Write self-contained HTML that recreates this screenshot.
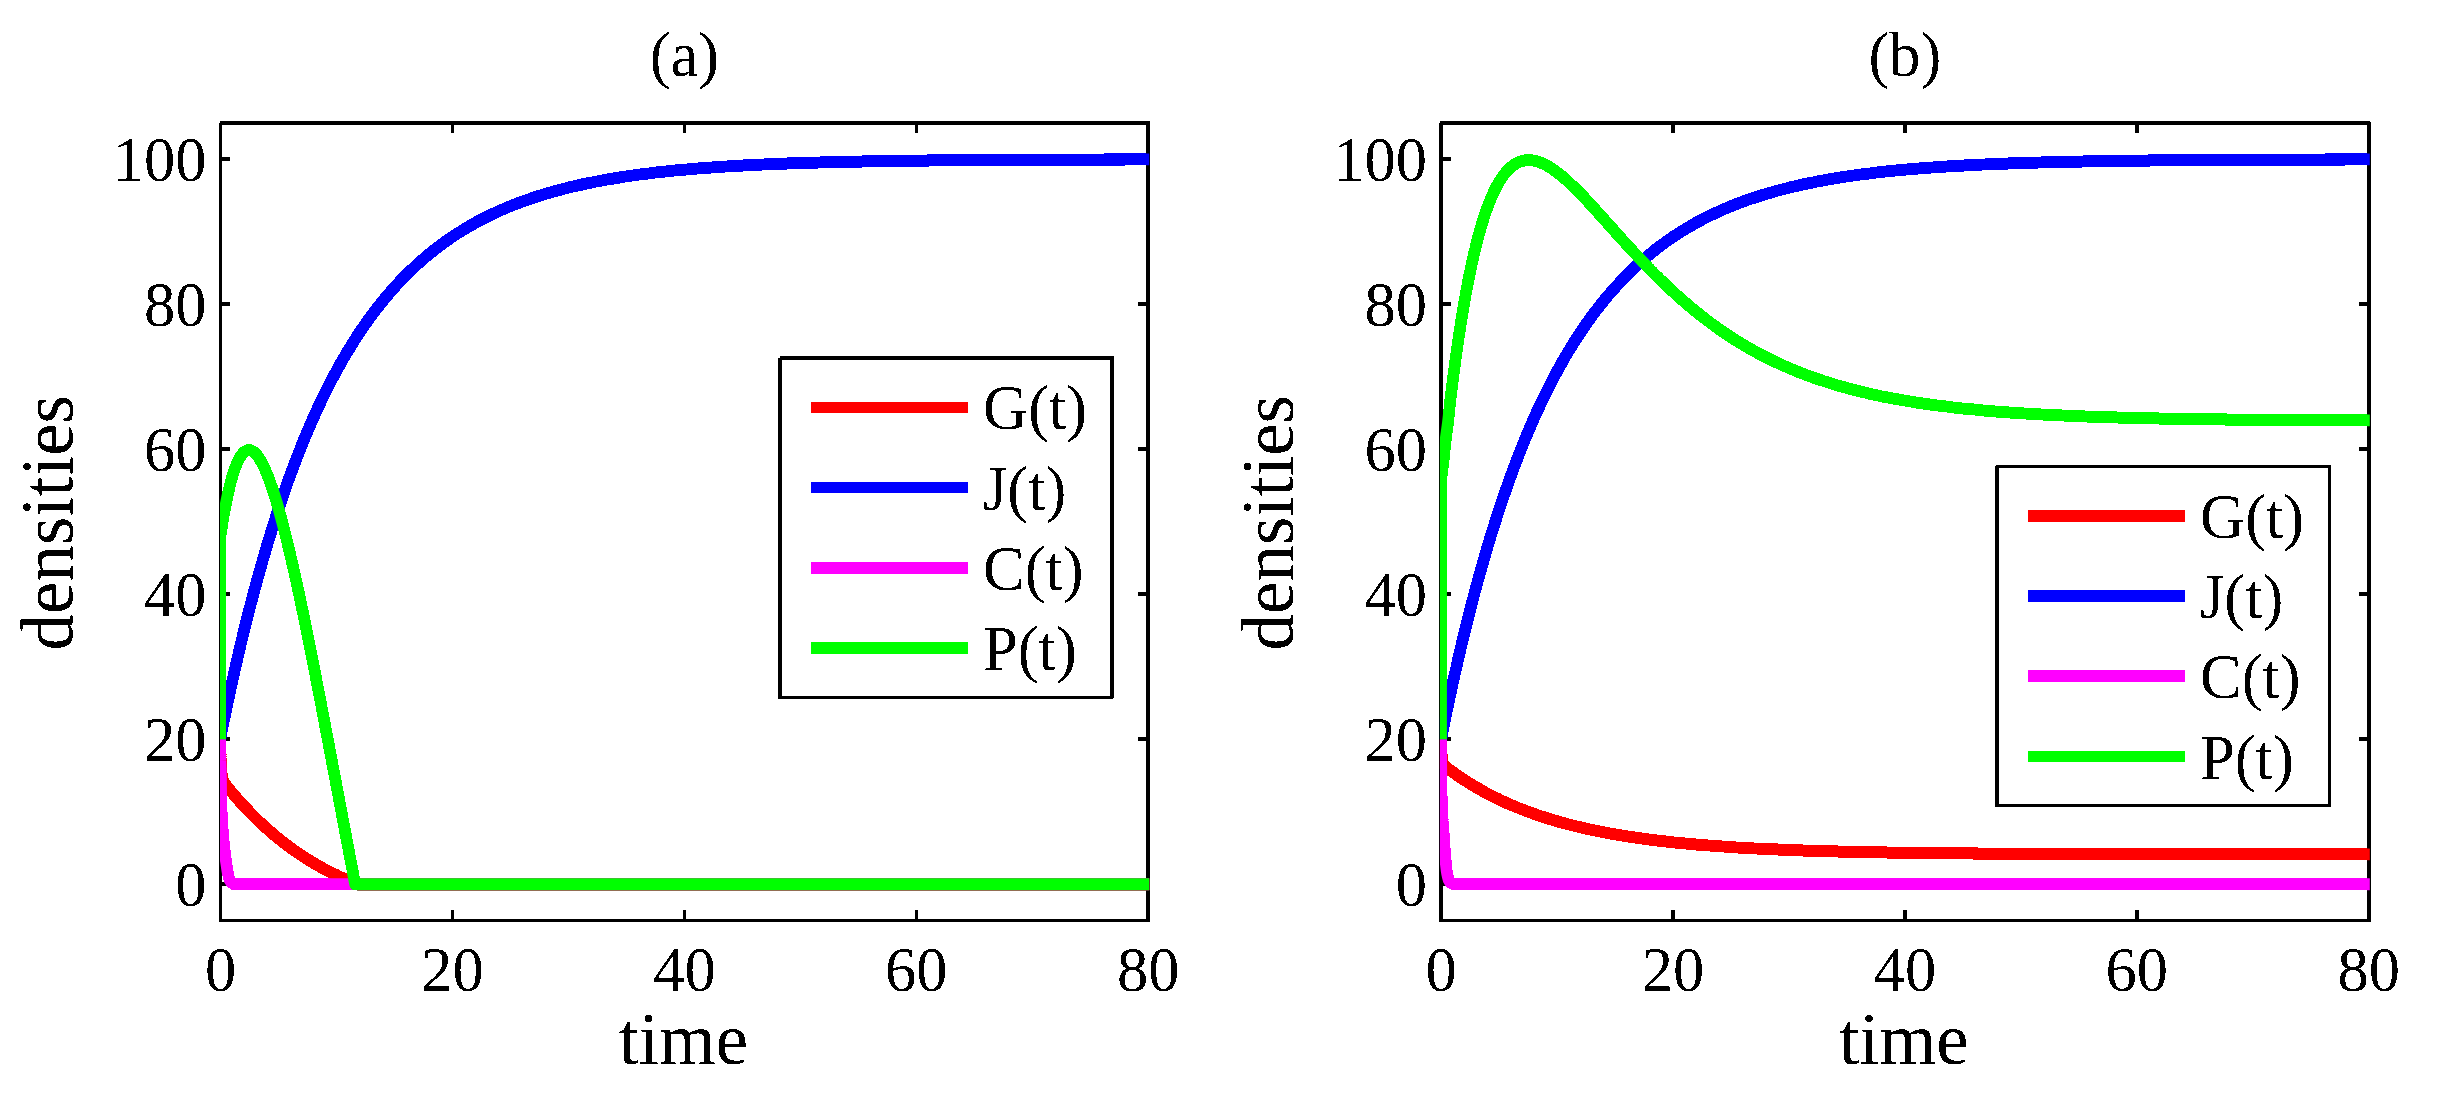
<!DOCTYPE html>
<html><head><meta charset="utf-8"><title>densities</title>
<style>html,body{margin:0;padding:0;background:#fff;width:2447px;height:1101px;overflow:hidden}svg{display:block}text{font-family:"Liberation Serif","Times New Roman",serif;fill:#000}</style></head><body>
<svg width="2447" height="1101" viewBox="0 0 2447 1101">
<rect width="2447" height="1101" fill="#fff"/>
<defs><filter id="bin" filterUnits="userSpaceOnUse" x="0" y="0" width="2447" height="1101" color-interpolation-filters="sRGB"><feComponentTransfer><feFuncA type="discrete" tableValues="0 1"/></feComponentTransfer></filter><clipPath id="clipa"><rect x="220.00" y="121.00" width="929.80" height="801.50"/></clipPath><clipPath id="clipb"><rect x="1439.90" y="121.00" width="930.40" height="801.50"/></clipPath></defs>
<g filter="url(#bin)">
<rect x="219" y="123" width="3" height="799" fill="#000"/><rect x="220" y="121" width="930" height="4" fill="#000"/><rect x="1146" y="122" width="4" height="800" fill="#000"/><rect x="219" y="919" width="930" height="3" fill="#000"/>
<path d="M221.00,884.25H230.00M1147.00,884.25H1138.00M221.00,739.25H230.00M1147.00,739.25H1138.00M221.00,594.25H230.00M1147.00,594.25H1138.00M221.00,449.25H230.00M1147.00,449.25H1138.00M221.00,304.25H230.00M1147.00,304.25H1138.00M221.00,159.25H230.00M1147.00,159.25H1138.00M452.45,920.00V910.00M452.45,124.00V133.00M684.40,920.00V910.00M684.40,124.00V133.00M916.35,920.00V910.00M916.35,124.00V133.00" stroke="#000" stroke-width="3.50" fill="none"/>
<g clip-path="url(#clipa)" fill="none" stroke-width="11.80" stroke-linejoin="round" stroke-linecap="butt">
<path stroke="#ff0000" d="M220.10,739.25 L220.11,739.84 L220.12,740.42 L220.13,740.98 L220.15,741.55 L220.16,742.10 L220.17,742.65 L220.18,743.18 L220.19,743.71 L220.20,744.23 L220.22,744.75 L220.23,745.26 L220.24,745.76 L220.25,746.25 L220.26,746.73 L220.27,747.21 L220.29,747.68 L220.30,748.15 L220.31,748.61 L220.32,749.06 L220.33,749.50 L220.34,749.94 L220.36,750.37 L220.37,750.80 L220.38,751.22 L220.39,751.63 L220.40,752.04 L220.41,752.44 L220.42,752.84 L220.44,753.23 L220.45,753.62 L220.46,754.00 L220.47,754.37 L220.48,754.74 L220.49,755.10 L220.51,755.46 L220.52,755.81 L220.53,756.16 L220.54,756.51 L220.55,756.84 L220.56,757.18 L220.58,757.51 L220.59,757.83 L220.60,758.15 L220.61,758.46 L220.62,758.78 L220.63,759.08 L220.65,759.38 L220.66,759.68 L220.67,759.97 L220.68,760.26 L220.73,761.44 L220.78,762.56 L220.79,762.91 L220.83,763.60 L220.88,764.59 L220.91,765.21 L220.93,765.52 L220.98,766.40 L221.02,767.21 L221.02,767.22 L221.07,768.00 L221.12,768.74 L221.14,768.96 L221.17,769.43 L221.22,770.09 L221.25,770.49 L221.27,770.70 L221.32,771.29 L221.37,771.82 L221.37,771.84 L221.42,772.36 L221.47,772.86 L221.48,773.00 L221.52,773.32 L221.57,773.77 L221.60,774.03 L221.61,774.19 L221.66,774.58 L221.71,774.94 L221.71,774.96 L221.76,775.32 L221.81,775.65 L221.82,775.75 L221.86,775.98 L221.91,776.28 L221.94,776.46 L221.96,776.57 L222.01,776.85 L222.05,777.10 L222.06,777.12 L222.11,777.37 L222.16,777.61 L222.17,777.67 L222.20,777.84 L222.25,778.05 L222.28,778.18 L222.30,778.26 L222.35,778.46 L222.40,778.64 L222.40,778.65 L222.45,778.84 L222.50,779.01 L222.51,779.06 L222.55,779.18 L222.60,779.35 L222.63,779.44 L222.65,779.50 L222.70,779.65 L222.74,779.79 L222.74,779.80 L222.79,779.94 L222.84,780.07 L222.86,780.11 L222.89,780.20 L222.94,780.33 L222.97,780.40 L222.99,780.45 L223.04,780.57 L223.08,780.68 L223.09,780.69 L223.14,780.80 L223.19,780.91 L223.20,780.93 L223.24,781.02 L223.29,781.12 L223.31,781.18 L223.33,781.22 L223.38,781.32 L223.43,781.40 L223.43,781.41 L223.48,781.51 L223.53,781.60 L223.54,781.62 L223.58,781.69 L223.66,781.83 L223.77,782.03 L223.89,782.22 L224.00,782.40 L224.11,782.58 L224.23,782.75 L224.34,782.92 L224.46,783.09 L224.57,783.25 L224.69,783.41 L224.80,783.57 L224.92,783.73 L225.03,783.88 L225.14,784.03 L225.26,784.18 L225.37,784.33 L225.49,784.48 L225.60,784.63 L225.72,784.78 L225.83,784.92 L225.95,785.07 L226.06,785.22 L226.17,785.36 L226.29,785.50 L226.40,785.65 L226.52,785.79 L226.63,785.93 L226.75,786.08 L226.86,786.22 L226.98,786.36 L227.09,786.50 L227.21,786.65 L227.32,786.79 L227.43,786.93 L227.55,787.07 L227.66,787.21 L227.78,787.35 L227.89,787.49 L228.01,787.63 L228.12,787.78 L228.24,787.92 L228.35,788.06 L228.46,788.20 L228.58,788.34 L228.69,788.48 L228.81,788.61 L228.92,788.75 L229.04,788.89 L229.15,789.03 L229.27,789.17 L229.38,789.31 L229.49,789.45 L229.61,789.59 L229.72,789.73 L229.84,789.87 L229.95,790.00 L230.07,790.14 L230.18,790.28 L230.30,790.42 L230.41,790.56 L230.52,790.69 L230.64,790.83 L230.75,790.97 L230.87,791.11 L230.98,791.24 L231.10,791.38 L231.21,791.52 L231.33,791.65 L231.44,791.79 L231.56,791.93 L231.67,792.06 L231.78,792.20 L231.90,792.34 L232.01,792.47 L232.13,792.61 L232.24,792.75 L232.36,792.88 L232.47,793.02 L232.59,793.15 L232.70,793.29 L232.81,793.42 L232.93,793.56 L233.04,793.69 L233.16,793.83 L233.27,793.96 L233.39,794.10 L233.50,794.23 L233.62,794.37 L233.73,794.50 L233.84,794.64 L233.96,794.77 L234.07,794.90 L234.19,795.04 L234.30,795.17 L234.42,795.30 L234.53,795.44 L234.65,795.57 L234.76,795.70 L234.87,795.84 L234.99,795.97 L235.10,796.10 L235.22,796.24 L235.33,796.37 L235.45,796.50 L235.56,796.63 L235.68,796.77 L235.79,796.90 L235.91,797.03 L236.02,797.16 L236.13,797.29 L236.25,797.43 L236.36,797.56 L236.48,797.69 L236.59,797.82 L236.71,797.95 L236.82,798.08 L236.94,798.21 L237.05,798.35 L237.16,798.48 L237.28,798.61 L237.39,798.74 L237.51,798.87 L237.62,799.00 L237.74,799.13 L237.85,799.26 L237.97,799.39 L238.08,799.52 L238.19,799.65 L238.31,799.78 L238.42,799.91 L238.54,800.04 L238.65,800.17 L238.77,800.29 L238.88,800.42 L239.00,800.55 L239.11,800.68 L239.22,800.81 L239.34,800.94 L239.45,801.07 L239.57,801.20 L239.68,801.32 L239.80,801.45 L239.91,801.58 L240.03,801.71 L240.14,801.83 L240.25,801.96 L240.37,802.09 L240.48,802.22 L240.60,802.34 L240.71,802.47 L240.83,802.60 L240.94,802.73 L241.06,802.85 L241.17,802.98 L241.29,803.11 L241.40,803.23 L241.51,803.36 L241.63,803.48 L241.74,803.61 L241.86,803.74 L241.97,803.86 L242.09,803.99 L242.20,804.11 L242.32,804.24 L242.43,804.37 L242.54,804.49 L242.66,804.62 L242.77,804.74 L242.89,804.87 L243.00,804.99 L243.12,805.12 L243.23,805.24 L243.35,805.36 L243.46,805.49 L243.57,805.61 L243.69,805.74 L243.80,805.86 L243.92,805.99 L244.03,806.11 L244.15,806.23 L244.26,806.36 L244.38,806.48 L244.49,806.60 L244.60,806.73 L244.72,806.85 L244.83,806.97 L244.95,807.10 L245.06,807.22 L245.18,807.34 L245.29,807.46 L245.41,807.59 L245.52,807.71 L245.64,807.83 L245.75,807.95 L245.86,808.07 L245.98,808.20 L246.09,808.32 L246.21,808.44 L246.32,808.56 L246.44,808.68 L246.55,808.80 L246.67,808.93 L246.78,809.05 L246.89,809.17 L247.01,809.29 L247.12,809.41 L247.24,809.53 L247.35,809.65 L247.47,809.77 L247.58,809.89 L247.70,810.01 L247.81,810.13 L247.92,810.25 L248.04,810.37 L248.15,810.49 L248.27,810.61 L248.38,810.73 L248.50,810.85 L248.61,810.97 L248.73,811.09 L248.84,811.21 L248.95,811.33 L249.07,811.44 L249.18,811.56 L249.30,811.68 L249.41,811.80 L249.53,811.92 L249.64,812.04 L249.76,812.16 L249.87,812.27 L249.99,812.39 L250.10,812.51 L250.21,812.63 L250.33,812.75 L250.44,812.86 L250.56,812.98 L250.67,813.10 L250.79,813.21 L250.90,813.33 L251.02,813.45 L251.13,813.57 L251.24,813.68 L251.36,813.80 L251.47,813.92 L251.59,814.03 L251.70,814.15 L251.82,814.26 L251.93,814.38 L252.05,814.50 L252.16,814.61 L252.27,814.73 L252.39,814.84 L252.50,814.96 L252.62,815.07 L252.73,815.19 L252.85,815.31 L252.96,815.42 L253.08,815.54 L253.19,815.65 L253.30,815.77 L253.42,815.88 L253.53,815.99 L253.65,816.11 L253.76,816.22 L253.88,816.34 L253.99,816.45 L254.11,816.57 L254.22,816.68 L254.34,816.79 L254.45,816.91 L254.56,817.02 L254.68,817.13 L254.79,817.25 L254.91,817.36 L255.40,817.85 L255.90,818.34 L256.39,818.82 L256.88,819.30 L257.38,819.78 L257.87,820.26 L258.37,820.74 L258.86,821.21 L259.36,821.68 L259.85,822.15 L260.35,822.62 L260.84,823.09 L261.33,823.55 L261.83,824.01 L262.32,824.47 L262.82,824.93 L263.31,825.39 L263.81,825.84 L264.30,826.30 L264.79,826.75 L265.29,827.20 L265.78,827.64 L266.28,828.09 L266.77,828.53 L267.27,828.98 L267.76,829.41 L268.25,829.85 L268.75,830.29 L269.24,830.72 L269.74,831.16 L270.23,831.59 L270.73,832.02 L271.22,832.44 L271.72,832.87 L272.21,833.29 L272.70,833.71 L273.20,834.13 L273.69,834.55 L274.19,834.97 L274.68,835.38 L275.18,835.79 L275.67,836.20 L276.16,836.61 L276.66,837.02 L277.15,837.43 L277.65,837.83 L278.14,838.23 L278.64,838.63 L279.13,839.03 L279.62,839.43 L280.12,839.82 L280.61,840.22 L281.11,840.61 L281.60,841.00 L282.10,841.39 L282.59,841.78 L283.08,842.16 L283.58,842.55 L284.07,842.93 L284.57,843.31 L285.06,843.69 L285.56,844.06 L286.05,844.44 L286.55,844.81 L287.04,845.18 L287.53,845.55 L288.03,845.92 L288.52,846.29 L289.02,846.66 L289.51,847.02 L290.01,847.38 L290.50,847.74 L290.99,848.10 L291.49,848.46 L291.98,848.82 L292.48,849.17 L292.97,849.53 L293.47,849.88 L293.96,850.23 L294.45,850.58 L294.95,850.92 L295.44,851.27 L295.94,851.61 L296.43,851.95 L296.93,852.29 L297.42,852.63 L297.92,852.97 L298.41,853.31 L298.90,853.64 L299.40,853.98 L299.89,854.31 L300.39,854.64 L300.88,854.97 L301.38,855.30 L301.87,855.62 L302.36,855.95 L302.86,856.27 L303.35,856.59 L303.85,856.91 L304.34,857.23 L304.84,857.55 L305.33,857.86 L305.82,858.18 L306.32,858.49 L306.81,858.80 L307.31,859.11 L307.80,859.42 L308.30,859.73 L308.79,860.04 L309.29,860.34 L309.78,860.65 L310.27,860.95 L310.77,861.25 L311.26,861.55 L311.76,861.85 L312.25,862.14 L312.75,862.44 L313.24,862.73 L313.73,863.03 L314.23,863.32 L314.72,863.61 L315.22,863.90 L315.71,864.18 L316.21,864.47 L316.70,864.76 L317.19,865.04 L317.69,865.32 L318.18,865.60 L318.68,865.88 L319.17,866.16 L319.67,866.44 L320.16,866.72 L320.65,866.99 L321.15,867.26 L321.64,867.54 L322.14,867.81 L322.63,868.08 L323.13,868.35 L323.62,868.61 L324.12,868.88 L324.61,869.14 L325.10,869.41 L325.60,869.67 L326.09,869.93 L326.59,870.19 L327.08,870.45 L327.58,870.71 L328.07,870.97 L328.56,871.22 L329.06,871.48 L329.55,871.73 L330.05,871.98 L330.54,872.23 L331.04,872.48 L331.53,872.73 L332.02,872.98 L332.52,873.23 L333.01,873.47 L333.51,873.71 L334.00,873.96 L334.50,874.20 L334.99,874.44 L335.49,874.68 L335.98,874.92 L336.47,875.16 L336.97,875.39 L337.46,875.63 L337.96,875.86 L338.45,876.10 L338.95,876.33 L339.44,876.56 L339.93,876.79 L340.43,877.02 L340.92,877.25 L341.42,877.47 L341.91,877.70 L342.41,877.92 L342.90,878.15 L343.39,878.37 L343.89,878.59 L344.38,878.81 L344.88,879.03 L345.37,879.25 L345.87,879.47 L346.36,879.68 L346.86,879.90 L347.35,880.11 L347.84,880.33 L348.34,880.54 L348.83,880.75 L349.33,880.96 L349.82,881.17 L350.32,881.38 L350.81,881.59 L351.30,881.79 L351.80,882.00 L352.29,882.20 L352.79,882.41 L353.28,882.61 L353.78,882.81 L354.27,883.01 L354.76,883.21 L355.26,883.41 L355.75,883.61 L356.25,883.81 L356.74,884.01 L357.24,884.20 L357.73,884.25 L358.23,884.25 L358.72,884.25 L359.21,884.25 L359.71,884.25 L360.20,884.25 L360.70,884.25 L361.19,884.25 L361.69,884.25 L362.18,884.25 L362.67,884.25 L363.17,884.25 L363.66,884.25 L364.16,884.25 L364.65,884.25 L365.15,884.25 L365.64,884.25 L366.13,884.25 L366.63,884.25 L367.12,884.25 L367.62,884.25 L368.11,884.25 L368.61,884.25 L369.10,884.25 L369.59,884.25 L370.09,884.25 L370.58,884.25 L371.08,884.25 L371.57,884.25 L372.07,884.25 L372.56,884.25 L373.06,884.25 L373.55,884.25 L374.04,884.25 L374.54,884.25 L375.03,884.25 L375.53,884.25 L376.02,884.25 L376.52,884.25 L377.01,884.25 L377.50,884.25 L378.00,884.25 L378.49,884.25 L378.99,884.25 L379.48,884.25 L379.98,884.25 L380.47,884.25 L380.96,884.25 L381.46,884.25 L381.95,884.25 L382.45,884.25 L382.94,884.25 L383.44,884.25 L383.93,884.25 L384.43,884.25 L384.92,884.25 L385.41,884.25 L385.91,884.25 L386.40,884.25 L386.90,884.25 L387.39,884.25 L387.89,884.25 L388.38,884.25 L388.87,884.25 L389.37,884.25 L389.86,884.25 L390.36,884.25 L390.85,884.25 L391.35,884.25 L391.84,884.25 L392.33,884.25 L392.83,884.25 L393.32,884.25 L393.82,884.25 L394.31,884.25 L394.81,884.25 L395.30,884.25 L395.79,884.25 L396.29,884.25 L396.78,884.25 L397.28,884.25 L397.77,884.25 L398.27,884.25 L398.76,884.25 L399.26,884.25 L399.75,884.25 L400.24,884.25 L400.74,884.25 L401.23,884.25 L401.73,884.25 L402.22,884.25 L402.72,884.25 L403.21,884.25 L403.70,884.25 L404.20,884.25 L404.69,884.25 L405.19,884.25 L405.68,884.25 L406.18,884.25 L406.67,884.25 L407.16,884.25 L407.66,884.25 L408.15,884.25 L408.65,884.25 L409.14,884.25 L409.64,884.25 L410.13,884.25 L410.63,884.25 L411.12,884.25 L411.61,884.25 L412.11,884.25 L412.60,884.25 L413.10,884.25 L413.59,884.25 L414.09,884.25 L414.58,884.25 L415.07,884.25 L415.57,884.25 L416.06,884.25 L416.56,884.25 L417.05,884.25 L417.55,884.25 L418.04,884.25 L418.53,884.25 L419.03,884.25 L419.52,884.25 L420.02,884.25 L420.51,884.25 L421.01,884.25 L421.50,884.25 L422.00,884.25 L422.49,884.25 L422.98,884.25 L423.48,884.25 L423.97,884.25 L424.47,884.25 L424.96,884.25 L425.46,884.25 L425.95,884.25 L426.44,884.25 L426.94,884.25 L427.43,884.25 L427.93,884.25 L428.42,884.25 L428.92,884.25 L429.41,884.25 L429.90,884.25 L430.40,884.25 L430.89,884.25 L431.39,884.25 L431.88,884.25 L432.38,884.25 L432.87,884.25 L433.36,884.25 L433.86,884.25 L434.35,884.25 L434.85,884.25 L435.34,884.25 L435.84,884.25 L436.33,884.25 L436.83,884.25 L437.32,884.25 L437.81,884.25 L438.31,884.25 L438.80,884.25 L439.30,884.25 L439.79,884.25 L440.29,884.25 L440.78,884.25 L441.27,884.25 L441.77,884.25 L442.26,884.25 L442.76,884.25 L443.25,884.25 L443.75,884.25 L444.24,884.25 L444.73,884.25 L445.23,884.25 L445.72,884.25 L446.22,884.25 L446.71,884.25 L447.21,884.25 L447.70,884.25 L448.20,884.25 L448.69,884.25 L449.18,884.25 L449.68,884.25 L450.17,884.25 L450.67,884.25 L451.16,884.25 L451.66,884.25 L452.15,884.25 L454.48,884.25 L456.81,884.25 L459.13,884.25 L461.46,884.25 L463.79,884.25 L466.12,884.25 L468.45,884.25 L470.78,884.25 L473.10,884.25 L475.43,884.25 L477.76,884.25 L480.09,884.25 L482.42,884.25 L484.75,884.25 L487.07,884.25 L489.40,884.25 L491.73,884.25 L494.06,884.25 L496.39,884.25 L498.72,884.25 L501.04,884.25 L503.37,884.25 L505.70,884.25 L508.03,884.25 L510.36,884.25 L512.68,884.25 L515.01,884.25 L517.34,884.25 L519.67,884.25 L522.00,884.25 L524.33,884.25 L526.65,884.25 L528.98,884.25 L531.31,884.25 L533.64,884.25 L535.97,884.25 L538.30,884.25 L540.62,884.25 L542.95,884.25 L545.28,884.25 L547.61,884.25 L549.94,884.25 L552.27,884.25 L554.59,884.25 L556.92,884.25 L559.25,884.25 L561.58,884.25 L563.91,884.25 L566.23,884.25 L568.56,884.25 L570.89,884.25 L573.22,884.25 L575.55,884.25 L577.88,884.25 L580.20,884.25 L582.53,884.25 L584.86,884.25 L587.19,884.25 L589.52,884.25 L591.85,884.25 L594.17,884.25 L596.50,884.25 L598.83,884.25 L601.16,884.25 L603.49,884.25 L605.82,884.25 L608.14,884.25 L610.47,884.25 L612.80,884.25 L615.13,884.25 L617.46,884.25 L619.78,884.25 L622.11,884.25 L624.44,884.25 L626.77,884.25 L629.10,884.25 L631.43,884.25 L633.75,884.25 L636.08,884.25 L638.41,884.25 L640.74,884.25 L643.07,884.25 L645.40,884.25 L647.72,884.25 L650.05,884.25 L652.38,884.25 L654.71,884.25 L657.04,884.25 L659.37,884.25 L661.69,884.25 L664.02,884.25 L666.35,884.25 L668.68,884.25 L671.01,884.25 L673.33,884.25 L675.66,884.25 L677.99,884.25 L680.32,884.25 L682.65,884.25 L684.98,884.25 L687.30,884.25 L689.63,884.25 L691.96,884.25 L694.29,884.25 L696.62,884.25 L698.95,884.25 L701.27,884.25 L703.60,884.25 L705.93,884.25 L708.26,884.25 L710.59,884.25 L712.92,884.25 L715.24,884.25 L717.57,884.25 L719.90,884.25 L722.23,884.25 L724.56,884.25 L726.88,884.25 L729.21,884.25 L731.54,884.25 L733.87,884.25 L736.20,884.25 L738.53,884.25 L740.85,884.25 L743.18,884.25 L745.51,884.25 L747.84,884.25 L750.17,884.25 L752.50,884.25 L754.82,884.25 L757.15,884.25 L759.48,884.25 L761.81,884.25 L764.14,884.25 L766.47,884.25 L768.79,884.25 L771.12,884.25 L773.45,884.25 L775.78,884.25 L778.11,884.25 L780.43,884.25 L782.76,884.25 L785.09,884.25 L787.42,884.25 L789.75,884.25 L792.08,884.25 L794.40,884.25 L796.73,884.25 L799.06,884.25 L801.39,884.25 L803.72,884.25 L806.05,884.25 L808.37,884.25 L810.70,884.25 L813.03,884.25 L815.36,884.25 L817.69,884.25 L820.02,884.25 L822.34,884.25 L824.67,884.25 L827.00,884.25 L829.33,884.25 L831.66,884.25 L833.98,884.25 L836.31,884.25 L838.64,884.25 L840.97,884.25 L843.30,884.25 L845.63,884.25 L847.95,884.25 L850.28,884.25 L852.61,884.25 L854.94,884.25 L857.27,884.25 L859.60,884.25 L861.92,884.25 L864.25,884.25 L866.58,884.25 L868.91,884.25 L871.24,884.25 L873.57,884.25 L875.89,884.25 L878.22,884.25 L880.55,884.25 L882.88,884.25 L885.21,884.25 L887.53,884.25 L889.86,884.25 L892.19,884.25 L894.52,884.25 L896.85,884.25 L899.18,884.25 L901.50,884.25 L903.83,884.25 L906.16,884.25 L908.49,884.25 L910.82,884.25 L913.15,884.25 L915.47,884.25 L917.80,884.25 L920.13,884.25 L922.46,884.25 L924.79,884.25 L927.12,884.25 L929.44,884.25 L931.77,884.25 L934.10,884.25 L936.43,884.25 L938.76,884.25 L941.08,884.25 L943.41,884.25 L945.74,884.25 L948.07,884.25 L950.40,884.25 L952.73,884.25 L955.05,884.25 L957.38,884.25 L959.71,884.25 L962.04,884.25 L964.37,884.25 L966.70,884.25 L969.02,884.25 L971.35,884.25 L973.68,884.25 L976.01,884.25 L978.34,884.25 L980.67,884.25 L982.99,884.25 L985.32,884.25 L987.65,884.25 L989.98,884.25 L992.31,884.25 L994.63,884.25 L996.96,884.25 L999.29,884.25 L1001.62,884.25 L1003.95,884.25 L1006.28,884.25 L1008.60,884.25 L1010.93,884.25 L1013.26,884.25 L1015.59,884.25 L1017.92,884.25 L1020.25,884.25 L1022.57,884.25 L1024.90,884.25 L1027.23,884.25 L1029.56,884.25 L1031.89,884.25 L1034.22,884.25 L1036.54,884.25 L1038.87,884.25 L1041.20,884.25 L1043.53,884.25 L1045.86,884.25 L1048.18,884.25 L1050.51,884.25 L1052.84,884.25 L1055.17,884.25 L1057.50,884.25 L1059.83,884.25 L1062.15,884.25 L1064.48,884.25 L1066.81,884.25 L1069.14,884.25 L1071.47,884.25 L1073.80,884.25 L1076.12,884.25 L1078.45,884.25 L1080.78,884.25 L1083.11,884.25 L1085.44,884.25 L1087.77,884.25 L1090.09,884.25 L1092.42,884.25 L1094.75,884.25 L1097.08,884.25 L1099.41,884.25 L1101.73,884.25 L1104.06,884.25 L1106.39,884.25 L1108.72,884.25 L1111.05,884.25 L1113.38,884.25 L1115.70,884.25 L1118.03,884.25 L1120.36,884.25 L1122.69,884.25 L1125.02,884.25 L1127.35,884.25 L1129.67,884.25 L1132.00,884.25 L1134.33,884.25 L1136.66,884.25 L1138.99,884.25 L1141.32,884.25 L1143.64,884.25 L1145.97,884.25 L1148.30,884.25 L1149.30,884.25"/>
<path stroke="#0000ff" d="M220.10,739.25 L220.11,739.19 L220.12,739.13 L220.13,739.08 L220.15,739.02 L220.16,738.96 L220.17,738.90 L220.18,738.84 L220.19,738.78 L220.20,738.73 L220.22,738.67 L220.23,738.61 L220.24,738.55 L220.25,738.49 L220.26,738.43 L220.27,738.38 L220.29,738.32 L220.30,738.26 L220.31,738.20 L220.32,738.14 L220.33,738.09 L220.34,738.03 L220.36,737.97 L220.37,737.91 L220.38,737.85 L220.39,737.79 L220.40,737.74 L220.41,737.68 L220.42,737.62 L220.44,737.56 L220.45,737.50 L220.46,737.45 L220.47,737.39 L220.48,737.33 L220.49,737.27 L220.51,737.21 L220.52,737.16 L220.53,737.10 L220.54,737.04 L220.55,736.98 L220.56,736.92 L220.58,736.87 L220.59,736.81 L220.60,736.75 L220.61,736.69 L220.62,736.63 L220.63,736.57 L220.65,736.52 L220.66,736.46 L220.67,736.40 L220.68,736.34 L220.73,736.10 L220.78,735.85 L220.79,735.77 L220.83,735.61 L220.88,735.36 L220.91,735.20 L220.93,735.12 L220.98,734.87 L221.02,734.63 L221.02,734.63 L221.07,734.38 L221.12,734.14 L221.14,734.06 L221.17,733.89 L221.22,733.65 L221.25,733.49 L221.27,733.40 L221.32,733.16 L221.37,732.92 L221.37,732.91 L221.42,732.67 L221.47,732.42 L221.48,732.35 L221.52,732.18 L221.57,731.94 L221.60,731.78 L221.61,731.69 L221.66,731.45 L221.71,731.22 L221.71,731.20 L221.76,730.96 L221.81,730.72 L221.82,730.65 L221.86,730.47 L221.91,730.23 L221.94,730.08 L221.96,729.99 L222.01,729.75 L222.05,729.52 L222.06,729.50 L222.11,729.26 L222.16,729.02 L222.17,728.95 L222.20,728.77 L222.25,728.53 L222.28,728.39 L222.30,728.29 L222.35,728.05 L222.40,727.82 L222.40,727.81 L222.45,727.56 L222.50,727.32 L222.51,727.26 L222.55,727.08 L222.60,726.84 L222.63,726.70 L222.65,726.60 L222.70,726.35 L222.74,726.13 L222.74,726.11 L222.79,725.87 L222.84,725.63 L222.86,725.57 L222.89,725.39 L222.94,725.15 L222.97,725.01 L222.99,724.91 L223.04,724.67 L223.08,724.45 L223.09,724.43 L223.14,724.19 L223.19,723.94 L223.20,723.89 L223.24,723.70 L223.29,723.46 L223.31,723.33 L223.33,723.22 L223.38,722.98 L223.43,722.77 L223.43,722.74 L223.48,722.50 L223.53,722.26 L223.54,722.21 L223.58,722.02 L223.66,721.66 L223.77,721.10 L223.89,720.54 L224.00,719.98 L224.11,719.43 L224.23,718.87 L224.34,718.32 L224.46,717.77 L224.57,717.21 L224.69,716.66 L224.80,716.11 L224.92,715.55 L225.03,715.00 L225.14,714.45 L225.26,713.90 L225.37,713.35 L225.49,712.80 L225.60,712.25 L225.72,711.71 L225.83,711.16 L225.95,710.61 L226.06,710.07 L226.17,709.52 L226.29,708.97 L226.40,708.43 L226.52,707.89 L226.63,707.34 L226.75,706.80 L226.86,706.26 L226.98,705.71 L227.09,705.17 L227.21,704.63 L227.32,704.09 L227.43,703.55 L227.55,703.01 L227.66,702.47 L227.78,701.93 L227.89,701.40 L228.01,700.86 L228.12,700.32 L228.24,699.79 L228.35,699.25 L228.46,698.71 L228.58,698.18 L228.69,697.65 L228.81,697.11 L228.92,696.58 L229.04,696.05 L229.15,695.51 L229.27,694.98 L229.38,694.45 L229.49,693.92 L229.61,693.39 L229.72,692.86 L229.84,692.33 L229.95,691.81 L230.07,691.28 L230.18,690.75 L230.30,690.22 L230.41,689.70 L230.52,689.17 L230.64,688.65 L230.75,688.12 L230.87,687.60 L230.98,687.07 L231.10,686.55 L231.21,686.03 L231.33,685.51 L231.44,684.98 L231.56,684.46 L231.67,683.94 L231.78,683.42 L231.90,682.90 L232.01,682.38 L232.13,681.87 L232.24,681.35 L232.36,680.83 L232.47,680.31 L232.59,679.80 L232.70,679.28 L232.81,678.77 L232.93,678.25 L233.04,677.74 L233.16,677.22 L233.27,676.71 L233.39,676.20 L233.50,675.68 L233.62,675.17 L233.73,674.66 L233.84,674.15 L233.96,673.64 L234.07,673.13 L234.19,672.62 L234.30,672.11 L234.42,671.60 L234.53,671.10 L234.65,670.59 L234.76,670.08 L234.87,669.58 L234.99,669.07 L235.10,668.57 L235.22,668.06 L235.33,667.56 L235.45,667.05 L235.56,666.55 L235.68,666.05 L235.79,665.54 L235.91,665.04 L236.02,664.54 L236.13,664.04 L236.25,663.54 L236.36,663.04 L236.48,662.54 L236.59,662.04 L236.71,661.54 L236.82,661.05 L236.94,660.55 L237.05,660.05 L237.16,659.56 L237.28,659.06 L237.39,658.56 L237.51,658.07 L237.62,657.58 L237.74,657.08 L237.85,656.59 L237.97,656.10 L238.08,655.60 L238.19,655.11 L238.31,654.62 L238.42,654.13 L238.54,653.64 L238.65,653.15 L238.77,652.66 L238.88,652.17 L239.00,651.68 L239.11,651.19 L239.22,650.71 L239.34,650.22 L239.45,649.73 L239.57,649.25 L239.68,648.76 L239.80,648.27 L239.91,647.79 L240.03,647.31 L240.14,646.82 L240.25,646.34 L240.37,645.86 L240.48,645.37 L240.60,644.89 L240.71,644.41 L240.83,643.93 L240.94,643.45 L241.06,642.97 L241.17,642.49 L241.29,642.01 L241.40,641.53 L241.51,641.06 L241.63,640.58 L241.74,640.10 L241.86,639.62 L241.97,639.15 L242.09,638.67 L242.20,638.20 L242.32,637.72 L242.43,637.25 L242.54,636.77 L242.66,636.30 L242.77,635.83 L242.89,635.36 L243.00,634.88 L243.12,634.41 L243.23,633.94 L243.35,633.47 L243.46,633.00 L243.57,632.53 L243.69,632.06 L243.80,631.59 L243.92,631.13 L244.03,630.66 L244.15,630.19 L244.26,629.72 L244.38,629.26 L244.49,628.79 L244.60,628.33 L244.72,627.86 L244.83,627.40 L244.95,626.93 L245.06,626.47 L245.18,626.01 L245.29,625.55 L245.41,625.08 L245.52,624.62 L245.64,624.16 L245.75,623.70 L245.86,623.24 L245.98,622.78 L246.09,622.32 L246.21,621.86 L246.32,621.40 L246.44,620.94 L246.55,620.49 L246.67,620.03 L246.78,619.57 L246.89,619.12 L247.01,618.66 L247.12,618.21 L247.24,617.75 L247.35,617.30 L247.47,616.84 L247.58,616.39 L247.70,615.94 L247.81,615.48 L247.92,615.03 L248.04,614.58 L248.15,614.13 L248.27,613.68 L248.38,613.23 L248.50,612.78 L248.61,612.33 L248.73,611.88 L248.84,611.43 L248.95,610.98 L249.07,610.53 L249.18,610.09 L249.30,609.64 L249.41,609.19 L249.53,608.75 L249.64,608.30 L249.76,607.86 L249.87,607.41 L249.99,606.97 L250.10,606.52 L250.21,606.08 L250.33,605.64 L250.44,605.20 L250.56,604.75 L250.67,604.31 L250.79,603.87 L250.90,603.43 L251.02,602.99 L251.13,602.55 L251.24,602.11 L251.36,601.67 L251.47,601.23 L251.59,600.80 L251.70,600.36 L251.82,599.92 L251.93,599.48 L252.05,599.05 L252.16,598.61 L252.27,598.18 L252.39,597.74 L252.50,597.31 L252.62,596.87 L252.73,596.44 L252.85,596.01 L252.96,595.57 L253.08,595.14 L253.19,594.71 L253.30,594.28 L253.42,593.85 L253.53,593.42 L253.65,592.99 L253.76,592.56 L253.88,592.13 L253.99,591.70 L254.11,591.27 L254.22,590.84 L254.34,590.41 L254.45,589.99 L254.56,589.56 L254.68,589.13 L254.79,588.71 L254.91,588.28 L255.40,586.45 L255.90,584.62 L256.39,582.80 L256.88,580.99 L257.38,579.19 L257.87,577.40 L258.37,575.61 L258.86,573.83 L259.36,572.06 L259.85,570.30 L260.35,568.54 L260.84,566.79 L261.33,565.05 L261.83,563.32 L262.32,561.59 L262.82,559.87 L263.31,558.16 L263.81,556.46 L264.30,554.76 L264.79,553.07 L265.29,551.39 L265.78,549.71 L266.28,548.04 L266.77,546.38 L267.27,544.73 L267.76,543.08 L268.25,541.44 L268.75,539.81 L269.24,538.18 L269.74,536.56 L270.23,534.95 L270.73,533.34 L271.22,531.74 L271.72,530.15 L272.21,528.57 L272.70,526.99 L273.20,525.42 L273.69,523.85 L274.19,522.30 L274.68,520.75 L275.18,519.20 L275.67,517.66 L276.16,516.13 L276.66,514.61 L277.15,513.09 L277.65,511.58 L278.14,510.07 L278.64,508.57 L279.13,507.08 L279.62,505.59 L280.12,504.11 L280.61,502.64 L281.11,501.17 L281.60,499.71 L282.10,498.26 L282.59,496.81 L283.08,495.37 L283.58,493.93 L284.07,492.50 L284.57,491.08 L285.06,489.66 L285.56,488.25 L286.05,486.84 L286.55,485.44 L287.04,484.05 L287.53,482.66 L288.03,481.28 L288.52,479.90 L289.02,478.53 L289.51,477.17 L290.01,475.81 L290.50,474.46 L290.99,473.11 L291.49,471.77 L291.98,470.43 L292.48,469.10 L292.97,467.78 L293.47,466.46 L293.96,465.15 L294.45,463.84 L294.95,462.54 L295.44,461.24 L295.94,459.95 L296.43,458.67 L296.93,457.39 L297.42,456.12 L297.92,454.85 L298.41,453.58 L298.90,452.33 L299.40,451.07 L299.89,449.83 L300.39,448.59 L300.88,447.35 L301.38,446.12 L301.87,444.89 L302.36,443.67 L302.86,442.46 L303.35,441.25 L303.85,440.04 L304.34,438.84 L304.84,437.65 L305.33,436.46 L305.82,435.27 L306.32,434.09 L306.81,432.92 L307.31,431.75 L307.80,430.59 L308.30,429.43 L308.79,428.27 L309.29,427.12 L309.78,425.98 L310.27,424.84 L310.77,423.70 L311.26,422.57 L311.76,421.45 L312.25,420.33 L312.75,419.21 L313.24,418.10 L313.73,417.00 L314.23,415.89 L314.72,414.80 L315.22,413.71 L315.71,412.62 L316.21,411.54 L316.70,410.46 L317.19,409.39 L317.69,408.32 L318.18,407.25 L318.68,406.19 L319.17,405.14 L319.67,404.09 L320.16,403.04 L320.65,402.00 L321.15,400.96 L321.64,399.93 L322.14,398.90 L322.63,397.88 L323.13,396.86 L323.62,395.84 L324.12,394.83 L324.61,393.82 L325.10,392.82 L325.60,391.82 L326.09,390.83 L326.59,389.84 L327.08,388.86 L327.58,387.87 L328.07,386.90 L328.56,385.92 L329.06,384.96 L329.55,383.99 L330.05,383.03 L330.54,382.08 L331.04,381.12 L331.53,380.18 L332.02,379.23 L332.52,378.29 L333.01,377.36 L333.51,376.42 L334.00,375.50 L334.50,374.57 L334.99,373.65 L335.49,372.74 L335.98,371.82 L336.47,370.92 L336.97,370.01 L337.46,369.11 L337.96,368.21 L338.45,367.32 L338.95,366.43 L339.44,365.55 L339.93,364.66 L340.43,363.79 L340.92,362.91 L341.42,362.04 L341.91,361.18 L342.41,360.31 L342.90,359.45 L343.39,358.60 L343.89,357.75 L344.38,356.90 L344.88,356.05 L345.37,355.21 L345.87,354.38 L346.36,353.54 L346.86,352.71 L347.35,351.89 L347.84,351.06 L348.34,350.24 L348.83,349.43 L349.33,348.61 L349.82,347.81 L350.32,347.00 L350.81,346.20 L351.30,345.40 L351.80,344.60 L352.29,343.81 L352.79,343.02 L353.28,342.24 L353.78,341.46 L354.27,340.68 L354.76,339.90 L355.26,339.13 L355.75,338.36 L356.25,337.60 L356.74,336.83 L357.24,336.08 L357.73,335.32 L358.23,334.57 L358.72,333.82 L359.21,333.07 L359.71,332.33 L360.20,331.59 L360.70,330.85 L361.19,330.12 L361.69,329.39 L362.18,328.66 L362.67,327.94 L363.17,327.22 L363.66,326.50 L364.16,325.79 L364.65,325.08 L365.15,324.37 L365.64,323.66 L366.13,322.96 L366.63,322.26 L367.12,321.56 L367.62,320.87 L368.11,320.18 L368.61,319.49 L369.10,318.81 L369.59,318.12 L370.09,317.45 L370.58,316.77 L371.08,316.10 L371.57,315.43 L372.07,314.76 L372.56,314.09 L373.06,313.43 L373.55,312.77 L374.04,312.12 L374.54,311.47 L375.03,310.81 L375.53,310.17 L376.02,309.52 L376.52,308.88 L377.01,308.24 L377.50,307.60 L378.00,306.97 L378.49,306.34 L378.99,305.71 L379.48,305.08 L379.98,304.46 L380.47,303.84 L380.96,303.22 L381.46,302.61 L381.95,302.00 L382.45,301.39 L382.94,300.78 L383.44,300.17 L383.93,299.57 L384.43,298.97 L384.92,298.38 L385.41,297.78 L385.91,297.19 L386.40,296.60 L386.90,296.01 L387.39,295.43 L387.89,294.85 L388.38,294.27 L388.87,293.69 L389.37,293.12 L389.86,292.54 L390.36,291.97 L390.85,291.41 L391.35,290.84 L391.84,290.28 L392.33,289.72 L392.83,289.16 L393.32,288.61 L393.82,288.05 L394.31,287.50 L394.81,286.96 L395.30,286.41 L395.79,285.87 L396.29,285.33 L396.78,284.79 L397.28,284.25 L397.77,283.72 L398.27,283.19 L398.76,282.66 L399.26,282.13 L399.75,281.60 L400.24,281.08 L400.74,280.56 L401.23,280.04 L401.73,279.53 L402.22,279.01 L402.72,278.50 L403.21,277.99 L403.70,277.48 L404.20,276.98 L404.69,276.48 L405.19,275.97 L405.68,275.48 L406.18,274.98 L406.67,274.48 L407.16,273.99 L407.66,273.50 L408.15,273.01 L408.65,272.53 L409.14,272.04 L409.64,271.56 L410.13,271.08 L410.63,270.60 L411.12,270.13 L411.61,269.65 L412.11,269.18 L412.60,268.71 L413.10,268.25 L413.59,267.78 L414.09,267.32 L414.58,266.85 L415.07,266.39 L415.57,265.94 L416.06,265.48 L416.56,265.03 L417.05,264.57 L417.55,264.12 L418.04,263.68 L418.53,263.23 L419.03,262.79 L419.52,262.34 L420.02,261.90 L420.51,261.46 L421.01,261.03 L421.50,260.59 L422.00,260.16 L422.49,259.73 L422.98,259.30 L423.48,258.87 L423.97,258.45 L424.47,258.02 L424.96,257.60 L425.46,257.18 L425.95,256.76 L426.44,256.34 L426.94,255.93 L427.43,255.52 L427.93,255.11 L428.42,254.70 L428.92,254.29 L429.41,253.88 L429.90,253.48 L430.40,253.08 L430.89,252.67 L431.39,252.28 L431.88,251.88 L432.38,251.48 L432.87,251.09 L433.36,250.70 L433.86,250.30 L434.35,249.92 L434.85,249.53 L435.34,249.14 L435.84,248.76 L436.33,248.38 L436.83,248.00 L437.32,247.62 L437.81,247.24 L438.31,246.86 L438.80,246.49 L439.30,246.12 L439.79,245.74 L440.29,245.37 L440.78,245.01 L441.27,244.64 L441.77,244.28 L442.26,243.91 L442.76,243.55 L443.25,243.19 L443.75,242.83 L444.24,242.47 L444.73,242.12 L445.23,241.76 L445.72,241.41 L446.22,241.06 L446.71,240.71 L447.21,240.36 L447.70,240.02 L448.20,239.67 L448.69,239.33 L449.18,238.99 L449.68,238.65 L450.17,238.31 L450.67,237.97 L451.16,237.63 L451.66,237.30 L452.15,236.96 L454.48,235.41 L456.81,233.89 L459.13,232.40 L461.46,230.94 L463.79,229.51 L466.12,228.11 L468.45,226.73 L470.78,225.38 L473.10,224.06 L475.43,222.77 L477.76,221.50 L480.09,220.26 L482.42,219.04 L484.75,217.85 L487.07,216.68 L489.40,215.53 L491.73,214.41 L494.06,213.31 L496.39,212.23 L498.72,211.17 L501.04,210.13 L503.37,209.12 L505.70,208.12 L508.03,207.15 L510.36,206.19 L512.68,205.25 L515.01,204.33 L517.34,203.43 L519.67,202.55 L522.00,201.69 L524.33,200.84 L526.65,200.01 L528.98,199.20 L531.31,198.40 L533.64,197.62 L535.97,196.85 L538.30,196.10 L540.62,195.36 L542.95,194.64 L545.28,193.94 L547.61,193.24 L549.94,192.56 L552.27,191.90 L554.59,191.25 L556.92,190.61 L559.25,189.98 L561.58,189.37 L563.91,188.77 L566.23,188.18 L568.56,187.60 L570.89,187.04 L573.22,186.48 L575.55,185.94 L577.88,185.40 L580.20,184.88 L582.53,184.37 L584.86,183.87 L587.19,183.38 L589.52,182.90 L591.85,182.42 L594.17,181.96 L596.50,181.51 L598.83,181.06 L601.16,180.63 L603.49,180.20 L605.82,179.78 L608.14,179.37 L610.47,178.97 L612.80,178.58 L615.13,178.19 L617.46,177.81 L619.78,177.44 L622.11,177.08 L624.44,176.72 L626.77,176.37 L629.10,176.03 L631.43,175.70 L633.75,175.37 L636.08,175.05 L638.41,174.73 L640.74,174.42 L643.07,174.12 L645.40,173.82 L647.72,173.53 L650.05,173.25 L652.38,172.97 L654.71,172.69 L657.04,172.42 L659.37,172.16 L661.69,171.90 L664.02,171.65 L666.35,171.40 L668.68,171.16 L671.01,170.92 L673.33,170.69 L675.66,170.46 L677.99,170.24 L680.32,170.02 L682.65,169.80 L684.98,169.59 L687.30,169.39 L689.63,169.18 L691.96,168.99 L694.29,168.79 L696.62,168.60 L698.95,168.41 L701.27,168.23 L703.60,168.05 L705.93,167.88 L708.26,167.70 L710.59,167.54 L712.92,167.37 L715.24,167.21 L717.57,167.05 L719.90,166.89 L722.23,166.74 L724.56,166.59 L726.88,166.44 L729.21,166.30 L731.54,166.16 L733.87,166.02 L736.20,165.89 L738.53,165.75 L740.85,165.62 L743.18,165.50 L745.51,165.37 L747.84,165.25 L750.17,165.13 L752.50,165.01 L754.82,164.90 L757.15,164.79 L759.48,164.67 L761.81,164.57 L764.14,164.46 L766.47,164.36 L768.79,164.25 L771.12,164.15 L773.45,164.06 L775.78,163.96 L778.11,163.87 L780.43,163.77 L782.76,163.68 L785.09,163.60 L787.42,163.51 L789.75,163.42 L792.08,163.34 L794.40,163.26 L796.73,163.18 L799.06,163.10 L801.39,163.02 L803.72,162.95 L806.05,162.87 L808.37,162.80 L810.70,162.73 L813.03,162.66 L815.36,162.59 L817.69,162.53 L820.02,162.46 L822.34,162.40 L824.67,162.33 L827.00,162.27 L829.33,162.21 L831.66,162.15 L833.98,162.10 L836.31,162.04 L838.64,161.98 L840.97,161.93 L843.30,161.87 L845.63,161.82 L847.95,161.77 L850.28,161.72 L852.61,161.67 L854.94,161.62 L857.27,161.58 L859.60,161.53 L861.92,161.48 L864.25,161.44 L866.58,161.40 L868.91,161.35 L871.24,161.31 L873.57,161.27 L875.89,161.23 L878.22,161.19 L880.55,161.15 L882.88,161.11 L885.21,161.08 L887.53,161.04 L889.86,161.00 L892.19,160.97 L894.52,160.93 L896.85,160.90 L899.18,160.87 L901.50,160.84 L903.83,160.80 L906.16,160.77 L908.49,160.74 L910.82,160.71 L913.15,160.68 L915.47,160.65 L917.80,160.63 L920.13,160.60 L922.46,160.57 L924.79,160.55 L927.12,160.52 L929.44,160.49 L931.77,160.47 L934.10,160.45 L936.43,160.42 L938.76,160.40 L941.08,160.38 L943.41,160.35 L945.74,160.33 L948.07,160.31 L950.40,160.29 L952.73,160.27 L955.05,160.25 L957.38,160.23 L959.71,160.21 L962.04,160.19 L964.37,160.17 L966.70,160.15 L969.02,160.13 L971.35,160.12 L973.68,160.10 L976.01,160.08 L978.34,160.06 L980.67,160.05 L982.99,160.03 L985.32,160.02 L987.65,160.00 L989.98,159.99 L992.31,159.97 L994.63,159.96 L996.96,159.94 L999.29,159.93 L1001.62,159.92 L1003.95,159.90 L1006.28,159.89 L1008.60,159.88 L1010.93,159.86 L1013.26,159.85 L1015.59,159.84 L1017.92,159.83 L1020.25,159.82 L1022.57,159.81 L1024.90,159.79 L1027.23,159.78 L1029.56,159.77 L1031.89,159.76 L1034.22,159.75 L1036.54,159.74 L1038.87,159.73 L1041.20,159.72 L1043.53,159.71 L1045.86,159.70 L1048.18,159.69 L1050.51,159.69 L1052.84,159.68 L1055.17,159.67 L1057.50,159.66 L1059.83,159.65 L1062.15,159.64 L1064.48,159.64 L1066.81,159.63 L1069.14,159.62 L1071.47,159.61 L1073.80,159.61 L1076.12,159.60 L1078.45,159.59 L1080.78,159.59 L1083.11,159.58 L1085.44,159.57 L1087.77,159.57 L1090.09,159.56 L1092.42,159.55 L1094.75,159.55 L1097.08,159.54 L1099.41,159.54 L1101.73,159.53 L1104.06,159.52 L1106.39,159.52 L1108.72,159.51 L1111.05,159.51 L1113.38,159.50 L1115.70,159.50 L1118.03,159.49 L1120.36,159.49 L1122.69,159.48 L1125.02,159.48 L1127.35,159.47 L1129.67,159.47 L1132.00,159.47 L1134.33,159.46 L1136.66,159.46 L1138.99,159.45 L1141.32,159.45 L1143.64,159.44 L1145.97,159.44 L1148.30,159.44 L1149.30,159.44"/>
<path stroke="#ff00ff" d="M220.10,739.25 L220.11,742.39 L220.12,745.66 L220.13,748.45 L220.15,750.12 L220.16,751.01 L220.17,751.87 L220.18,752.68 L220.19,753.46 L220.20,754.21 L220.22,754.92 L220.23,755.61 L220.24,756.26 L220.25,756.88 L220.26,757.47 L220.27,758.04 L220.29,758.58 L220.30,759.09 L220.31,759.58 L220.32,760.05 L220.33,760.50 L220.34,760.92 L220.36,761.32 L220.37,761.71 L220.38,762.07 L220.39,762.42 L220.40,762.76 L220.41,763.08 L220.42,763.39 L220.44,763.68 L220.45,763.96 L220.46,764.23 L220.47,764.50 L220.48,764.75 L220.49,765.00 L220.51,765.24 L220.52,765.47 L220.53,765.71 L220.54,765.93 L220.55,766.16 L220.56,766.39 L220.58,766.61 L220.59,766.84 L220.60,767.07 L220.61,767.31 L220.62,767.55 L220.63,767.79 L220.65,768.04 L220.66,768.30 L220.67,768.57 L220.68,768.84 L220.73,770.15 L220.78,771.74 L220.79,772.34 L220.83,773.69 L220.88,776.10 L220.91,778.24 L220.93,779.54 L220.98,783.86 L221.02,788.47 L221.02,788.54 L221.07,793.10 L221.12,797.04 L221.14,798.07 L221.17,799.86 L221.22,801.68 L221.25,802.79 L221.27,803.39 L221.32,804.99 L221.37,806.46 L221.37,806.50 L221.42,807.93 L221.47,809.27 L221.48,809.66 L221.52,810.54 L221.57,811.73 L221.60,812.45 L221.61,812.86 L221.66,813.92 L221.71,814.89 L221.71,814.93 L221.76,815.89 L221.81,816.79 L221.82,817.05 L221.86,817.66 L221.91,818.49 L221.94,818.99 L221.96,819.30 L222.01,820.07 L222.05,820.78 L222.06,820.82 L222.11,821.56 L222.16,822.29 L222.17,822.48 L222.20,823.01 L222.25,823.73 L222.28,824.16 L222.30,824.46 L222.35,825.19 L222.40,825.89 L222.40,825.94 L222.45,826.71 L222.50,827.46 L222.51,827.64 L222.55,828.19 L222.60,828.90 L222.63,829.31 L222.65,829.60 L222.70,830.28 L222.74,830.89 L222.74,830.95 L222.79,831.60 L222.84,832.24 L222.86,832.39 L222.89,832.87 L222.94,833.48 L222.97,833.83 L222.99,834.09 L223.04,834.68 L223.08,835.21 L223.09,835.27 L223.14,835.84 L223.19,836.41 L223.20,836.54 L223.24,836.97 L223.29,837.52 L223.31,837.83 L223.33,838.07 L223.38,838.61 L223.43,839.09 L223.43,839.15 L223.48,839.69 L223.53,840.22 L223.54,840.33 L223.58,840.75 L223.66,841.56 L223.77,842.76 L223.89,843.93 L224.00,845.08 L224.11,846.20 L224.23,847.30 L224.34,848.37 L224.46,849.41 L224.57,850.43 L224.69,851.42 L224.80,852.39 L224.92,853.34 L225.03,854.25 L225.14,855.14 L225.26,856.00 L225.37,856.84 L225.49,857.66 L225.60,858.46 L225.72,859.24 L225.83,860.02 L225.95,860.78 L226.06,861.55 L226.17,862.31 L226.29,863.08 L226.40,863.85 L226.52,864.64 L226.63,865.43 L226.75,866.24 L226.86,867.04 L226.98,867.84 L227.09,868.62 L227.21,869.39 L227.32,870.13 L227.43,870.85 L227.55,871.52 L227.66,872.16 L227.78,872.75 L227.89,873.32 L228.01,873.88 L228.12,874.43 L228.24,874.97 L228.35,875.50 L228.46,876.01 L228.58,876.50 L228.69,876.96 L228.81,877.41 L228.92,877.82 L229.04,878.21 L229.15,878.57 L229.27,878.89 L229.38,879.17 L229.49,879.43 L229.61,879.68 L229.72,879.93 L229.84,880.16 L229.95,880.39 L230.07,880.61 L230.18,880.82 L230.30,881.03 L230.41,881.22 L230.52,881.41 L230.64,881.58 L230.75,881.75 L230.87,881.91 L230.98,882.06 L231.10,882.20 L231.21,882.34 L231.33,882.46 L231.44,882.57 L231.56,882.68 L231.67,882.77 L231.78,882.86 L231.90,882.95 L232.01,883.04 L232.13,883.12 L232.24,883.21 L232.36,883.29 L232.47,883.37 L232.59,883.45 L232.70,883.53 L232.81,883.60 L232.93,883.67 L233.04,883.74 L233.16,883.81 L233.27,883.87 L233.39,883.93 L233.50,883.98 L233.62,884.03 L233.73,884.08 L233.84,884.12 L233.96,884.15 L234.07,884.18 L234.19,884.21 L234.30,884.23 L234.42,884.24 L234.53,884.25 L234.65,884.25 L234.76,884.25 L234.87,884.25 L234.99,884.25 L235.10,884.25 L235.22,884.25 L235.33,884.25 L235.45,884.25 L235.56,884.25 L235.68,884.25 L235.79,884.25 L235.91,884.25 L236.02,884.25 L236.13,884.25 L236.25,884.25 L236.36,884.25 L236.48,884.25 L236.59,884.25 L236.71,884.25 L236.82,884.25 L236.94,884.25 L237.05,884.25 L237.16,884.25 L237.28,884.25 L237.39,884.25 L237.51,884.25 L237.62,884.25 L237.74,884.25 L237.85,884.25 L237.97,884.25 L238.08,884.25 L238.19,884.25 L238.31,884.25 L238.42,884.25 L238.54,884.25 L238.65,884.25 L238.77,884.25 L238.88,884.25 L239.00,884.25 L239.11,884.25 L239.22,884.25 L239.34,884.25 L239.45,884.25 L239.57,884.25 L239.68,884.25 L239.80,884.25 L239.91,884.25 L240.03,884.25 L240.14,884.25 L240.25,884.25 L240.37,884.25 L240.48,884.25 L240.60,884.25 L240.71,884.25 L240.83,884.25 L240.94,884.25 L241.06,884.25 L241.17,884.25 L241.29,884.25 L241.40,884.25 L241.51,884.25 L241.63,884.25 L241.74,884.25 L241.86,884.25 L241.97,884.25 L242.09,884.25 L242.20,884.25 L242.32,884.25 L242.43,884.25 L242.54,884.25 L242.66,884.25 L242.77,884.25 L242.89,884.25 L243.00,884.25 L243.12,884.25 L243.23,884.25 L243.35,884.25 L243.46,884.25 L243.57,884.25 L243.69,884.25 L243.80,884.25 L243.92,884.25 L244.03,884.25 L244.15,884.25 L244.26,884.25 L244.38,884.25 L244.49,884.25 L244.60,884.25 L244.72,884.25 L244.83,884.25 L244.95,884.25 L245.06,884.25 L245.18,884.25 L245.29,884.25 L245.41,884.25 L245.52,884.25 L245.64,884.25 L245.75,884.25 L245.86,884.25 L245.98,884.25 L246.09,884.25 L246.21,884.25 L246.32,884.25 L246.44,884.25 L246.55,884.25 L246.67,884.25 L246.78,884.25 L246.89,884.25 L247.01,884.25 L247.12,884.25 L247.24,884.25 L247.35,884.25 L247.47,884.25 L247.58,884.25 L247.70,884.25 L247.81,884.25 L247.92,884.25 L248.04,884.25 L248.15,884.25 L248.27,884.25 L248.38,884.25 L248.50,884.25 L248.61,884.25 L248.73,884.25 L248.84,884.25 L248.95,884.25 L249.07,884.25 L249.18,884.25 L249.30,884.25 L249.41,884.25 L249.53,884.25 L249.64,884.25 L249.76,884.25 L249.87,884.25 L249.99,884.25 L250.10,884.25 L250.21,884.25 L250.33,884.25 L250.44,884.25 L250.56,884.25 L250.67,884.25 L250.79,884.25 L250.90,884.25 L251.02,884.25 L251.13,884.25 L251.24,884.25 L251.36,884.25 L251.47,884.25 L251.59,884.25 L251.70,884.25 L251.82,884.25 L251.93,884.25 L252.05,884.25 L252.16,884.25 L252.27,884.25 L252.39,884.25 L252.50,884.25 L252.62,884.25 L252.73,884.25 L252.85,884.25 L252.96,884.25 L253.08,884.25 L253.19,884.25 L253.30,884.25 L253.42,884.25 L253.53,884.25 L253.65,884.25 L253.76,884.25 L253.88,884.25 L253.99,884.25 L254.11,884.25 L254.22,884.25 L254.34,884.25 L254.45,884.25 L254.56,884.25 L254.68,884.25 L254.79,884.25 L254.91,884.25 L255.40,884.25 L255.90,884.25 L256.39,884.25 L256.88,884.25 L257.38,884.25 L257.87,884.25 L258.37,884.25 L258.86,884.25 L259.36,884.25 L259.85,884.25 L260.35,884.25 L260.84,884.25 L261.33,884.25 L261.83,884.25 L262.32,884.25 L262.82,884.25 L263.31,884.25 L263.81,884.25 L264.30,884.25 L264.79,884.25 L265.29,884.25 L265.78,884.25 L266.28,884.25 L266.77,884.25 L267.27,884.25 L267.76,884.25 L268.25,884.25 L268.75,884.25 L269.24,884.25 L269.74,884.25 L270.23,884.25 L270.73,884.25 L271.22,884.25 L271.72,884.25 L272.21,884.25 L272.70,884.25 L273.20,884.25 L273.69,884.25 L274.19,884.25 L274.68,884.25 L275.18,884.25 L275.67,884.25 L276.16,884.25 L276.66,884.25 L277.15,884.25 L277.65,884.25 L278.14,884.25 L278.64,884.25 L279.13,884.25 L279.62,884.25 L280.12,884.25 L280.61,884.25 L281.11,884.25 L281.60,884.25 L282.10,884.25 L282.59,884.25 L283.08,884.25 L283.58,884.25 L284.07,884.25 L284.57,884.25 L285.06,884.25 L285.56,884.25 L286.05,884.25 L286.55,884.25 L287.04,884.25 L287.53,884.25 L288.03,884.25 L288.52,884.25 L289.02,884.25 L289.51,884.25 L290.01,884.25 L290.50,884.25 L290.99,884.25 L291.49,884.25 L291.98,884.25 L292.48,884.25 L292.97,884.25 L293.47,884.25 L293.96,884.25 L294.45,884.25 L294.95,884.25 L295.44,884.25 L295.94,884.25 L296.43,884.25 L296.93,884.25 L297.42,884.25 L297.92,884.25 L298.41,884.25 L298.90,884.25 L299.40,884.25 L299.89,884.25 L300.39,884.25 L300.88,884.25 L301.38,884.25 L301.87,884.25 L302.36,884.25 L302.86,884.25 L303.35,884.25 L303.85,884.25 L304.34,884.25 L304.84,884.25 L305.33,884.25 L305.82,884.25 L306.32,884.25 L306.81,884.25 L307.31,884.25 L307.80,884.25 L308.30,884.25 L308.79,884.25 L309.29,884.25 L309.78,884.25 L310.27,884.25 L310.77,884.25 L311.26,884.25 L311.76,884.25 L312.25,884.25 L312.75,884.25 L313.24,884.25 L313.73,884.25 L314.23,884.25 L314.72,884.25 L315.22,884.25 L315.71,884.25 L316.21,884.25 L316.70,884.25 L317.19,884.25 L317.69,884.25 L318.18,884.25 L318.68,884.25 L319.17,884.25 L319.67,884.25 L320.16,884.25 L320.65,884.25 L321.15,884.25 L321.64,884.25 L322.14,884.25 L322.63,884.25 L323.13,884.25 L323.62,884.25 L324.12,884.25 L324.61,884.25 L325.10,884.25 L325.60,884.25 L326.09,884.25 L326.59,884.25 L327.08,884.25 L327.58,884.25 L328.07,884.25 L328.56,884.25 L329.06,884.25 L329.55,884.25 L330.05,884.25 L330.54,884.25 L331.04,884.25 L331.53,884.25 L332.02,884.25 L332.52,884.25 L333.01,884.25 L333.51,884.25 L334.00,884.25 L334.50,884.25 L334.99,884.25 L335.49,884.25 L335.98,884.25 L336.47,884.25 L336.97,884.25 L337.46,884.25 L337.96,884.25 L338.45,884.25 L338.95,884.25 L339.44,884.25 L339.93,884.25 L340.43,884.25 L340.92,884.25 L341.42,884.25 L341.91,884.25 L342.41,884.25 L342.90,884.25 L343.39,884.25 L343.89,884.25 L344.38,884.25 L344.88,884.25 L345.37,884.25 L345.87,884.25 L346.36,884.25 L346.86,884.25 L347.35,884.25 L347.84,884.25 L348.34,884.25 L348.83,884.25 L349.33,884.25 L349.82,884.25 L350.32,884.25 L350.81,884.25 L351.30,884.25 L351.80,884.25 L352.29,884.25 L352.79,884.25 L353.28,884.25 L353.78,884.25 L354.27,884.25 L354.76,884.25 L355.26,884.25 L355.75,884.25 L356.25,884.25 L356.74,884.25 L357.24,884.25 L357.73,884.25 L358.23,884.25 L358.72,884.25 L359.21,884.25 L359.71,884.25 L360.20,884.25 L360.70,884.25 L361.19,884.25 L361.69,884.25 L362.18,884.25 L362.67,884.25 L363.17,884.25 L363.66,884.25 L364.16,884.25 L364.65,884.25 L365.15,884.25 L365.64,884.25 L366.13,884.25 L366.63,884.25 L367.12,884.25 L367.62,884.25 L368.11,884.25 L368.61,884.25 L369.10,884.25 L369.59,884.25 L370.09,884.25 L370.58,884.25 L371.08,884.25 L371.57,884.25 L372.07,884.25 L372.56,884.25 L373.06,884.25 L373.55,884.25 L374.04,884.25 L374.54,884.25 L375.03,884.25 L375.53,884.25 L376.02,884.25 L376.52,884.25 L377.01,884.25 L377.50,884.25 L378.00,884.25 L378.49,884.25 L378.99,884.25 L379.48,884.25 L379.98,884.25 L380.47,884.25 L380.96,884.25 L381.46,884.25 L381.95,884.25 L382.45,884.25 L382.94,884.25 L383.44,884.25 L383.93,884.25 L384.43,884.25 L384.92,884.25 L385.41,884.25 L385.91,884.25 L386.40,884.25 L386.90,884.25 L387.39,884.25 L387.89,884.25 L388.38,884.25 L388.87,884.25 L389.37,884.25 L389.86,884.25 L390.36,884.25 L390.85,884.25 L391.35,884.25 L391.84,884.25 L392.33,884.25 L392.83,884.25 L393.32,884.25 L393.82,884.25 L394.31,884.25 L394.81,884.25 L395.30,884.25 L395.79,884.25 L396.29,884.25 L396.78,884.25 L397.28,884.25 L397.77,884.25 L398.27,884.25 L398.76,884.25 L399.26,884.25 L399.75,884.25 L400.24,884.25 L400.74,884.25 L401.23,884.25 L401.73,884.25 L402.22,884.25 L402.72,884.25 L403.21,884.25 L403.70,884.25 L404.20,884.25 L404.69,884.25 L405.19,884.25 L405.68,884.25 L406.18,884.25 L406.67,884.25 L407.16,884.25 L407.66,884.25 L408.15,884.25 L408.65,884.25 L409.14,884.25 L409.64,884.25 L410.13,884.25 L410.63,884.25 L411.12,884.25 L411.61,884.25 L412.11,884.25 L412.60,884.25 L413.10,884.25 L413.59,884.25 L414.09,884.25 L414.58,884.25 L415.07,884.25 L415.57,884.25 L416.06,884.25 L416.56,884.25 L417.05,884.25 L417.55,884.25 L418.04,884.25 L418.53,884.25 L419.03,884.25 L419.52,884.25 L420.02,884.25 L420.51,884.25 L421.01,884.25 L421.50,884.25 L422.00,884.25 L422.49,884.25 L422.98,884.25 L423.48,884.25 L423.97,884.25 L424.47,884.25 L424.96,884.25 L425.46,884.25 L425.95,884.25 L426.44,884.25 L426.94,884.25 L427.43,884.25 L427.93,884.25 L428.42,884.25 L428.92,884.25 L429.41,884.25 L429.90,884.25 L430.40,884.25 L430.89,884.25 L431.39,884.25 L431.88,884.25 L432.38,884.25 L432.87,884.25 L433.36,884.25 L433.86,884.25 L434.35,884.25 L434.85,884.25 L435.34,884.25 L435.84,884.25 L436.33,884.25 L436.83,884.25 L437.32,884.25 L437.81,884.25 L438.31,884.25 L438.80,884.25 L439.30,884.25 L439.79,884.25 L440.29,884.25 L440.78,884.25 L441.27,884.25 L441.77,884.25 L442.26,884.25 L442.76,884.25 L443.25,884.25 L443.75,884.25 L444.24,884.25 L444.73,884.25 L445.23,884.25 L445.72,884.25 L446.22,884.25 L446.71,884.25 L447.21,884.25 L447.70,884.25 L448.20,884.25 L448.69,884.25 L449.18,884.25 L449.68,884.25 L450.17,884.25 L450.67,884.25 L451.16,884.25 L451.66,884.25 L452.15,884.25 L454.48,884.25 L456.81,884.25 L459.13,884.25 L461.46,884.25 L463.79,884.25 L466.12,884.25 L468.45,884.25 L470.78,884.25 L473.10,884.25 L475.43,884.25 L477.76,884.25 L480.09,884.25 L482.42,884.25 L484.75,884.25 L487.07,884.25 L489.40,884.25 L491.73,884.25 L494.06,884.25 L496.39,884.25 L498.72,884.25 L501.04,884.25 L503.37,884.25 L505.70,884.25 L508.03,884.25 L510.36,884.25 L512.68,884.25 L515.01,884.25 L517.34,884.25 L519.67,884.25 L522.00,884.25 L524.33,884.25 L526.65,884.25 L528.98,884.25 L531.31,884.25 L533.64,884.25 L535.97,884.25 L538.30,884.25 L540.62,884.25 L542.95,884.25 L545.28,884.25 L547.61,884.25 L549.94,884.25 L552.27,884.25 L554.59,884.25 L556.92,884.25 L559.25,884.25 L561.58,884.25 L563.91,884.25 L566.23,884.25 L568.56,884.25 L570.89,884.25 L573.22,884.25 L575.55,884.25 L577.88,884.25 L580.20,884.25 L582.53,884.25 L584.86,884.25 L587.19,884.25 L589.52,884.25 L591.85,884.25 L594.17,884.25 L596.50,884.25 L598.83,884.25 L601.16,884.25 L603.49,884.25 L605.82,884.25 L608.14,884.25 L610.47,884.25 L612.80,884.25 L615.13,884.25 L617.46,884.25 L619.78,884.25 L622.11,884.25 L624.44,884.25 L626.77,884.25 L629.10,884.25 L631.43,884.25 L633.75,884.25 L636.08,884.25 L638.41,884.25 L640.74,884.25 L643.07,884.25 L645.40,884.25 L647.72,884.25 L650.05,884.25 L652.38,884.25 L654.71,884.25 L657.04,884.25 L659.37,884.25 L661.69,884.25 L664.02,884.25 L666.35,884.25 L668.68,884.25 L671.01,884.25 L673.33,884.25 L675.66,884.25 L677.99,884.25 L680.32,884.25 L682.65,884.25 L684.98,884.25 L687.30,884.25 L689.63,884.25 L691.96,884.25 L694.29,884.25 L696.62,884.25 L698.95,884.25 L701.27,884.25 L703.60,884.25 L705.93,884.25 L708.26,884.25 L710.59,884.25 L712.92,884.25 L715.24,884.25 L717.57,884.25 L719.90,884.25 L722.23,884.25 L724.56,884.25 L726.88,884.25 L729.21,884.25 L731.54,884.25 L733.87,884.25 L736.20,884.25 L738.53,884.25 L740.85,884.25 L743.18,884.25 L745.51,884.25 L747.84,884.25 L750.17,884.25 L752.50,884.25 L754.82,884.25 L757.15,884.25 L759.48,884.25 L761.81,884.25 L764.14,884.25 L766.47,884.25 L768.79,884.25 L771.12,884.25 L773.45,884.25 L775.78,884.25 L778.11,884.25 L780.43,884.25 L782.76,884.25 L785.09,884.25 L787.42,884.25 L789.75,884.25 L792.08,884.25 L794.40,884.25 L796.73,884.25 L799.06,884.25 L801.39,884.25 L803.72,884.25 L806.05,884.25 L808.37,884.25 L810.70,884.25 L813.03,884.25 L815.36,884.25 L817.69,884.25 L820.02,884.25 L822.34,884.25 L824.67,884.25 L827.00,884.25 L829.33,884.25 L831.66,884.25 L833.98,884.25 L836.31,884.25 L838.64,884.25 L840.97,884.25 L843.30,884.25 L845.63,884.25 L847.95,884.25 L850.28,884.25 L852.61,884.25 L854.94,884.25 L857.27,884.25 L859.60,884.25 L861.92,884.25 L864.25,884.25 L866.58,884.25 L868.91,884.25 L871.24,884.25 L873.57,884.25 L875.89,884.25 L878.22,884.25 L880.55,884.25 L882.88,884.25 L885.21,884.25 L887.53,884.25 L889.86,884.25 L892.19,884.25 L894.52,884.25 L896.85,884.25 L899.18,884.25 L901.50,884.25 L903.83,884.25 L906.16,884.25 L908.49,884.25 L910.82,884.25 L913.15,884.25 L915.47,884.25 L917.80,884.25 L920.13,884.25 L922.46,884.25 L924.79,884.25 L927.12,884.25 L929.44,884.25 L931.77,884.25 L934.10,884.25 L936.43,884.25 L938.76,884.25 L941.08,884.25 L943.41,884.25 L945.74,884.25 L948.07,884.25 L950.40,884.25 L952.73,884.25 L955.05,884.25 L957.38,884.25 L959.71,884.25 L962.04,884.25 L964.37,884.25 L966.70,884.25 L969.02,884.25 L971.35,884.25 L973.68,884.25 L976.01,884.25 L978.34,884.25 L980.67,884.25 L982.99,884.25 L985.32,884.25 L987.65,884.25 L989.98,884.25 L992.31,884.25 L994.63,884.25 L996.96,884.25 L999.29,884.25 L1001.62,884.25 L1003.95,884.25 L1006.28,884.25 L1008.60,884.25 L1010.93,884.25 L1013.26,884.25 L1015.59,884.25 L1017.92,884.25 L1020.25,884.25 L1022.57,884.25 L1024.90,884.25 L1027.23,884.25 L1029.56,884.25 L1031.89,884.25 L1034.22,884.25 L1036.54,884.25 L1038.87,884.25 L1041.20,884.25 L1043.53,884.25 L1045.86,884.25 L1048.18,884.25 L1050.51,884.25 L1052.84,884.25 L1055.17,884.25 L1057.50,884.25 L1059.83,884.25 L1062.15,884.25 L1064.48,884.25 L1066.81,884.25 L1069.14,884.25 L1071.47,884.25 L1073.80,884.25 L1076.12,884.25 L1078.45,884.25 L1080.78,884.25 L1083.11,884.25 L1085.44,884.25 L1087.77,884.25 L1090.09,884.25 L1092.42,884.25 L1094.75,884.25 L1097.08,884.25 L1099.41,884.25 L1101.73,884.25 L1104.06,884.25 L1106.39,884.25 L1108.72,884.25 L1111.05,884.25 L1113.38,884.25 L1115.70,884.25 L1118.03,884.25 L1120.36,884.25 L1122.69,884.25 L1125.02,884.25 L1127.35,884.25 L1129.67,884.25 L1132.00,884.25 L1134.33,884.25 L1136.66,884.25 L1138.99,884.25 L1141.32,884.25 L1143.64,884.25 L1145.97,884.25 L1148.30,884.25 L1149.30,884.25"/>
<path stroke="#00ff00" d="M220.10,739.25 L220.11,672.86 L220.12,628.34 L220.13,598.47 L220.15,578.42 L220.16,564.95 L220.17,555.90 L220.18,549.80 L220.19,545.69 L220.20,542.91 L220.22,541.02 L220.23,539.73 L220.24,538.84 L220.25,538.21 L220.26,537.77 L220.27,537.44 L220.29,537.20 L220.30,537.01 L220.31,536.86 L220.32,536.73 L220.33,536.62 L220.34,536.52 L220.36,536.42 L220.37,536.34 L220.38,536.25 L220.39,536.17 L220.40,536.09 L220.41,536.01 L220.42,535.93 L220.44,535.85 L220.45,535.77 L220.46,535.69 L220.47,535.61 L220.48,535.54 L220.49,535.46 L220.51,535.38 L220.52,535.30 L220.53,535.22 L220.54,535.15 L220.55,535.07 L220.56,534.99 L220.58,534.91 L220.59,534.84 L220.60,534.76 L220.61,534.68 L220.62,534.60 L220.63,534.53 L220.65,534.45 L220.66,534.37 L220.67,534.29 L220.68,534.22 L220.73,533.89 L220.78,533.56 L220.79,533.46 L220.83,533.24 L220.88,532.92 L220.91,532.70 L220.93,532.59 L220.98,532.27 L221.02,531.95 L221.02,531.95 L221.07,531.63 L221.12,531.31 L221.14,531.21 L221.17,530.99 L221.22,530.67 L221.25,530.46 L221.27,530.35 L221.32,530.03 L221.37,529.72 L221.37,529.71 L221.42,529.40 L221.47,529.08 L221.48,528.99 L221.52,528.77 L221.57,528.46 L221.60,528.26 L221.61,528.14 L221.66,527.83 L221.71,527.53 L221.71,527.52 L221.76,527.21 L221.81,526.90 L221.82,526.81 L221.86,526.59 L221.91,526.28 L221.94,526.09 L221.96,525.97 L222.01,525.67 L222.05,525.38 L222.06,525.36 L222.11,525.05 L222.16,524.75 L222.17,524.67 L222.20,524.44 L222.25,524.14 L222.28,523.96 L222.30,523.84 L222.35,523.54 L222.40,523.26 L222.40,523.24 L222.45,522.94 L222.50,522.64 L222.51,522.56 L222.55,522.34 L222.60,522.04 L222.63,521.87 L222.65,521.74 L222.70,521.44 L222.74,521.18 L222.74,521.15 L222.79,520.85 L222.84,520.56 L222.86,520.49 L222.89,520.27 L222.94,519.97 L222.97,519.81 L222.99,519.68 L223.04,519.39 L223.08,519.13 L223.09,519.10 L223.14,518.81 L223.19,518.52 L223.20,518.45 L223.24,518.23 L223.29,517.94 L223.31,517.78 L223.33,517.65 L223.38,517.37 L223.43,517.12 L223.43,517.08 L223.48,516.80 L223.53,516.51 L223.54,516.45 L223.58,516.23 L223.66,515.79 L223.77,515.14 L223.89,514.49 L224.00,513.84 L224.11,513.20 L224.23,512.56 L224.34,511.92 L224.46,511.29 L224.57,510.66 L224.69,510.04 L224.80,509.42 L224.92,508.80 L225.03,508.19 L225.14,507.58 L225.26,506.97 L225.37,506.37 L225.49,505.77 L225.60,505.18 L225.72,504.59 L225.83,504.00 L225.95,503.42 L226.06,502.84 L226.17,502.26 L226.29,501.69 L226.40,501.12 L226.52,500.56 L226.63,499.99 L226.75,499.44 L226.86,498.88 L226.98,498.33 L227.09,497.79 L227.21,497.24 L227.32,496.70 L227.43,496.17 L227.55,495.64 L227.66,495.11 L227.78,494.58 L227.89,494.06 L228.01,493.54 L228.12,493.03 L228.24,492.52 L228.35,492.01 L228.46,491.51 L228.58,491.01 L228.69,490.51 L228.81,490.02 L228.92,489.53 L229.04,489.04 L229.15,488.56 L229.27,488.08 L229.38,487.60 L229.49,487.13 L229.61,486.66 L229.72,486.19 L229.84,485.73 L229.95,485.27 L230.07,484.82 L230.18,484.36 L230.30,483.91 L230.41,483.47 L230.52,483.03 L230.64,482.59 L230.75,482.15 L230.87,481.72 L230.98,481.29 L231.10,480.87 L231.21,480.44 L231.33,480.02 L231.44,479.61 L231.56,479.20 L231.67,478.79 L231.78,478.38 L231.90,477.98 L232.01,477.58 L232.13,477.18 L232.24,476.79 L232.36,476.40 L232.47,476.01 L232.59,475.63 L232.70,475.25 L232.81,474.87 L232.93,474.50 L233.04,474.13 L233.16,473.76 L233.27,473.40 L233.39,473.04 L233.50,472.68 L233.62,472.33 L233.73,471.97 L233.84,471.63 L233.96,471.28 L234.07,470.94 L234.19,470.60 L234.30,470.26 L234.42,469.93 L234.53,469.60 L234.65,469.27 L234.76,468.95 L234.87,468.63 L234.99,468.31 L235.10,468.00 L235.22,467.68 L235.33,467.38 L235.45,467.07 L235.56,466.77 L235.68,466.47 L235.79,466.17 L235.91,465.88 L236.02,465.59 L236.13,465.30 L236.25,465.01 L236.36,464.73 L236.48,464.45 L236.59,464.18 L236.71,463.90 L236.82,463.63 L236.94,463.37 L237.05,463.10 L237.16,462.84 L237.28,462.58 L237.39,462.33 L237.51,462.07 L237.62,461.83 L237.74,461.58 L237.85,461.33 L237.97,461.09 L238.08,460.85 L238.19,460.62 L238.31,460.39 L238.42,460.16 L238.54,459.93 L238.65,459.70 L238.77,459.48 L238.88,459.26 L239.00,459.05 L239.11,458.83 L239.22,458.62 L239.34,458.42 L239.45,458.21 L239.57,458.01 L239.68,457.81 L239.80,457.61 L239.91,457.42 L240.03,457.23 L240.14,457.04 L240.25,456.85 L240.37,456.67 L240.48,456.49 L240.60,456.31 L240.71,456.14 L240.83,455.96 L240.94,455.79 L241.06,455.63 L241.17,455.46 L241.29,455.30 L241.40,455.14 L241.51,454.98 L241.63,454.83 L241.74,454.68 L241.86,454.53 L241.97,454.38 L242.09,454.24 L242.20,454.10 L242.32,453.96 L242.43,453.82 L242.54,453.69 L242.66,453.56 L242.77,453.43 L242.89,453.31 L243.00,453.18 L243.12,453.06 L243.23,452.94 L243.35,452.83 L243.46,452.72 L243.57,452.60 L243.69,452.50 L243.80,452.39 L243.92,452.29 L244.03,452.19 L244.15,452.09 L244.26,451.99 L244.38,451.90 L244.49,451.81 L244.60,451.72 L244.72,451.64 L244.83,451.55 L244.95,451.47 L245.06,451.39 L245.18,451.32 L245.29,451.24 L245.41,451.17 L245.52,451.10 L245.64,451.04 L245.75,450.97 L245.86,450.91 L245.98,450.85 L246.09,450.79 L246.21,450.74 L246.32,450.69 L246.44,450.63 L246.55,450.59 L246.67,450.54 L246.78,450.50 L246.89,450.46 L247.01,450.42 L247.12,450.38 L247.24,450.35 L247.35,450.32 L247.47,450.29 L247.58,450.26 L247.70,450.24 L247.81,450.21 L247.92,450.19 L248.04,450.18 L248.15,450.16 L248.27,450.15 L248.38,450.14 L248.50,450.13 L248.61,450.12 L248.73,450.12 L248.84,450.11 L248.95,450.11 L249.07,450.11 L249.18,450.12 L249.30,450.13 L249.41,450.13 L249.53,450.14 L249.64,450.16 L249.76,450.17 L249.87,450.19 L249.99,450.21 L250.10,450.23 L250.21,450.25 L250.33,450.28 L250.44,450.31 L250.56,450.34 L250.67,450.37 L250.79,450.41 L250.90,450.44 L251.02,450.48 L251.13,450.52 L251.24,450.56 L251.36,450.61 L251.47,450.66 L251.59,450.70 L251.70,450.76 L251.82,450.81 L251.93,450.86 L252.05,450.92 L252.16,450.98 L252.27,451.04 L252.39,451.11 L252.50,451.17 L252.62,451.24 L252.73,451.31 L252.85,451.38 L252.96,451.45 L253.08,451.53 L253.19,451.61 L253.30,451.68 L253.42,451.77 L253.53,451.85 L253.65,451.93 L253.76,452.02 L253.88,452.11 L253.99,452.20 L254.11,452.30 L254.22,452.39 L254.34,452.49 L254.45,452.59 L254.56,452.69 L254.68,452.79 L254.79,452.90 L254.91,453.00 L255.40,453.48 L255.90,454.00 L256.39,454.55 L256.88,455.14 L257.38,455.76 L257.87,456.41 L258.37,457.10 L258.86,457.82 L259.36,458.57 L259.85,459.36 L260.35,460.17 L260.84,461.02 L261.33,461.89 L261.83,462.80 L262.32,463.74 L262.82,464.70 L263.31,465.70 L263.81,466.72 L264.30,467.78 L264.79,468.86 L265.29,469.97 L265.78,471.10 L266.28,472.26 L266.77,473.45 L267.27,474.67 L267.76,475.91 L268.25,477.18 L268.75,478.47 L269.24,479.79 L269.74,481.13 L270.23,482.49 L270.73,483.88 L271.22,485.30 L271.72,486.73 L272.21,488.19 L272.70,489.68 L273.20,491.18 L273.69,492.71 L274.19,494.26 L274.68,495.83 L275.18,497.42 L275.67,499.03 L276.16,500.66 L276.66,502.32 L277.15,503.99 L277.65,505.68 L278.14,507.39 L278.64,509.12 L279.13,510.87 L279.62,512.64 L280.12,514.43 L280.61,516.23 L281.11,518.06 L281.60,519.90 L282.10,521.75 L282.59,523.63 L283.08,525.52 L283.58,527.43 L284.07,529.35 L284.57,531.29 L285.06,533.25 L285.56,535.22 L286.05,537.21 L286.55,539.21 L287.04,541.22 L287.53,543.25 L288.03,545.30 L288.52,547.36 L289.02,549.43 L289.51,551.52 L290.01,553.62 L290.50,555.73 L290.99,557.86 L291.49,560.00 L291.98,562.15 L292.48,564.31 L292.97,566.49 L293.47,568.68 L293.96,570.88 L294.45,573.09 L294.95,575.31 L295.44,577.54 L295.94,579.79 L296.43,582.04 L296.93,584.31 L297.42,586.59 L297.92,588.87 L298.41,591.17 L298.90,593.47 L299.40,595.79 L299.89,598.11 L300.39,600.45 L300.88,602.79 L301.38,605.14 L301.87,607.51 L302.36,609.87 L302.86,612.25 L303.35,614.64 L303.85,617.03 L304.34,619.43 L304.84,621.84 L305.33,624.26 L305.82,626.68 L306.32,629.12 L306.81,631.55 L307.31,634.00 L307.80,636.45 L308.30,638.91 L308.79,641.37 L309.29,643.85 L309.78,646.32 L310.27,648.81 L310.77,651.30 L311.26,653.79 L311.76,656.29 L312.25,658.80 L312.75,661.31 L313.24,663.82 L313.73,666.35 L314.23,668.87 L314.72,671.40 L315.22,673.94 L315.71,676.48 L316.21,679.02 L316.70,681.57 L317.19,684.12 L317.69,686.68 L318.18,689.24 L318.68,691.80 L319.17,694.37 L319.67,696.94 L320.16,699.52 L320.65,702.09 L321.15,704.67 L321.64,707.26 L322.14,709.84 L322.63,712.43 L323.13,715.03 L323.62,717.62 L324.12,720.22 L324.61,722.82 L325.10,725.42 L325.60,728.02 L326.09,730.63 L326.59,733.23 L327.08,735.84 L327.58,738.46 L328.07,741.07 L328.56,743.68 L329.06,746.30 L329.55,748.91 L330.05,751.53 L330.54,754.15 L331.04,756.77 L331.53,759.39 L332.02,762.02 L332.52,764.64 L333.01,767.26 L333.51,769.89 L334.00,772.51 L334.50,775.14 L334.99,777.76 L335.49,780.39 L335.98,783.01 L336.47,785.64 L336.97,788.26 L337.46,790.89 L337.96,793.52 L338.45,796.14 L338.95,798.77 L339.44,801.39 L339.93,804.01 L340.43,806.64 L340.92,809.26 L341.42,811.88 L341.91,814.51 L342.41,817.13 L342.90,819.75 L343.39,822.36 L343.89,824.98 L344.38,827.60 L344.88,830.21 L345.37,832.83 L345.87,835.44 L346.36,838.05 L346.86,840.66 L347.35,843.27 L347.84,845.88 L348.34,848.49 L348.83,851.09 L349.33,853.69 L349.82,856.29 L350.32,858.89 L350.81,861.49 L351.30,864.08 L351.80,866.67 L352.29,869.27 L352.79,871.85 L353.28,874.44 L353.78,877.02 L354.27,879.61 L354.76,882.19 L355.26,884.25 L355.75,884.25 L356.25,884.25 L356.74,884.25 L357.24,884.25 L357.73,884.25 L358.23,884.25 L358.72,884.25 L359.21,884.25 L359.71,884.25 L360.20,884.25 L360.70,884.25 L361.19,884.25 L361.69,884.25 L362.18,884.25 L362.67,884.25 L363.17,884.25 L363.66,884.25 L364.16,884.25 L364.65,884.25 L365.15,884.25 L365.64,884.25 L366.13,884.25 L366.63,884.25 L367.12,884.25 L367.62,884.25 L368.11,884.25 L368.61,884.25 L369.10,884.25 L369.59,884.25 L370.09,884.25 L370.58,884.25 L371.08,884.25 L371.57,884.25 L372.07,884.25 L372.56,884.25 L373.06,884.25 L373.55,884.25 L374.04,884.25 L374.54,884.25 L375.03,884.25 L375.53,884.25 L376.02,884.25 L376.52,884.25 L377.01,884.25 L377.50,884.25 L378.00,884.25 L378.49,884.25 L378.99,884.25 L379.48,884.25 L379.98,884.25 L380.47,884.25 L380.96,884.25 L381.46,884.25 L381.95,884.25 L382.45,884.25 L382.94,884.25 L383.44,884.25 L383.93,884.25 L384.43,884.25 L384.92,884.25 L385.41,884.25 L385.91,884.25 L386.40,884.25 L386.90,884.25 L387.39,884.25 L387.89,884.25 L388.38,884.25 L388.87,884.25 L389.37,884.25 L389.86,884.25 L390.36,884.25 L390.85,884.25 L391.35,884.25 L391.84,884.25 L392.33,884.25 L392.83,884.25 L393.32,884.25 L393.82,884.25 L394.31,884.25 L394.81,884.25 L395.30,884.25 L395.79,884.25 L396.29,884.25 L396.78,884.25 L397.28,884.25 L397.77,884.25 L398.27,884.25 L398.76,884.25 L399.26,884.25 L399.75,884.25 L400.24,884.25 L400.74,884.25 L401.23,884.25 L401.73,884.25 L402.22,884.25 L402.72,884.25 L403.21,884.25 L403.70,884.25 L404.20,884.25 L404.69,884.25 L405.19,884.25 L405.68,884.25 L406.18,884.25 L406.67,884.25 L407.16,884.25 L407.66,884.25 L408.15,884.25 L408.65,884.25 L409.14,884.25 L409.64,884.25 L410.13,884.25 L410.63,884.25 L411.12,884.25 L411.61,884.25 L412.11,884.25 L412.60,884.25 L413.10,884.25 L413.59,884.25 L414.09,884.25 L414.58,884.25 L415.07,884.25 L415.57,884.25 L416.06,884.25 L416.56,884.25 L417.05,884.25 L417.55,884.25 L418.04,884.25 L418.53,884.25 L419.03,884.25 L419.52,884.25 L420.02,884.25 L420.51,884.25 L421.01,884.25 L421.50,884.25 L422.00,884.25 L422.49,884.25 L422.98,884.25 L423.48,884.25 L423.97,884.25 L424.47,884.25 L424.96,884.25 L425.46,884.25 L425.95,884.25 L426.44,884.25 L426.94,884.25 L427.43,884.25 L427.93,884.25 L428.42,884.25 L428.92,884.25 L429.41,884.25 L429.90,884.25 L430.40,884.25 L430.89,884.25 L431.39,884.25 L431.88,884.25 L432.38,884.25 L432.87,884.25 L433.36,884.25 L433.86,884.25 L434.35,884.25 L434.85,884.25 L435.34,884.25 L435.84,884.25 L436.33,884.25 L436.83,884.25 L437.32,884.25 L437.81,884.25 L438.31,884.25 L438.80,884.25 L439.30,884.25 L439.79,884.25 L440.29,884.25 L440.78,884.25 L441.27,884.25 L441.77,884.25 L442.26,884.25 L442.76,884.25 L443.25,884.25 L443.75,884.25 L444.24,884.25 L444.73,884.25 L445.23,884.25 L445.72,884.25 L446.22,884.25 L446.71,884.25 L447.21,884.25 L447.70,884.25 L448.20,884.25 L448.69,884.25 L449.18,884.25 L449.68,884.25 L450.17,884.25 L450.67,884.25 L451.16,884.25 L451.66,884.25 L452.15,884.25 L454.48,884.25 L456.81,884.25 L459.13,884.25 L461.46,884.25 L463.79,884.25 L466.12,884.25 L468.45,884.25 L470.78,884.25 L473.10,884.25 L475.43,884.25 L477.76,884.25 L480.09,884.25 L482.42,884.25 L484.75,884.25 L487.07,884.25 L489.40,884.25 L491.73,884.25 L494.06,884.25 L496.39,884.25 L498.72,884.25 L501.04,884.25 L503.37,884.25 L505.70,884.25 L508.03,884.25 L510.36,884.25 L512.68,884.25 L515.01,884.25 L517.34,884.25 L519.67,884.25 L522.00,884.25 L524.33,884.25 L526.65,884.25 L528.98,884.25 L531.31,884.25 L533.64,884.25 L535.97,884.25 L538.30,884.25 L540.62,884.25 L542.95,884.25 L545.28,884.25 L547.61,884.25 L549.94,884.25 L552.27,884.25 L554.59,884.25 L556.92,884.25 L559.25,884.25 L561.58,884.25 L563.91,884.25 L566.23,884.25 L568.56,884.25 L570.89,884.25 L573.22,884.25 L575.55,884.25 L577.88,884.25 L580.20,884.25 L582.53,884.25 L584.86,884.25 L587.19,884.25 L589.52,884.25 L591.85,884.25 L594.17,884.25 L596.50,884.25 L598.83,884.25 L601.16,884.25 L603.49,884.25 L605.82,884.25 L608.14,884.25 L610.47,884.25 L612.80,884.25 L615.13,884.25 L617.46,884.25 L619.78,884.25 L622.11,884.25 L624.44,884.25 L626.77,884.25 L629.10,884.25 L631.43,884.25 L633.75,884.25 L636.08,884.25 L638.41,884.25 L640.74,884.25 L643.07,884.25 L645.40,884.25 L647.72,884.25 L650.05,884.25 L652.38,884.25 L654.71,884.25 L657.04,884.25 L659.37,884.25 L661.69,884.25 L664.02,884.25 L666.35,884.25 L668.68,884.25 L671.01,884.25 L673.33,884.25 L675.66,884.25 L677.99,884.25 L680.32,884.25 L682.65,884.25 L684.98,884.25 L687.30,884.25 L689.63,884.25 L691.96,884.25 L694.29,884.25 L696.62,884.25 L698.95,884.25 L701.27,884.25 L703.60,884.25 L705.93,884.25 L708.26,884.25 L710.59,884.25 L712.92,884.25 L715.24,884.25 L717.57,884.25 L719.90,884.25 L722.23,884.25 L724.56,884.25 L726.88,884.25 L729.21,884.25 L731.54,884.25 L733.87,884.25 L736.20,884.25 L738.53,884.25 L740.85,884.25 L743.18,884.25 L745.51,884.25 L747.84,884.25 L750.17,884.25 L752.50,884.25 L754.82,884.25 L757.15,884.25 L759.48,884.25 L761.81,884.25 L764.14,884.25 L766.47,884.25 L768.79,884.25 L771.12,884.25 L773.45,884.25 L775.78,884.25 L778.11,884.25 L780.43,884.25 L782.76,884.25 L785.09,884.25 L787.42,884.25 L789.75,884.25 L792.08,884.25 L794.40,884.25 L796.73,884.25 L799.06,884.25 L801.39,884.25 L803.72,884.25 L806.05,884.25 L808.37,884.25 L810.70,884.25 L813.03,884.25 L815.36,884.25 L817.69,884.25 L820.02,884.25 L822.34,884.25 L824.67,884.25 L827.00,884.25 L829.33,884.25 L831.66,884.25 L833.98,884.25 L836.31,884.25 L838.64,884.25 L840.97,884.25 L843.30,884.25 L845.63,884.25 L847.95,884.25 L850.28,884.25 L852.61,884.25 L854.94,884.25 L857.27,884.25 L859.60,884.25 L861.92,884.25 L864.25,884.25 L866.58,884.25 L868.91,884.25 L871.24,884.25 L873.57,884.25 L875.89,884.25 L878.22,884.25 L880.55,884.25 L882.88,884.25 L885.21,884.25 L887.53,884.25 L889.86,884.25 L892.19,884.25 L894.52,884.25 L896.85,884.25 L899.18,884.25 L901.50,884.25 L903.83,884.25 L906.16,884.25 L908.49,884.25 L910.82,884.25 L913.15,884.25 L915.47,884.25 L917.80,884.25 L920.13,884.25 L922.46,884.25 L924.79,884.25 L927.12,884.25 L929.44,884.25 L931.77,884.25 L934.10,884.25 L936.43,884.25 L938.76,884.25 L941.08,884.25 L943.41,884.25 L945.74,884.25 L948.07,884.25 L950.40,884.25 L952.73,884.25 L955.05,884.25 L957.38,884.25 L959.71,884.25 L962.04,884.25 L964.37,884.25 L966.70,884.25 L969.02,884.25 L971.35,884.25 L973.68,884.25 L976.01,884.25 L978.34,884.25 L980.67,884.25 L982.99,884.25 L985.32,884.25 L987.65,884.25 L989.98,884.25 L992.31,884.25 L994.63,884.25 L996.96,884.25 L999.29,884.25 L1001.62,884.25 L1003.95,884.25 L1006.28,884.25 L1008.60,884.25 L1010.93,884.25 L1013.26,884.25 L1015.59,884.25 L1017.92,884.25 L1020.25,884.25 L1022.57,884.25 L1024.90,884.25 L1027.23,884.25 L1029.56,884.25 L1031.89,884.25 L1034.22,884.25 L1036.54,884.25 L1038.87,884.25 L1041.20,884.25 L1043.53,884.25 L1045.86,884.25 L1048.18,884.25 L1050.51,884.25 L1052.84,884.25 L1055.17,884.25 L1057.50,884.25 L1059.83,884.25 L1062.15,884.25 L1064.48,884.25 L1066.81,884.25 L1069.14,884.25 L1071.47,884.25 L1073.80,884.25 L1076.12,884.25 L1078.45,884.25 L1080.78,884.25 L1083.11,884.25 L1085.44,884.25 L1087.77,884.25 L1090.09,884.25 L1092.42,884.25 L1094.75,884.25 L1097.08,884.25 L1099.41,884.25 L1101.73,884.25 L1104.06,884.25 L1106.39,884.25 L1108.72,884.25 L1111.05,884.25 L1113.38,884.25 L1115.70,884.25 L1118.03,884.25 L1120.36,884.25 L1122.69,884.25 L1125.02,884.25 L1127.35,884.25 L1129.67,884.25 L1132.00,884.25 L1134.33,884.25 L1136.66,884.25 L1138.99,884.25 L1141.32,884.25 L1143.64,884.25 L1145.97,884.25 L1148.30,884.25 L1149.30,884.25"/>
</g>
<text x="206.50" y="906.25" font-size="62.5" text-anchor="end">0</text>
<text x="206.50" y="761.25" font-size="62.5" text-anchor="end">20</text>
<text x="206.50" y="616.25" font-size="62.5" text-anchor="end">40</text>
<text x="206.50" y="471.25" font-size="62.5" text-anchor="end">60</text>
<text x="206.50" y="326.25" font-size="62.5" text-anchor="end">80</text>
<text x="206.50" y="181.25" font-size="62.5" text-anchor="end">100</text>
<text x="220.50" y="990.60" font-size="62.5" text-anchor="middle">0</text>
<text x="452.45" y="990.60" font-size="62.5" text-anchor="middle">20</text>
<text x="684.40" y="990.60" font-size="62.5" text-anchor="middle">40</text>
<text x="916.35" y="990.60" font-size="62.5" text-anchor="middle">60</text>
<text x="1148.30" y="990.60" font-size="62.5" text-anchor="middle">80</text>
<text x="684.40" y="76" font-size="62.5" text-anchor="middle">(a)</text>
<text x="683.40" y="1063.5" font-size="73.0" text-anchor="middle">time</text>
<text transform="translate(72.50,522.75) rotate(-90)" x="0" y="0" font-size="73.0" text-anchor="middle">densities</text>
<rect x="1439" y="123" width="4" height="799" fill="#000"/><rect x="1440" y="121" width="930" height="4" fill="#000"/><rect x="2367" y="122" width="4" height="800" fill="#000"/><rect x="1439" y="919" width="930" height="3" fill="#000"/>
<path d="M1442.00,884.25H1451.00M2368.00,884.25H2359.00M1442.00,739.25H1451.00M2368.00,739.25H2359.00M1442.00,594.25H1451.00M2368.00,594.25H2359.00M1442.00,449.25H1450.00M2368.00,449.25H2359.00M1442.00,304.25H1451.00M2368.00,304.25H2359.00M1442.00,159.25H1451.00M2368.00,159.25H2359.00M1672.95,920.00V910.00M1672.95,124.00V133.00M1904.90,920.00V910.00M1904.90,124.00V133.00M2136.85,920.00V910.00M2136.85,124.00V133.00" stroke="#000" stroke-width="3.50" fill="none"/>
<g clip-path="url(#clipb)" fill="none" stroke-width="11.80" stroke-linejoin="round" stroke-linecap="butt">
<path stroke="#ff0000" d="M1441.00,739.25 L1441.01,739.62 L1441.02,739.98 L1441.03,740.33 L1441.05,740.68 L1441.06,741.03 L1441.07,741.37 L1441.08,741.70 L1441.09,742.03 L1441.10,742.36 L1441.12,742.68 L1441.13,743.00 L1441.14,743.31 L1441.15,743.61 L1441.16,743.92 L1441.17,744.22 L1441.19,744.51 L1441.20,744.80 L1441.21,745.09 L1441.22,745.37 L1441.23,745.64 L1441.24,745.92 L1441.26,746.19 L1441.27,746.45 L1441.28,746.71 L1441.29,746.97 L1441.30,747.23 L1441.31,747.48 L1441.32,747.73 L1441.34,747.97 L1441.35,748.21 L1441.36,748.45 L1441.37,748.68 L1441.38,748.91 L1441.39,749.14 L1441.41,749.36 L1441.42,749.58 L1441.43,749.80 L1441.44,750.01 L1441.45,750.22 L1441.46,750.43 L1441.48,750.63 L1441.49,750.84 L1441.50,751.03 L1441.51,751.23 L1441.52,751.42 L1441.53,751.62 L1441.55,751.80 L1441.56,751.99 L1441.57,752.17 L1441.58,752.35 L1441.63,753.09 L1441.68,753.78 L1441.69,754.00 L1441.73,754.43 L1441.78,755.05 L1441.81,755.43 L1441.83,755.63 L1441.87,756.17 L1441.92,756.68 L1441.92,756.69 L1441.97,757.17 L1442.02,757.63 L1442.04,757.77 L1442.07,758.06 L1442.12,758.47 L1442.15,758.72 L1442.17,758.86 L1442.22,759.22 L1442.27,759.55 L1442.27,759.56 L1442.32,759.89 L1442.37,760.20 L1442.38,760.28 L1442.42,760.49 L1442.46,760.76 L1442.50,760.93 L1442.51,761.02 L1442.56,761.27 L1442.61,761.49 L1442.61,761.50 L1442.66,761.73 L1442.71,761.94 L1442.72,761.99 L1442.76,762.14 L1442.81,762.33 L1442.84,762.44 L1442.86,762.51 L1442.91,762.68 L1442.95,762.83 L1442.96,762.84 L1443.00,763.00 L1443.05,763.15 L1443.07,763.19 L1443.10,763.29 L1443.15,763.42 L1443.18,763.50 L1443.20,763.55 L1443.25,763.68 L1443.30,763.79 L1443.30,763.80 L1443.35,763.91 L1443.40,764.02 L1443.41,764.05 L1443.45,764.12 L1443.50,764.22 L1443.53,764.28 L1443.55,764.32 L1443.59,764.41 L1443.64,764.50 L1443.64,764.50 L1443.69,764.59 L1443.74,764.67 L1443.75,764.69 L1443.79,764.75 L1443.84,764.83 L1443.87,764.87 L1443.89,764.91 L1443.94,764.98 L1443.98,765.04 L1443.99,765.05 L1444.04,765.12 L1444.09,765.19 L1444.10,765.20 L1444.14,765.25 L1444.18,765.32 L1444.21,765.35 L1444.23,765.38 L1444.28,765.44 L1444.33,765.49 L1444.33,765.50 L1444.38,765.56 L1444.43,765.61 L1444.44,765.62 L1444.48,765.67 L1444.55,765.75 L1444.67,765.87 L1444.78,765.99 L1444.90,766.10 L1445.01,766.21 L1445.13,766.32 L1445.24,766.42 L1445.36,766.52 L1445.47,766.62 L1445.58,766.72 L1445.70,766.81 L1445.81,766.91 L1445.93,767.00 L1446.04,767.10 L1446.16,767.19 L1446.27,767.28 L1446.39,767.37 L1446.50,767.46 L1446.61,767.55 L1446.73,767.64 L1446.84,767.72 L1446.96,767.81 L1447.07,767.90 L1447.19,767.99 L1447.30,768.08 L1447.42,768.16 L1447.53,768.25 L1447.64,768.34 L1447.76,768.42 L1447.87,768.51 L1447.99,768.59 L1448.10,768.68 L1448.22,768.77 L1448.33,768.85 L1448.45,768.94 L1448.56,769.02 L1448.67,769.11 L1448.79,769.19 L1448.90,769.28 L1449.02,769.36 L1449.13,769.45 L1449.25,769.53 L1449.36,769.62 L1449.48,769.70 L1449.59,769.79 L1449.70,769.87 L1449.82,769.95 L1449.93,770.04 L1450.05,770.12 L1450.16,770.21 L1450.28,770.29 L1450.39,770.37 L1450.50,770.46 L1450.62,770.54 L1450.73,770.63 L1450.85,770.71 L1450.96,770.79 L1451.08,770.88 L1451.19,770.96 L1451.31,771.04 L1451.42,771.13 L1451.53,771.21 L1451.65,771.29 L1451.76,771.37 L1451.88,771.46 L1451.99,771.54 L1452.11,771.62 L1452.22,771.70 L1452.34,771.79 L1452.45,771.87 L1452.56,771.95 L1452.68,772.03 L1452.79,772.12 L1452.91,772.20 L1453.02,772.28 L1453.14,772.36 L1453.25,772.44 L1453.37,772.52 L1453.48,772.61 L1453.59,772.69 L1453.71,772.77 L1453.82,772.85 L1453.94,772.93 L1454.05,773.01 L1454.17,773.09 L1454.28,773.18 L1454.40,773.26 L1454.51,773.34 L1454.62,773.42 L1454.74,773.50 L1454.85,773.58 L1454.97,773.66 L1455.08,773.74 L1455.20,773.82 L1455.31,773.90 L1455.43,773.98 L1455.54,774.06 L1455.65,774.14 L1455.77,774.22 L1455.88,774.30 L1456.00,774.38 L1456.11,774.46 L1456.23,774.54 L1456.34,774.62 L1456.45,774.70 L1456.57,774.78 L1456.68,774.86 L1456.80,774.94 L1456.91,775.02 L1457.03,775.10 L1457.14,775.17 L1457.26,775.25 L1457.37,775.33 L1457.48,775.41 L1457.60,775.49 L1457.71,775.57 L1457.83,775.65 L1457.94,775.73 L1458.06,775.80 L1458.17,775.88 L1458.29,775.96 L1458.40,776.04 L1458.51,776.12 L1458.63,776.19 L1458.74,776.27 L1458.86,776.35 L1458.97,776.43 L1459.09,776.51 L1459.20,776.58 L1459.32,776.66 L1459.43,776.74 L1459.54,776.82 L1459.66,776.89 L1459.77,776.97 L1459.89,777.05 L1460.00,777.12 L1460.12,777.20 L1460.23,777.28 L1460.35,777.36 L1460.46,777.43 L1460.57,777.51 L1460.69,777.59 L1460.80,777.66 L1460.92,777.74 L1461.03,777.81 L1461.15,777.89 L1461.26,777.97 L1461.38,778.04 L1461.49,778.12 L1461.60,778.20 L1461.72,778.27 L1461.83,778.35 L1461.95,778.42 L1462.06,778.50 L1462.18,778.57 L1462.29,778.65 L1462.40,778.73 L1462.52,778.80 L1462.63,778.88 L1462.75,778.95 L1462.86,779.03 L1462.98,779.10 L1463.09,779.18 L1463.21,779.25 L1463.32,779.33 L1463.43,779.40 L1463.55,779.48 L1463.66,779.55 L1463.78,779.63 L1463.89,779.70 L1464.01,779.77 L1464.12,779.85 L1464.24,779.92 L1464.35,780.00 L1464.46,780.07 L1464.58,780.15 L1464.69,780.22 L1464.81,780.29 L1464.92,780.37 L1465.04,780.44 L1465.15,780.51 L1465.27,780.59 L1465.38,780.66 L1465.49,780.73 L1465.61,780.81 L1465.72,780.88 L1465.84,780.95 L1465.95,781.03 L1466.07,781.10 L1466.18,781.17 L1466.30,781.25 L1466.41,781.32 L1466.52,781.39 L1466.64,781.47 L1466.75,781.54 L1466.87,781.61 L1466.98,781.68 L1467.10,781.76 L1467.21,781.83 L1467.33,781.90 L1467.44,781.97 L1467.55,782.04 L1467.67,782.12 L1467.78,782.19 L1467.90,782.26 L1468.01,782.33 L1468.13,782.40 L1468.24,782.48 L1468.35,782.55 L1468.47,782.62 L1468.58,782.69 L1468.70,782.76 L1468.81,782.83 L1468.93,782.91 L1469.04,782.98 L1469.16,783.05 L1469.27,783.12 L1469.38,783.19 L1469.50,783.26 L1469.61,783.33 L1469.73,783.40 L1469.84,783.47 L1469.96,783.54 L1470.07,783.61 L1470.19,783.68 L1470.30,783.76 L1470.41,783.83 L1470.53,783.90 L1470.64,783.97 L1470.76,784.04 L1470.87,784.11 L1470.99,784.18 L1471.10,784.25 L1471.22,784.32 L1471.33,784.39 L1471.44,784.46 L1471.56,784.53 L1471.67,784.60 L1471.79,784.66 L1471.90,784.73 L1472.02,784.80 L1472.13,784.87 L1472.25,784.94 L1472.36,785.01 L1472.47,785.08 L1472.59,785.15 L1472.70,785.22 L1472.82,785.29 L1472.93,785.36 L1473.05,785.43 L1473.16,785.49 L1473.28,785.56 L1473.39,785.63 L1473.50,785.70 L1473.62,785.77 L1473.73,785.84 L1473.85,785.90 L1473.96,785.97 L1474.08,786.04 L1474.19,786.11 L1474.30,786.18 L1474.42,786.25 L1474.53,786.31 L1474.65,786.38 L1474.76,786.45 L1474.88,786.52 L1474.99,786.58 L1475.11,786.65 L1475.22,786.72 L1475.33,786.79 L1475.45,786.85 L1475.56,786.92 L1475.68,786.99 L1475.79,787.06 L1476.29,787.34 L1476.78,787.63 L1477.27,787.92 L1477.77,788.20 L1478.26,788.49 L1478.76,788.77 L1479.25,789.05 L1479.75,789.33 L1480.24,789.61 L1480.73,789.89 L1481.23,790.17 L1481.72,790.45 L1482.22,790.72 L1482.71,790.99 L1483.20,791.27 L1483.70,791.54 L1484.19,791.81 L1484.69,792.08 L1485.18,792.34 L1485.68,792.61 L1486.17,792.88 L1486.66,793.14 L1487.16,793.40 L1487.65,793.66 L1488.15,793.93 L1488.64,794.18 L1489.13,794.44 L1489.63,794.70 L1490.12,794.96 L1490.62,795.21 L1491.11,795.47 L1491.60,795.72 L1492.10,795.97 L1492.59,796.22 L1493.09,796.47 L1493.58,796.72 L1494.08,796.97 L1494.57,797.22 L1495.06,797.46 L1495.56,797.71 L1496.05,797.95 L1496.55,798.19 L1497.04,798.43 L1497.53,798.67 L1498.03,798.91 L1498.52,799.15 L1499.02,799.39 L1499.51,799.62 L1500.00,799.86 L1500.50,800.09 L1500.99,800.33 L1501.49,800.56 L1501.98,800.79 L1502.48,801.02 L1502.97,801.25 L1503.46,801.48 L1503.96,801.70 L1504.45,801.93 L1504.95,802.16 L1505.44,802.38 L1505.93,802.60 L1506.43,802.83 L1506.92,803.05 L1507.42,803.27 L1507.91,803.49 L1508.41,803.71 L1508.90,803.92 L1509.39,804.14 L1509.89,804.36 L1510.38,804.57 L1510.88,804.79 L1511.37,805.00 L1511.86,805.21 L1512.36,805.42 L1512.85,805.63 L1513.35,805.84 L1513.84,806.05 L1514.33,806.26 L1514.83,806.46 L1515.32,806.67 L1515.82,806.87 L1516.31,807.08 L1516.81,807.28 L1517.30,807.48 L1517.79,807.69 L1518.29,807.89 L1518.78,808.09 L1519.28,808.28 L1519.77,808.48 L1520.26,808.68 L1520.76,808.88 L1521.25,809.07 L1521.75,809.27 L1522.24,809.46 L1522.73,809.65 L1523.23,809.84 L1523.72,810.04 L1524.22,810.23 L1524.71,810.42 L1525.21,810.60 L1525.70,810.79 L1526.19,810.98 L1526.69,811.17 L1527.18,811.35 L1527.68,811.54 L1528.17,811.72 L1528.66,811.90 L1529.16,812.09 L1529.65,812.27 L1530.15,812.45 L1530.64,812.63 L1531.13,812.81 L1531.63,812.99 L1532.12,813.16 L1532.62,813.34 L1533.11,813.52 L1533.61,813.69 L1534.10,813.87 L1534.59,814.04 L1535.09,814.22 L1535.58,814.39 L1536.08,814.56 L1536.57,814.73 L1537.06,814.90 L1537.56,815.07 L1538.05,815.24 L1538.55,815.41 L1539.04,815.57 L1539.54,815.74 L1540.03,815.91 L1540.52,816.07 L1541.02,816.24 L1541.51,816.40 L1542.01,816.56 L1542.50,816.73 L1542.99,816.89 L1543.49,817.05 L1543.98,817.21 L1544.48,817.37 L1544.97,817.53 L1545.46,817.69 L1545.96,817.84 L1546.45,818.00 L1546.95,818.16 L1547.44,818.31 L1547.94,818.47 L1548.43,818.62 L1548.92,818.77 L1549.42,818.93 L1549.91,819.08 L1550.41,819.23 L1550.90,819.38 L1551.39,819.53 L1551.89,819.68 L1552.38,819.83 L1552.88,819.98 L1553.37,820.13 L1553.86,820.27 L1554.36,820.42 L1554.85,820.57 L1555.35,820.71 L1555.84,820.86 L1556.34,821.00 L1556.83,821.14 L1557.32,821.29 L1557.82,821.43 L1558.31,821.57 L1558.81,821.71 L1559.30,821.85 L1559.79,821.99 L1560.29,822.13 L1560.78,822.27 L1561.28,822.41 L1561.77,822.54 L1562.27,822.68 L1562.76,822.82 L1563.25,822.95 L1563.75,823.09 L1564.24,823.22 L1564.74,823.35 L1565.23,823.49 L1565.72,823.62 L1566.22,823.75 L1566.71,823.88 L1567.21,824.01 L1567.70,824.15 L1568.19,824.28 L1568.69,824.40 L1569.18,824.53 L1569.68,824.66 L1570.17,824.79 L1570.67,824.92 L1571.16,825.04 L1571.65,825.17 L1572.15,825.29 L1572.64,825.42 L1573.14,825.54 L1573.63,825.67 L1574.12,825.79 L1574.62,825.91 L1575.11,826.03 L1575.61,826.16 L1576.10,826.28 L1576.59,826.40 L1577.09,826.52 L1577.58,826.64 L1578.08,826.76 L1578.57,826.88 L1579.07,826.99 L1579.56,827.11 L1580.05,827.23 L1580.55,827.35 L1581.04,827.46 L1581.54,827.58 L1582.03,827.69 L1582.52,827.81 L1583.02,827.92 L1583.51,828.03 L1584.01,828.15 L1584.50,828.26 L1585.00,828.37 L1585.49,828.48 L1585.98,828.59 L1586.48,828.71 L1586.97,828.82 L1587.47,828.93 L1587.96,829.03 L1588.45,829.14 L1588.95,829.25 L1589.44,829.36 L1589.94,829.47 L1590.43,829.57 L1590.92,829.68 L1591.42,829.79 L1591.91,829.89 L1592.41,830.00 L1592.90,830.10 L1593.40,830.21 L1593.89,830.31 L1594.38,830.41 L1594.88,830.52 L1595.37,830.62 L1595.87,830.72 L1596.36,830.82 L1596.85,830.92 L1597.35,831.02 L1597.84,831.12 L1598.34,831.22 L1598.83,831.32 L1599.32,831.42 L1599.82,831.52 L1600.31,831.62 L1600.81,831.72 L1601.30,831.81 L1601.80,831.91 L1602.29,832.01 L1602.78,832.10 L1603.28,832.20 L1603.77,832.29 L1604.27,832.39 L1604.76,832.48 L1605.25,832.58 L1605.75,832.67 L1606.24,832.76 L1606.74,832.86 L1607.23,832.95 L1607.72,833.04 L1608.22,833.13 L1608.71,833.22 L1609.21,833.31 L1609.70,833.41 L1610.20,833.50 L1610.69,833.58 L1611.18,833.67 L1611.68,833.76 L1612.17,833.85 L1612.67,833.94 L1613.16,834.03 L1613.65,834.11 L1614.15,834.20 L1614.64,834.29 L1615.14,834.37 L1615.63,834.46 L1616.13,834.55 L1616.62,834.63 L1617.11,834.72 L1617.61,834.80 L1618.10,834.88 L1618.60,834.97 L1619.09,835.05 L1619.58,835.13 L1620.08,835.22 L1620.57,835.30 L1621.07,835.38 L1621.56,835.46 L1622.05,835.54 L1622.55,835.62 L1623.04,835.70 L1623.54,835.78 L1624.03,835.86 L1624.53,835.94 L1625.02,836.02 L1625.51,836.10 L1626.01,836.18 L1626.50,836.26 L1627.00,836.34 L1627.49,836.41 L1627.98,836.49 L1628.48,836.57 L1628.97,836.64 L1629.47,836.72 L1629.96,836.80 L1630.45,836.87 L1630.95,836.95 L1631.44,837.02 L1631.94,837.10 L1632.43,837.17 L1632.93,837.24 L1633.42,837.32 L1633.91,837.39 L1634.41,837.46 L1634.90,837.54 L1635.40,837.61 L1635.89,837.68 L1636.38,837.75 L1636.88,837.82 L1637.37,837.89 L1637.87,837.97 L1638.36,838.04 L1638.86,838.11 L1639.35,838.18 L1639.84,838.25 L1640.34,838.31 L1640.83,838.38 L1641.33,838.45 L1641.82,838.52 L1642.31,838.59 L1642.81,838.66 L1643.30,838.72 L1643.80,838.79 L1644.29,838.86 L1644.78,838.92 L1645.28,838.99 L1645.77,839.06 L1646.27,839.12 L1646.76,839.19 L1647.26,839.25 L1647.75,839.32 L1648.24,839.38 L1648.74,839.45 L1649.23,839.51 L1649.73,839.57 L1650.22,839.64 L1650.71,839.70 L1651.21,839.76 L1651.70,839.83 L1652.20,839.89 L1652.69,839.95 L1653.18,840.01 L1653.68,840.08 L1654.17,840.14 L1654.67,840.20 L1655.16,840.26 L1655.66,840.32 L1656.15,840.38 L1656.64,840.44 L1657.14,840.50 L1657.63,840.56 L1658.13,840.62 L1658.62,840.68 L1659.11,840.74 L1659.61,840.79 L1660.10,840.85 L1660.60,840.91 L1661.09,840.97 L1661.59,841.03 L1662.08,841.08 L1662.57,841.14 L1663.07,841.20 L1663.56,841.25 L1664.06,841.31 L1664.55,841.37 L1665.04,841.42 L1665.54,841.48 L1666.03,841.53 L1666.53,841.59 L1667.02,841.64 L1667.51,841.70 L1668.01,841.75 L1668.50,841.81 L1669.00,841.86 L1669.49,841.91 L1669.99,841.97 L1670.48,842.02 L1670.97,842.07 L1671.47,842.13 L1671.96,842.18 L1672.46,842.23 L1672.95,842.28 L1675.28,842.53 L1677.60,842.76 L1679.93,843.00 L1682.26,843.22 L1684.59,843.45 L1686.91,843.67 L1689.24,843.88 L1691.57,844.09 L1693.90,844.30 L1696.22,844.50 L1698.55,844.70 L1700.88,844.89 L1703.20,845.08 L1705.53,845.27 L1707.86,845.45 L1710.19,845.63 L1712.51,845.81 L1714.84,845.98 L1717.17,846.15 L1719.50,846.31 L1721.82,846.47 L1724.15,846.63 L1726.48,846.79 L1728.80,846.94 L1731.13,847.09 L1733.46,847.23 L1735.79,847.38 L1738.11,847.52 L1740.44,847.65 L1742.77,847.79 L1745.09,847.92 L1747.42,848.05 L1749.75,848.18 L1752.08,848.30 L1754.40,848.42 L1756.73,848.54 L1759.06,848.66 L1761.39,848.77 L1763.71,848.88 L1766.04,848.99 L1768.37,849.10 L1770.69,849.21 L1773.02,849.31 L1775.35,849.41 L1777.68,849.51 L1780.00,849.61 L1782.33,849.71 L1784.66,849.80 L1786.99,849.89 L1789.31,849.98 L1791.64,850.07 L1793.97,850.15 L1796.29,850.24 L1798.62,850.32 L1800.95,850.40 L1803.28,850.48 L1805.60,850.56 L1807.93,850.64 L1810.26,850.71 L1812.59,850.78 L1814.91,850.86 L1817.24,850.93 L1819.57,851.00 L1821.89,851.06 L1824.22,851.13 L1826.55,851.19 L1828.88,851.26 L1831.20,851.32 L1833.53,851.38 L1835.86,851.44 L1838.19,851.50 L1840.51,851.56 L1842.84,851.61 L1845.17,851.67 L1847.49,851.72 L1849.82,851.78 L1852.15,851.83 L1854.48,851.88 L1856.80,851.93 L1859.13,851.98 L1861.46,852.03 L1863.79,852.07 L1866.11,852.12 L1868.44,852.16 L1870.77,852.21 L1873.09,852.25 L1875.42,852.29 L1877.75,852.34 L1880.08,852.38 L1882.40,852.42 L1884.73,852.46 L1887.06,852.49 L1889.38,852.53 L1891.71,852.57 L1894.04,852.60 L1896.37,852.64 L1898.69,852.67 L1901.02,852.71 L1903.35,852.74 L1905.68,852.77 L1908.00,852.81 L1910.33,852.84 L1912.66,852.87 L1914.98,852.90 L1917.31,852.93 L1919.64,852.96 L1921.97,852.98 L1924.29,853.01 L1926.62,853.04 L1928.95,853.07 L1931.28,853.09 L1933.60,853.12 L1935.93,853.14 L1938.26,853.17 L1940.58,853.19 L1942.91,853.21 L1945.24,853.24 L1947.57,853.26 L1949.89,853.28 L1952.22,853.30 L1954.55,853.33 L1956.88,853.35 L1959.20,853.37 L1961.53,853.39 L1963.86,853.41 L1966.18,853.43 L1968.51,853.44 L1970.84,853.46 L1973.17,853.48 L1975.49,853.50 L1977.82,853.52 L1980.15,853.53 L1982.48,853.55 L1984.80,853.57 L1987.13,853.58 L1989.46,853.60 L1991.78,853.61 L1994.11,853.63 L1996.44,853.64 L1998.77,853.66 L2001.09,853.67 L2003.42,853.69 L2005.75,853.70 L2008.08,853.71 L2010.40,853.73 L2012.73,853.74 L2015.06,853.75 L2017.38,853.76 L2019.71,853.78 L2022.04,853.79 L2024.37,853.80 L2026.69,853.81 L2029.02,853.82 L2031.35,853.83 L2033.67,853.84 L2036.00,853.85 L2038.33,853.86 L2040.66,853.87 L2042.98,853.88 L2045.31,853.89 L2047.64,853.90 L2049.97,853.91 L2052.29,853.92 L2054.62,853.93 L2056.95,853.94 L2059.27,853.95 L2061.60,853.96 L2063.93,853.96 L2066.26,853.97 L2068.58,853.98 L2070.91,853.99 L2073.24,854.00 L2075.57,854.00 L2077.89,854.01 L2080.22,854.02 L2082.55,854.02 L2084.87,854.03 L2087.20,854.04 L2089.53,854.04 L2091.86,854.05 L2094.18,854.06 L2096.51,854.06 L2098.84,854.07 L2101.17,854.08 L2103.49,854.08 L2105.82,854.09 L2108.15,854.09 L2110.47,854.10 L2112.80,854.10 L2115.13,854.11 L2117.46,854.11 L2119.78,854.12 L2122.11,854.12 L2124.44,854.13 L2126.77,854.13 L2129.09,854.14 L2131.42,854.14 L2133.75,854.15 L2136.07,854.15 L2138.40,854.16 L2140.73,854.16 L2143.06,854.16 L2145.38,854.17 L2147.71,854.17 L2150.04,854.18 L2152.37,854.18 L2154.69,854.18 L2157.02,854.19 L2159.35,854.19 L2161.67,854.19 L2164.00,854.20 L2166.33,854.20 L2168.66,854.20 L2170.98,854.21 L2173.31,854.21 L2175.64,854.21 L2177.96,854.22 L2180.29,854.22 L2182.62,854.22 L2184.95,854.23 L2187.27,854.23 L2189.60,854.23 L2191.93,854.23 L2194.26,854.24 L2196.58,854.24 L2198.91,854.24 L2201.24,854.24 L2203.56,854.25 L2205.89,854.25 L2208.22,854.25 L2210.55,854.25 L2212.87,854.26 L2215.20,854.26 L2217.53,854.26 L2219.86,854.26 L2222.18,854.26 L2224.51,854.27 L2226.84,854.27 L2229.16,854.27 L2231.49,854.27 L2233.82,854.27 L2236.15,854.28 L2238.47,854.28 L2240.80,854.28 L2243.13,854.28 L2245.46,854.28 L2247.78,854.28 L2250.11,854.29 L2252.44,854.29 L2254.76,854.29 L2257.09,854.29 L2259.42,854.29 L2261.75,854.29 L2264.07,854.30 L2266.40,854.30 L2268.73,854.30 L2271.06,854.30 L2273.38,854.30 L2275.71,854.30 L2278.04,854.30 L2280.36,854.30 L2282.69,854.31 L2285.02,854.31 L2287.35,854.31 L2289.67,854.31 L2292.00,854.31 L2294.33,854.31 L2296.66,854.31 L2298.98,854.31 L2301.31,854.31 L2303.64,854.32 L2305.96,854.32 L2308.29,854.32 L2310.62,854.32 L2312.95,854.32 L2315.27,854.32 L2317.60,854.32 L2319.93,854.32 L2322.25,854.32 L2324.58,854.32 L2326.91,854.32 L2329.24,854.33 L2331.56,854.33 L2333.89,854.33 L2336.22,854.33 L2338.55,854.33 L2340.87,854.33 L2343.20,854.33 L2345.53,854.33 L2347.85,854.33 L2350.18,854.33 L2352.51,854.33 L2354.84,854.33 L2357.16,854.33 L2359.49,854.33 L2361.82,854.34 L2364.15,854.34 L2366.47,854.34 L2368.80,854.34 L2369.80,854.34"/>
<path stroke="#0000ff" d="M1441.00,739.25 L1441.01,739.19 L1441.02,739.13 L1441.03,739.08 L1441.05,739.02 L1441.06,738.96 L1441.07,738.90 L1441.08,738.84 L1441.09,738.78 L1441.10,738.73 L1441.12,738.67 L1441.13,738.61 L1441.14,738.55 L1441.15,738.49 L1441.16,738.43 L1441.17,738.38 L1441.19,738.32 L1441.20,738.26 L1441.21,738.20 L1441.22,738.14 L1441.23,738.09 L1441.24,738.03 L1441.26,737.97 L1441.27,737.91 L1441.28,737.85 L1441.29,737.79 L1441.30,737.74 L1441.31,737.68 L1441.32,737.62 L1441.34,737.56 L1441.35,737.50 L1441.36,737.45 L1441.37,737.39 L1441.38,737.33 L1441.39,737.27 L1441.41,737.21 L1441.42,737.16 L1441.43,737.10 L1441.44,737.04 L1441.45,736.98 L1441.46,736.92 L1441.48,736.87 L1441.49,736.81 L1441.50,736.75 L1441.51,736.69 L1441.52,736.63 L1441.53,736.57 L1441.55,736.52 L1441.56,736.46 L1441.57,736.40 L1441.58,736.34 L1441.63,736.10 L1441.68,735.85 L1441.69,735.77 L1441.73,735.61 L1441.78,735.36 L1441.81,735.20 L1441.83,735.12 L1441.87,734.87 L1441.92,734.63 L1441.92,734.63 L1441.97,734.38 L1442.02,734.14 L1442.04,734.06 L1442.07,733.89 L1442.12,733.65 L1442.15,733.49 L1442.17,733.40 L1442.22,733.16 L1442.27,732.92 L1442.27,732.91 L1442.32,732.67 L1442.37,732.42 L1442.38,732.35 L1442.42,732.18 L1442.46,731.94 L1442.50,731.78 L1442.51,731.69 L1442.56,731.45 L1442.61,731.22 L1442.61,731.20 L1442.66,730.96 L1442.71,730.72 L1442.72,730.65 L1442.76,730.47 L1442.81,730.23 L1442.84,730.08 L1442.86,729.99 L1442.91,729.75 L1442.95,729.52 L1442.96,729.50 L1443.00,729.26 L1443.05,729.02 L1443.07,728.95 L1443.10,728.77 L1443.15,728.53 L1443.18,728.39 L1443.20,728.29 L1443.25,728.05 L1443.30,727.82 L1443.30,727.81 L1443.35,727.56 L1443.40,727.32 L1443.41,727.26 L1443.45,727.08 L1443.50,726.84 L1443.53,726.70 L1443.55,726.60 L1443.59,726.35 L1443.64,726.13 L1443.64,726.11 L1443.69,725.87 L1443.74,725.63 L1443.75,725.57 L1443.79,725.39 L1443.84,725.15 L1443.87,725.01 L1443.89,724.91 L1443.94,724.67 L1443.98,724.45 L1443.99,724.43 L1444.04,724.19 L1444.09,723.94 L1444.10,723.89 L1444.14,723.70 L1444.18,723.46 L1444.21,723.33 L1444.23,723.22 L1444.28,722.98 L1444.33,722.77 L1444.33,722.74 L1444.38,722.50 L1444.43,722.26 L1444.44,722.21 L1444.48,722.02 L1444.55,721.66 L1444.67,721.10 L1444.78,720.54 L1444.90,719.98 L1445.01,719.43 L1445.13,718.87 L1445.24,718.32 L1445.36,717.77 L1445.47,717.21 L1445.58,716.66 L1445.70,716.11 L1445.81,715.55 L1445.93,715.00 L1446.04,714.45 L1446.16,713.90 L1446.27,713.35 L1446.39,712.80 L1446.50,712.25 L1446.61,711.71 L1446.73,711.16 L1446.84,710.61 L1446.96,710.07 L1447.07,709.52 L1447.19,708.97 L1447.30,708.43 L1447.42,707.89 L1447.53,707.34 L1447.64,706.80 L1447.76,706.26 L1447.87,705.71 L1447.99,705.17 L1448.10,704.63 L1448.22,704.09 L1448.33,703.55 L1448.45,703.01 L1448.56,702.47 L1448.67,701.93 L1448.79,701.40 L1448.90,700.86 L1449.02,700.32 L1449.13,699.79 L1449.25,699.25 L1449.36,698.71 L1449.48,698.18 L1449.59,697.65 L1449.70,697.11 L1449.82,696.58 L1449.93,696.05 L1450.05,695.51 L1450.16,694.98 L1450.28,694.45 L1450.39,693.92 L1450.50,693.39 L1450.62,692.86 L1450.73,692.33 L1450.85,691.81 L1450.96,691.28 L1451.08,690.75 L1451.19,690.22 L1451.31,689.70 L1451.42,689.17 L1451.53,688.65 L1451.65,688.12 L1451.76,687.60 L1451.88,687.07 L1451.99,686.55 L1452.11,686.03 L1452.22,685.51 L1452.34,684.98 L1452.45,684.46 L1452.56,683.94 L1452.68,683.42 L1452.79,682.90 L1452.91,682.38 L1453.02,681.87 L1453.14,681.35 L1453.25,680.83 L1453.37,680.31 L1453.48,679.80 L1453.59,679.28 L1453.71,678.77 L1453.82,678.25 L1453.94,677.74 L1454.05,677.22 L1454.17,676.71 L1454.28,676.20 L1454.40,675.68 L1454.51,675.17 L1454.62,674.66 L1454.74,674.15 L1454.85,673.64 L1454.97,673.13 L1455.08,672.62 L1455.20,672.11 L1455.31,671.60 L1455.43,671.10 L1455.54,670.59 L1455.65,670.08 L1455.77,669.58 L1455.88,669.07 L1456.00,668.57 L1456.11,668.06 L1456.23,667.56 L1456.34,667.05 L1456.45,666.55 L1456.57,666.05 L1456.68,665.54 L1456.80,665.04 L1456.91,664.54 L1457.03,664.04 L1457.14,663.54 L1457.26,663.04 L1457.37,662.54 L1457.48,662.04 L1457.60,661.54 L1457.71,661.05 L1457.83,660.55 L1457.94,660.05 L1458.06,659.56 L1458.17,659.06 L1458.29,658.56 L1458.40,658.07 L1458.51,657.58 L1458.63,657.08 L1458.74,656.59 L1458.86,656.10 L1458.97,655.60 L1459.09,655.11 L1459.20,654.62 L1459.32,654.13 L1459.43,653.64 L1459.54,653.15 L1459.66,652.66 L1459.77,652.17 L1459.89,651.68 L1460.00,651.19 L1460.12,650.71 L1460.23,650.22 L1460.35,649.73 L1460.46,649.25 L1460.57,648.76 L1460.69,648.27 L1460.80,647.79 L1460.92,647.31 L1461.03,646.82 L1461.15,646.34 L1461.26,645.86 L1461.38,645.37 L1461.49,644.89 L1461.60,644.41 L1461.72,643.93 L1461.83,643.45 L1461.95,642.97 L1462.06,642.49 L1462.18,642.01 L1462.29,641.53 L1462.40,641.06 L1462.52,640.58 L1462.63,640.10 L1462.75,639.62 L1462.86,639.15 L1462.98,638.67 L1463.09,638.20 L1463.21,637.72 L1463.32,637.25 L1463.43,636.77 L1463.55,636.30 L1463.66,635.83 L1463.78,635.36 L1463.89,634.88 L1464.01,634.41 L1464.12,633.94 L1464.24,633.47 L1464.35,633.00 L1464.46,632.53 L1464.58,632.06 L1464.69,631.59 L1464.81,631.13 L1464.92,630.66 L1465.04,630.19 L1465.15,629.72 L1465.27,629.26 L1465.38,628.79 L1465.49,628.33 L1465.61,627.86 L1465.72,627.40 L1465.84,626.93 L1465.95,626.47 L1466.07,626.01 L1466.18,625.55 L1466.30,625.08 L1466.41,624.62 L1466.52,624.16 L1466.64,623.70 L1466.75,623.24 L1466.87,622.78 L1466.98,622.32 L1467.10,621.86 L1467.21,621.40 L1467.33,620.94 L1467.44,620.49 L1467.55,620.03 L1467.67,619.57 L1467.78,619.12 L1467.90,618.66 L1468.01,618.21 L1468.13,617.75 L1468.24,617.30 L1468.35,616.84 L1468.47,616.39 L1468.58,615.94 L1468.70,615.48 L1468.81,615.03 L1468.93,614.58 L1469.04,614.13 L1469.16,613.68 L1469.27,613.23 L1469.38,612.78 L1469.50,612.33 L1469.61,611.88 L1469.73,611.43 L1469.84,610.98 L1469.96,610.53 L1470.07,610.09 L1470.19,609.64 L1470.30,609.19 L1470.41,608.75 L1470.53,608.30 L1470.64,607.86 L1470.76,607.41 L1470.87,606.97 L1470.99,606.52 L1471.10,606.08 L1471.22,605.64 L1471.33,605.20 L1471.44,604.75 L1471.56,604.31 L1471.67,603.87 L1471.79,603.43 L1471.90,602.99 L1472.02,602.55 L1472.13,602.11 L1472.25,601.67 L1472.36,601.23 L1472.47,600.80 L1472.59,600.36 L1472.70,599.92 L1472.82,599.48 L1472.93,599.05 L1473.05,598.61 L1473.16,598.18 L1473.28,597.74 L1473.39,597.31 L1473.50,596.87 L1473.62,596.44 L1473.73,596.01 L1473.85,595.57 L1473.96,595.14 L1474.08,594.71 L1474.19,594.28 L1474.30,593.85 L1474.42,593.42 L1474.53,592.99 L1474.65,592.56 L1474.76,592.13 L1474.88,591.70 L1474.99,591.27 L1475.11,590.84 L1475.22,590.41 L1475.33,589.99 L1475.45,589.56 L1475.56,589.13 L1475.68,588.71 L1475.79,588.28 L1476.29,586.45 L1476.78,584.62 L1477.27,582.80 L1477.77,580.99 L1478.26,579.19 L1478.76,577.40 L1479.25,575.61 L1479.75,573.83 L1480.24,572.06 L1480.73,570.30 L1481.23,568.54 L1481.72,566.79 L1482.22,565.05 L1482.71,563.32 L1483.20,561.59 L1483.70,559.87 L1484.19,558.16 L1484.69,556.46 L1485.18,554.76 L1485.68,553.07 L1486.17,551.39 L1486.66,549.71 L1487.16,548.04 L1487.65,546.38 L1488.15,544.73 L1488.64,543.08 L1489.13,541.44 L1489.63,539.81 L1490.12,538.18 L1490.62,536.56 L1491.11,534.95 L1491.60,533.34 L1492.10,531.74 L1492.59,530.15 L1493.09,528.57 L1493.58,526.99 L1494.08,525.42 L1494.57,523.85 L1495.06,522.30 L1495.56,520.75 L1496.05,519.20 L1496.55,517.66 L1497.04,516.13 L1497.53,514.61 L1498.03,513.09 L1498.52,511.58 L1499.02,510.07 L1499.51,508.57 L1500.00,507.08 L1500.50,505.59 L1500.99,504.11 L1501.49,502.64 L1501.98,501.17 L1502.48,499.71 L1502.97,498.26 L1503.46,496.81 L1503.96,495.37 L1504.45,493.93 L1504.95,492.50 L1505.44,491.08 L1505.93,489.66 L1506.43,488.25 L1506.92,486.84 L1507.42,485.44 L1507.91,484.05 L1508.41,482.66 L1508.90,481.28 L1509.39,479.90 L1509.89,478.53 L1510.38,477.17 L1510.88,475.81 L1511.37,474.46 L1511.86,473.11 L1512.36,471.77 L1512.85,470.43 L1513.35,469.10 L1513.84,467.78 L1514.33,466.46 L1514.83,465.15 L1515.32,463.84 L1515.82,462.54 L1516.31,461.24 L1516.81,459.95 L1517.30,458.67 L1517.79,457.39 L1518.29,456.12 L1518.78,454.85 L1519.28,453.58 L1519.77,452.33 L1520.26,451.07 L1520.76,449.83 L1521.25,448.59 L1521.75,447.35 L1522.24,446.12 L1522.73,444.89 L1523.23,443.67 L1523.72,442.46 L1524.22,441.25 L1524.71,440.04 L1525.21,438.84 L1525.70,437.65 L1526.19,436.46 L1526.69,435.27 L1527.18,434.09 L1527.68,432.92 L1528.17,431.75 L1528.66,430.59 L1529.16,429.43 L1529.65,428.27 L1530.15,427.12 L1530.64,425.98 L1531.13,424.84 L1531.63,423.70 L1532.12,422.57 L1532.62,421.45 L1533.11,420.33 L1533.61,419.21 L1534.10,418.10 L1534.59,417.00 L1535.09,415.89 L1535.58,414.80 L1536.08,413.71 L1536.57,412.62 L1537.06,411.54 L1537.56,410.46 L1538.05,409.39 L1538.55,408.32 L1539.04,407.25 L1539.54,406.19 L1540.03,405.14 L1540.52,404.09 L1541.02,403.04 L1541.51,402.00 L1542.01,400.96 L1542.50,399.93 L1542.99,398.90 L1543.49,397.88 L1543.98,396.86 L1544.48,395.84 L1544.97,394.83 L1545.46,393.82 L1545.96,392.82 L1546.45,391.82 L1546.95,390.83 L1547.44,389.84 L1547.94,388.86 L1548.43,387.87 L1548.92,386.90 L1549.42,385.92 L1549.91,384.96 L1550.41,383.99 L1550.90,383.03 L1551.39,382.08 L1551.89,381.12 L1552.38,380.18 L1552.88,379.23 L1553.37,378.29 L1553.86,377.36 L1554.36,376.42 L1554.85,375.50 L1555.35,374.57 L1555.84,373.65 L1556.34,372.74 L1556.83,371.82 L1557.32,370.92 L1557.82,370.01 L1558.31,369.11 L1558.81,368.21 L1559.30,367.32 L1559.79,366.43 L1560.29,365.55 L1560.78,364.66 L1561.28,363.79 L1561.77,362.91 L1562.27,362.04 L1562.76,361.18 L1563.25,360.31 L1563.75,359.45 L1564.24,358.60 L1564.74,357.75 L1565.23,356.90 L1565.72,356.05 L1566.22,355.21 L1566.71,354.38 L1567.21,353.54 L1567.70,352.71 L1568.19,351.89 L1568.69,351.06 L1569.18,350.24 L1569.68,349.43 L1570.17,348.61 L1570.67,347.81 L1571.16,347.00 L1571.65,346.20 L1572.15,345.40 L1572.64,344.60 L1573.14,343.81 L1573.63,343.02 L1574.12,342.24 L1574.62,341.46 L1575.11,340.68 L1575.61,339.90 L1576.10,339.13 L1576.59,338.36 L1577.09,337.60 L1577.58,336.83 L1578.08,336.08 L1578.57,335.32 L1579.07,334.57 L1579.56,333.82 L1580.05,333.07 L1580.55,332.33 L1581.04,331.59 L1581.54,330.85 L1582.03,330.12 L1582.52,329.39 L1583.02,328.66 L1583.51,327.94 L1584.01,327.22 L1584.50,326.50 L1585.00,325.79 L1585.49,325.08 L1585.98,324.37 L1586.48,323.66 L1586.97,322.96 L1587.47,322.26 L1587.96,321.56 L1588.45,320.87 L1588.95,320.18 L1589.44,319.49 L1589.94,318.81 L1590.43,318.12 L1590.92,317.45 L1591.42,316.77 L1591.91,316.10 L1592.41,315.43 L1592.90,314.76 L1593.40,314.09 L1593.89,313.43 L1594.38,312.77 L1594.88,312.12 L1595.37,311.47 L1595.87,310.81 L1596.36,310.17 L1596.85,309.52 L1597.35,308.88 L1597.84,308.24 L1598.34,307.60 L1598.83,306.97 L1599.32,306.34 L1599.82,305.71 L1600.31,305.08 L1600.81,304.46 L1601.30,303.84 L1601.80,303.22 L1602.29,302.61 L1602.78,302.00 L1603.28,301.39 L1603.77,300.78 L1604.27,300.17 L1604.76,299.57 L1605.25,298.97 L1605.75,298.38 L1606.24,297.78 L1606.74,297.19 L1607.23,296.60 L1607.72,296.01 L1608.22,295.43 L1608.71,294.85 L1609.21,294.27 L1609.70,293.69 L1610.20,293.12 L1610.69,292.54 L1611.18,291.97 L1611.68,291.41 L1612.17,290.84 L1612.67,290.28 L1613.16,289.72 L1613.65,289.16 L1614.15,288.61 L1614.64,288.05 L1615.14,287.50 L1615.63,286.96 L1616.13,286.41 L1616.62,285.87 L1617.11,285.33 L1617.61,284.79 L1618.10,284.25 L1618.60,283.72 L1619.09,283.19 L1619.58,282.66 L1620.08,282.13 L1620.57,281.60 L1621.07,281.08 L1621.56,280.56 L1622.05,280.04 L1622.55,279.53 L1623.04,279.01 L1623.54,278.50 L1624.03,277.99 L1624.53,277.48 L1625.02,276.98 L1625.51,276.48 L1626.01,275.97 L1626.50,275.48 L1627.00,274.98 L1627.49,274.48 L1627.98,273.99 L1628.48,273.50 L1628.97,273.01 L1629.47,272.53 L1629.96,272.04 L1630.45,271.56 L1630.95,271.08 L1631.44,270.60 L1631.94,270.13 L1632.43,269.65 L1632.93,269.18 L1633.42,268.71 L1633.91,268.25 L1634.41,267.78 L1634.90,267.32 L1635.40,266.85 L1635.89,266.39 L1636.38,265.94 L1636.88,265.48 L1637.37,265.03 L1637.87,264.57 L1638.36,264.12 L1638.86,263.68 L1639.35,263.23 L1639.84,262.79 L1640.34,262.34 L1640.83,261.90 L1641.33,261.46 L1641.82,261.03 L1642.31,260.59 L1642.81,260.16 L1643.30,259.73 L1643.80,259.30 L1644.29,258.87 L1644.78,258.45 L1645.28,258.02 L1645.77,257.60 L1646.27,257.18 L1646.76,256.76 L1647.26,256.34 L1647.75,255.93 L1648.24,255.52 L1648.74,255.11 L1649.23,254.70 L1649.73,254.29 L1650.22,253.88 L1650.71,253.48 L1651.21,253.08 L1651.70,252.67 L1652.20,252.28 L1652.69,251.88 L1653.18,251.48 L1653.68,251.09 L1654.17,250.70 L1654.67,250.30 L1655.16,249.92 L1655.66,249.53 L1656.15,249.14 L1656.64,248.76 L1657.14,248.38 L1657.63,248.00 L1658.13,247.62 L1658.62,247.24 L1659.11,246.86 L1659.61,246.49 L1660.10,246.12 L1660.60,245.74 L1661.09,245.37 L1661.59,245.01 L1662.08,244.64 L1662.57,244.28 L1663.07,243.91 L1663.56,243.55 L1664.06,243.19 L1664.55,242.83 L1665.04,242.47 L1665.54,242.12 L1666.03,241.76 L1666.53,241.41 L1667.02,241.06 L1667.51,240.71 L1668.01,240.36 L1668.50,240.02 L1669.00,239.67 L1669.49,239.33 L1669.99,238.99 L1670.48,238.65 L1670.97,238.31 L1671.47,237.97 L1671.96,237.63 L1672.46,237.30 L1672.95,236.96 L1675.28,235.41 L1677.60,233.89 L1679.93,232.40 L1682.26,230.94 L1684.59,229.51 L1686.91,228.11 L1689.24,226.73 L1691.57,225.38 L1693.90,224.06 L1696.22,222.77 L1698.55,221.50 L1700.88,220.26 L1703.20,219.04 L1705.53,217.85 L1707.86,216.68 L1710.19,215.53 L1712.51,214.41 L1714.84,213.31 L1717.17,212.23 L1719.50,211.17 L1721.82,210.13 L1724.15,209.12 L1726.48,208.12 L1728.80,207.15 L1731.13,206.19 L1733.46,205.25 L1735.79,204.33 L1738.11,203.43 L1740.44,202.55 L1742.77,201.69 L1745.09,200.84 L1747.42,200.01 L1749.75,199.20 L1752.08,198.40 L1754.40,197.62 L1756.73,196.85 L1759.06,196.10 L1761.39,195.36 L1763.71,194.64 L1766.04,193.94 L1768.37,193.24 L1770.69,192.56 L1773.02,191.90 L1775.35,191.25 L1777.68,190.61 L1780.00,189.98 L1782.33,189.37 L1784.66,188.77 L1786.99,188.18 L1789.31,187.60 L1791.64,187.04 L1793.97,186.48 L1796.29,185.94 L1798.62,185.40 L1800.95,184.88 L1803.28,184.37 L1805.60,183.87 L1807.93,183.38 L1810.26,182.90 L1812.59,182.42 L1814.91,181.96 L1817.24,181.51 L1819.57,181.06 L1821.89,180.63 L1824.22,180.20 L1826.55,179.78 L1828.88,179.37 L1831.20,178.97 L1833.53,178.58 L1835.86,178.19 L1838.19,177.81 L1840.51,177.44 L1842.84,177.08 L1845.17,176.72 L1847.49,176.37 L1849.82,176.03 L1852.15,175.70 L1854.48,175.37 L1856.80,175.05 L1859.13,174.73 L1861.46,174.42 L1863.79,174.12 L1866.11,173.82 L1868.44,173.53 L1870.77,173.25 L1873.09,172.97 L1875.42,172.69 L1877.75,172.42 L1880.08,172.16 L1882.40,171.90 L1884.73,171.65 L1887.06,171.40 L1889.38,171.16 L1891.71,170.92 L1894.04,170.69 L1896.37,170.46 L1898.69,170.24 L1901.02,170.02 L1903.35,169.80 L1905.68,169.59 L1908.00,169.39 L1910.33,169.18 L1912.66,168.99 L1914.98,168.79 L1917.31,168.60 L1919.64,168.41 L1921.97,168.23 L1924.29,168.05 L1926.62,167.88 L1928.95,167.70 L1931.28,167.54 L1933.60,167.37 L1935.93,167.21 L1938.26,167.05 L1940.58,166.89 L1942.91,166.74 L1945.24,166.59 L1947.57,166.44 L1949.89,166.30 L1952.22,166.16 L1954.55,166.02 L1956.88,165.89 L1959.20,165.75 L1961.53,165.62 L1963.86,165.50 L1966.18,165.37 L1968.51,165.25 L1970.84,165.13 L1973.17,165.01 L1975.49,164.90 L1977.82,164.79 L1980.15,164.67 L1982.48,164.57 L1984.80,164.46 L1987.13,164.36 L1989.46,164.25 L1991.78,164.15 L1994.11,164.06 L1996.44,163.96 L1998.77,163.87 L2001.09,163.77 L2003.42,163.68 L2005.75,163.60 L2008.08,163.51 L2010.40,163.42 L2012.73,163.34 L2015.06,163.26 L2017.38,163.18 L2019.71,163.10 L2022.04,163.02 L2024.37,162.95 L2026.69,162.87 L2029.02,162.80 L2031.35,162.73 L2033.67,162.66 L2036.00,162.59 L2038.33,162.53 L2040.66,162.46 L2042.98,162.40 L2045.31,162.33 L2047.64,162.27 L2049.97,162.21 L2052.29,162.15 L2054.62,162.10 L2056.95,162.04 L2059.27,161.98 L2061.60,161.93 L2063.93,161.87 L2066.26,161.82 L2068.58,161.77 L2070.91,161.72 L2073.24,161.67 L2075.57,161.62 L2077.89,161.58 L2080.22,161.53 L2082.55,161.48 L2084.87,161.44 L2087.20,161.40 L2089.53,161.35 L2091.86,161.31 L2094.18,161.27 L2096.51,161.23 L2098.84,161.19 L2101.17,161.15 L2103.49,161.11 L2105.82,161.08 L2108.15,161.04 L2110.47,161.00 L2112.80,160.97 L2115.13,160.93 L2117.46,160.90 L2119.78,160.87 L2122.11,160.84 L2124.44,160.80 L2126.77,160.77 L2129.09,160.74 L2131.42,160.71 L2133.75,160.68 L2136.07,160.65 L2138.40,160.63 L2140.73,160.60 L2143.06,160.57 L2145.38,160.55 L2147.71,160.52 L2150.04,160.49 L2152.37,160.47 L2154.69,160.45 L2157.02,160.42 L2159.35,160.40 L2161.67,160.38 L2164.00,160.35 L2166.33,160.33 L2168.66,160.31 L2170.98,160.29 L2173.31,160.27 L2175.64,160.25 L2177.96,160.23 L2180.29,160.21 L2182.62,160.19 L2184.95,160.17 L2187.27,160.15 L2189.60,160.13 L2191.93,160.12 L2194.26,160.10 L2196.58,160.08 L2198.91,160.06 L2201.24,160.05 L2203.56,160.03 L2205.89,160.02 L2208.22,160.00 L2210.55,159.99 L2212.87,159.97 L2215.20,159.96 L2217.53,159.94 L2219.86,159.93 L2222.18,159.92 L2224.51,159.90 L2226.84,159.89 L2229.16,159.88 L2231.49,159.86 L2233.82,159.85 L2236.15,159.84 L2238.47,159.83 L2240.80,159.82 L2243.13,159.81 L2245.46,159.79 L2247.78,159.78 L2250.11,159.77 L2252.44,159.76 L2254.76,159.75 L2257.09,159.74 L2259.42,159.73 L2261.75,159.72 L2264.07,159.71 L2266.40,159.70 L2268.73,159.69 L2271.06,159.69 L2273.38,159.68 L2275.71,159.67 L2278.04,159.66 L2280.36,159.65 L2282.69,159.64 L2285.02,159.64 L2287.35,159.63 L2289.67,159.62 L2292.00,159.61 L2294.33,159.61 L2296.66,159.60 L2298.98,159.59 L2301.31,159.59 L2303.64,159.58 L2305.96,159.57 L2308.29,159.57 L2310.62,159.56 L2312.95,159.55 L2315.27,159.55 L2317.60,159.54 L2319.93,159.54 L2322.25,159.53 L2324.58,159.52 L2326.91,159.52 L2329.24,159.51 L2331.56,159.51 L2333.89,159.50 L2336.22,159.50 L2338.55,159.49 L2340.87,159.49 L2343.20,159.48 L2345.53,159.48 L2347.85,159.47 L2350.18,159.47 L2352.51,159.47 L2354.84,159.46 L2357.16,159.46 L2359.49,159.45 L2361.82,159.45 L2364.15,159.44 L2366.47,159.44 L2368.80,159.44 L2369.80,159.44"/>
<path stroke="#ff00ff" d="M1441.00,739.25 L1441.01,741.57 L1441.02,743.88 L1441.03,746.15 L1441.05,748.38 L1441.06,750.57 L1441.07,752.71 L1441.08,754.79 L1441.09,756.79 L1441.10,758.72 L1441.12,760.57 L1441.13,762.32 L1441.14,763.97 L1441.15,765.52 L1441.16,766.95 L1441.17,768.25 L1441.19,769.47 L1441.20,770.66 L1441.21,771.82 L1441.22,772.95 L1441.23,774.05 L1441.24,775.11 L1441.26,776.15 L1441.27,777.16 L1441.28,778.13 L1441.29,779.08 L1441.30,780.00 L1441.31,780.89 L1441.32,781.75 L1441.34,782.58 L1441.35,783.39 L1441.36,784.17 L1441.37,784.92 L1441.38,785.64 L1441.39,786.34 L1441.41,787.01 L1441.42,787.66 L1441.43,788.28 L1441.44,788.88 L1441.45,789.45 L1441.46,790.00 L1441.48,790.53 L1441.49,791.05 L1441.50,791.56 L1441.51,792.07 L1441.52,792.56 L1441.53,793.04 L1441.55,793.52 L1441.56,793.98 L1441.57,794.44 L1441.58,794.89 L1441.63,796.71 L1441.68,798.39 L1441.69,798.91 L1441.73,799.95 L1441.78,801.41 L1441.81,802.32 L1441.83,802.78 L1441.87,804.07 L1441.92,805.28 L1441.92,805.30 L1441.97,806.48 L1442.02,807.63 L1442.04,807.98 L1442.07,808.75 L1442.12,809.83 L1442.15,810.50 L1442.17,810.87 L1442.22,811.87 L1442.27,812.81 L1442.27,812.84 L1442.32,813.77 L1442.37,814.68 L1442.38,814.94 L1442.42,815.55 L1442.46,816.41 L1442.50,816.93 L1442.51,817.24 L1442.56,818.05 L1442.61,818.81 L1442.61,818.84 L1442.66,819.62 L1442.71,820.40 L1442.72,820.61 L1442.76,821.16 L1442.81,821.92 L1442.84,822.38 L1442.86,822.67 L1442.91,823.43 L1442.95,824.14 L1442.96,824.18 L1443.00,824.95 L1443.05,825.72 L1443.07,825.93 L1443.10,826.50 L1443.15,827.28 L1443.18,827.74 L1443.20,828.05 L1443.25,828.82 L1443.30,829.52 L1443.30,829.58 L1443.35,830.33 L1443.40,831.08 L1443.41,831.27 L1443.45,831.82 L1443.50,832.55 L1443.53,832.98 L1443.55,833.28 L1443.59,834.01 L1443.64,834.66 L1443.64,834.72 L1443.69,835.44 L1443.74,836.15 L1443.75,836.32 L1443.79,836.86 L1443.84,837.56 L1443.87,837.95 L1443.89,838.25 L1443.94,838.95 L1443.98,839.57 L1443.99,839.64 L1444.04,840.33 L1444.09,841.01 L1444.10,841.16 L1444.14,841.69 L1444.18,842.37 L1444.21,842.74 L1444.23,843.04 L1444.28,843.71 L1444.33,844.30 L1444.33,844.38 L1444.38,845.04 L1444.43,845.70 L1444.44,845.84 L1444.48,846.35 L1444.55,847.35 L1444.67,848.85 L1444.78,850.33 L1444.90,851.78 L1445.01,853.22 L1445.13,854.65 L1445.24,856.09 L1445.36,857.54 L1445.47,858.96 L1445.58,860.36 L1445.70,861.69 L1445.81,862.95 L1445.93,864.12 L1446.04,865.18 L1446.16,866.21 L1446.27,867.21 L1446.39,868.17 L1446.50,869.10 L1446.61,870.00 L1446.73,870.84 L1446.84,871.64 L1446.96,872.39 L1447.07,873.08 L1447.19,873.72 L1447.30,874.29 L1447.42,874.83 L1447.53,875.36 L1447.64,875.87 L1447.76,876.37 L1447.87,876.85 L1447.99,877.31 L1448.10,877.75 L1448.22,878.17 L1448.33,878.56 L1448.45,878.94 L1448.56,879.29 L1448.67,879.61 L1448.79,879.91 L1448.90,880.19 L1449.02,880.43 L1449.13,880.65 L1449.25,880.85 L1449.36,881.05 L1449.48,881.24 L1449.59,881.42 L1449.70,881.60 L1449.82,881.77 L1449.93,881.94 L1450.05,882.09 L1450.16,882.24 L1450.28,882.39 L1450.39,882.52 L1450.50,882.65 L1450.62,882.77 L1450.73,882.88 L1450.85,882.98 L1450.96,883.08 L1451.08,883.16 L1451.19,883.24 L1451.31,883.31 L1451.42,883.37 L1451.53,883.43 L1451.65,883.48 L1451.76,883.53 L1451.88,883.58 L1451.99,883.63 L1452.11,883.68 L1452.22,883.73 L1452.34,883.78 L1452.45,883.82 L1452.56,883.86 L1452.68,883.91 L1452.79,883.95 L1452.91,883.98 L1453.02,884.02 L1453.14,884.05 L1453.25,884.08 L1453.37,884.11 L1453.48,884.14 L1453.59,884.16 L1453.71,884.18 L1453.82,884.20 L1453.94,884.22 L1454.05,884.23 L1454.17,884.24 L1454.28,884.25 L1454.40,884.25 L1454.51,884.25 L1454.62,884.25 L1454.74,884.25 L1454.85,884.25 L1454.97,884.25 L1455.08,884.25 L1455.20,884.25 L1455.31,884.25 L1455.43,884.25 L1455.54,884.25 L1455.65,884.25 L1455.77,884.25 L1455.88,884.25 L1456.00,884.25 L1456.11,884.25 L1456.23,884.25 L1456.34,884.25 L1456.45,884.25 L1456.57,884.25 L1456.68,884.25 L1456.80,884.25 L1456.91,884.25 L1457.03,884.25 L1457.14,884.25 L1457.26,884.25 L1457.37,884.25 L1457.48,884.25 L1457.60,884.25 L1457.71,884.25 L1457.83,884.25 L1457.94,884.25 L1458.06,884.25 L1458.17,884.25 L1458.29,884.25 L1458.40,884.25 L1458.51,884.25 L1458.63,884.25 L1458.74,884.25 L1458.86,884.25 L1458.97,884.25 L1459.09,884.25 L1459.20,884.25 L1459.32,884.25 L1459.43,884.25 L1459.54,884.25 L1459.66,884.25 L1459.77,884.25 L1459.89,884.25 L1460.00,884.25 L1460.12,884.25 L1460.23,884.25 L1460.35,884.25 L1460.46,884.25 L1460.57,884.25 L1460.69,884.25 L1460.80,884.25 L1460.92,884.25 L1461.03,884.25 L1461.15,884.25 L1461.26,884.25 L1461.38,884.25 L1461.49,884.25 L1461.60,884.25 L1461.72,884.25 L1461.83,884.25 L1461.95,884.25 L1462.06,884.25 L1462.18,884.25 L1462.29,884.25 L1462.40,884.25 L1462.52,884.25 L1462.63,884.25 L1462.75,884.25 L1462.86,884.25 L1462.98,884.25 L1463.09,884.25 L1463.21,884.25 L1463.32,884.25 L1463.43,884.25 L1463.55,884.25 L1463.66,884.25 L1463.78,884.25 L1463.89,884.25 L1464.01,884.25 L1464.12,884.25 L1464.24,884.25 L1464.35,884.25 L1464.46,884.25 L1464.58,884.25 L1464.69,884.25 L1464.81,884.25 L1464.92,884.25 L1465.04,884.25 L1465.15,884.25 L1465.27,884.25 L1465.38,884.25 L1465.49,884.25 L1465.61,884.25 L1465.72,884.25 L1465.84,884.25 L1465.95,884.25 L1466.07,884.25 L1466.18,884.25 L1466.30,884.25 L1466.41,884.25 L1466.52,884.25 L1466.64,884.25 L1466.75,884.25 L1466.87,884.25 L1466.98,884.25 L1467.10,884.25 L1467.21,884.25 L1467.33,884.25 L1467.44,884.25 L1467.55,884.25 L1467.67,884.25 L1467.78,884.25 L1467.90,884.25 L1468.01,884.25 L1468.13,884.25 L1468.24,884.25 L1468.35,884.25 L1468.47,884.25 L1468.58,884.25 L1468.70,884.25 L1468.81,884.25 L1468.93,884.25 L1469.04,884.25 L1469.16,884.25 L1469.27,884.25 L1469.38,884.25 L1469.50,884.25 L1469.61,884.25 L1469.73,884.25 L1469.84,884.25 L1469.96,884.25 L1470.07,884.25 L1470.19,884.25 L1470.30,884.25 L1470.41,884.25 L1470.53,884.25 L1470.64,884.25 L1470.76,884.25 L1470.87,884.25 L1470.99,884.25 L1471.10,884.25 L1471.22,884.25 L1471.33,884.25 L1471.44,884.25 L1471.56,884.25 L1471.67,884.25 L1471.79,884.25 L1471.90,884.25 L1472.02,884.25 L1472.13,884.25 L1472.25,884.25 L1472.36,884.25 L1472.47,884.25 L1472.59,884.25 L1472.70,884.25 L1472.82,884.25 L1472.93,884.25 L1473.05,884.25 L1473.16,884.25 L1473.28,884.25 L1473.39,884.25 L1473.50,884.25 L1473.62,884.25 L1473.73,884.25 L1473.85,884.25 L1473.96,884.25 L1474.08,884.25 L1474.19,884.25 L1474.30,884.25 L1474.42,884.25 L1474.53,884.25 L1474.65,884.25 L1474.76,884.25 L1474.88,884.25 L1474.99,884.25 L1475.11,884.25 L1475.22,884.25 L1475.33,884.25 L1475.45,884.25 L1475.56,884.25 L1475.68,884.25 L1475.79,884.25 L1476.29,884.25 L1476.78,884.25 L1477.27,884.25 L1477.77,884.25 L1478.26,884.25 L1478.76,884.25 L1479.25,884.25 L1479.75,884.25 L1480.24,884.25 L1480.73,884.25 L1481.23,884.25 L1481.72,884.25 L1482.22,884.25 L1482.71,884.25 L1483.20,884.25 L1483.70,884.25 L1484.19,884.25 L1484.69,884.25 L1485.18,884.25 L1485.68,884.25 L1486.17,884.25 L1486.66,884.25 L1487.16,884.25 L1487.65,884.25 L1488.15,884.25 L1488.64,884.25 L1489.13,884.25 L1489.63,884.25 L1490.12,884.25 L1490.62,884.25 L1491.11,884.25 L1491.60,884.25 L1492.10,884.25 L1492.59,884.25 L1493.09,884.25 L1493.58,884.25 L1494.08,884.25 L1494.57,884.25 L1495.06,884.25 L1495.56,884.25 L1496.05,884.25 L1496.55,884.25 L1497.04,884.25 L1497.53,884.25 L1498.03,884.25 L1498.52,884.25 L1499.02,884.25 L1499.51,884.25 L1500.00,884.25 L1500.50,884.25 L1500.99,884.25 L1501.49,884.25 L1501.98,884.25 L1502.48,884.25 L1502.97,884.25 L1503.46,884.25 L1503.96,884.25 L1504.45,884.25 L1504.95,884.25 L1505.44,884.25 L1505.93,884.25 L1506.43,884.25 L1506.92,884.25 L1507.42,884.25 L1507.91,884.25 L1508.41,884.25 L1508.90,884.25 L1509.39,884.25 L1509.89,884.25 L1510.38,884.25 L1510.88,884.25 L1511.37,884.25 L1511.86,884.25 L1512.36,884.25 L1512.85,884.25 L1513.35,884.25 L1513.84,884.25 L1514.33,884.25 L1514.83,884.25 L1515.32,884.25 L1515.82,884.25 L1516.31,884.25 L1516.81,884.25 L1517.30,884.25 L1517.79,884.25 L1518.29,884.25 L1518.78,884.25 L1519.28,884.25 L1519.77,884.25 L1520.26,884.25 L1520.76,884.25 L1521.25,884.25 L1521.75,884.25 L1522.24,884.25 L1522.73,884.25 L1523.23,884.25 L1523.72,884.25 L1524.22,884.25 L1524.71,884.25 L1525.21,884.25 L1525.70,884.25 L1526.19,884.25 L1526.69,884.25 L1527.18,884.25 L1527.68,884.25 L1528.17,884.25 L1528.66,884.25 L1529.16,884.25 L1529.65,884.25 L1530.15,884.25 L1530.64,884.25 L1531.13,884.25 L1531.63,884.25 L1532.12,884.25 L1532.62,884.25 L1533.11,884.25 L1533.61,884.25 L1534.10,884.25 L1534.59,884.25 L1535.09,884.25 L1535.58,884.25 L1536.08,884.25 L1536.57,884.25 L1537.06,884.25 L1537.56,884.25 L1538.05,884.25 L1538.55,884.25 L1539.04,884.25 L1539.54,884.25 L1540.03,884.25 L1540.52,884.25 L1541.02,884.25 L1541.51,884.25 L1542.01,884.25 L1542.50,884.25 L1542.99,884.25 L1543.49,884.25 L1543.98,884.25 L1544.48,884.25 L1544.97,884.25 L1545.46,884.25 L1545.96,884.25 L1546.45,884.25 L1546.95,884.25 L1547.44,884.25 L1547.94,884.25 L1548.43,884.25 L1548.92,884.25 L1549.42,884.25 L1549.91,884.25 L1550.41,884.25 L1550.90,884.25 L1551.39,884.25 L1551.89,884.25 L1552.38,884.25 L1552.88,884.25 L1553.37,884.25 L1553.86,884.25 L1554.36,884.25 L1554.85,884.25 L1555.35,884.25 L1555.84,884.25 L1556.34,884.25 L1556.83,884.25 L1557.32,884.25 L1557.82,884.25 L1558.31,884.25 L1558.81,884.25 L1559.30,884.25 L1559.79,884.25 L1560.29,884.25 L1560.78,884.25 L1561.28,884.25 L1561.77,884.25 L1562.27,884.25 L1562.76,884.25 L1563.25,884.25 L1563.75,884.25 L1564.24,884.25 L1564.74,884.25 L1565.23,884.25 L1565.72,884.25 L1566.22,884.25 L1566.71,884.25 L1567.21,884.25 L1567.70,884.25 L1568.19,884.25 L1568.69,884.25 L1569.18,884.25 L1569.68,884.25 L1570.17,884.25 L1570.67,884.25 L1571.16,884.25 L1571.65,884.25 L1572.15,884.25 L1572.64,884.25 L1573.14,884.25 L1573.63,884.25 L1574.12,884.25 L1574.62,884.25 L1575.11,884.25 L1575.61,884.25 L1576.10,884.25 L1576.59,884.25 L1577.09,884.25 L1577.58,884.25 L1578.08,884.25 L1578.57,884.25 L1579.07,884.25 L1579.56,884.25 L1580.05,884.25 L1580.55,884.25 L1581.04,884.25 L1581.54,884.25 L1582.03,884.25 L1582.52,884.25 L1583.02,884.25 L1583.51,884.25 L1584.01,884.25 L1584.50,884.25 L1585.00,884.25 L1585.49,884.25 L1585.98,884.25 L1586.48,884.25 L1586.97,884.25 L1587.47,884.25 L1587.96,884.25 L1588.45,884.25 L1588.95,884.25 L1589.44,884.25 L1589.94,884.25 L1590.43,884.25 L1590.92,884.25 L1591.42,884.25 L1591.91,884.25 L1592.41,884.25 L1592.90,884.25 L1593.40,884.25 L1593.89,884.25 L1594.38,884.25 L1594.88,884.25 L1595.37,884.25 L1595.87,884.25 L1596.36,884.25 L1596.85,884.25 L1597.35,884.25 L1597.84,884.25 L1598.34,884.25 L1598.83,884.25 L1599.32,884.25 L1599.82,884.25 L1600.31,884.25 L1600.81,884.25 L1601.30,884.25 L1601.80,884.25 L1602.29,884.25 L1602.78,884.25 L1603.28,884.25 L1603.77,884.25 L1604.27,884.25 L1604.76,884.25 L1605.25,884.25 L1605.75,884.25 L1606.24,884.25 L1606.74,884.25 L1607.23,884.25 L1607.72,884.25 L1608.22,884.25 L1608.71,884.25 L1609.21,884.25 L1609.70,884.25 L1610.20,884.25 L1610.69,884.25 L1611.18,884.25 L1611.68,884.25 L1612.17,884.25 L1612.67,884.25 L1613.16,884.25 L1613.65,884.25 L1614.15,884.25 L1614.64,884.25 L1615.14,884.25 L1615.63,884.25 L1616.13,884.25 L1616.62,884.25 L1617.11,884.25 L1617.61,884.25 L1618.10,884.25 L1618.60,884.25 L1619.09,884.25 L1619.58,884.25 L1620.08,884.25 L1620.57,884.25 L1621.07,884.25 L1621.56,884.25 L1622.05,884.25 L1622.55,884.25 L1623.04,884.25 L1623.54,884.25 L1624.03,884.25 L1624.53,884.25 L1625.02,884.25 L1625.51,884.25 L1626.01,884.25 L1626.50,884.25 L1627.00,884.25 L1627.49,884.25 L1627.98,884.25 L1628.48,884.25 L1628.97,884.25 L1629.47,884.25 L1629.96,884.25 L1630.45,884.25 L1630.95,884.25 L1631.44,884.25 L1631.94,884.25 L1632.43,884.25 L1632.93,884.25 L1633.42,884.25 L1633.91,884.25 L1634.41,884.25 L1634.90,884.25 L1635.40,884.25 L1635.89,884.25 L1636.38,884.25 L1636.88,884.25 L1637.37,884.25 L1637.87,884.25 L1638.36,884.25 L1638.86,884.25 L1639.35,884.25 L1639.84,884.25 L1640.34,884.25 L1640.83,884.25 L1641.33,884.25 L1641.82,884.25 L1642.31,884.25 L1642.81,884.25 L1643.30,884.25 L1643.80,884.25 L1644.29,884.25 L1644.78,884.25 L1645.28,884.25 L1645.77,884.25 L1646.27,884.25 L1646.76,884.25 L1647.26,884.25 L1647.75,884.25 L1648.24,884.25 L1648.74,884.25 L1649.23,884.25 L1649.73,884.25 L1650.22,884.25 L1650.71,884.25 L1651.21,884.25 L1651.70,884.25 L1652.20,884.25 L1652.69,884.25 L1653.18,884.25 L1653.68,884.25 L1654.17,884.25 L1654.67,884.25 L1655.16,884.25 L1655.66,884.25 L1656.15,884.25 L1656.64,884.25 L1657.14,884.25 L1657.63,884.25 L1658.13,884.25 L1658.62,884.25 L1659.11,884.25 L1659.61,884.25 L1660.10,884.25 L1660.60,884.25 L1661.09,884.25 L1661.59,884.25 L1662.08,884.25 L1662.57,884.25 L1663.07,884.25 L1663.56,884.25 L1664.06,884.25 L1664.55,884.25 L1665.04,884.25 L1665.54,884.25 L1666.03,884.25 L1666.53,884.25 L1667.02,884.25 L1667.51,884.25 L1668.01,884.25 L1668.50,884.25 L1669.00,884.25 L1669.49,884.25 L1669.99,884.25 L1670.48,884.25 L1670.97,884.25 L1671.47,884.25 L1671.96,884.25 L1672.46,884.25 L1672.95,884.25 L1675.28,884.25 L1677.60,884.25 L1679.93,884.25 L1682.26,884.25 L1684.59,884.25 L1686.91,884.25 L1689.24,884.25 L1691.57,884.25 L1693.90,884.25 L1696.22,884.25 L1698.55,884.25 L1700.88,884.25 L1703.20,884.25 L1705.53,884.25 L1707.86,884.25 L1710.19,884.25 L1712.51,884.25 L1714.84,884.25 L1717.17,884.25 L1719.50,884.25 L1721.82,884.25 L1724.15,884.25 L1726.48,884.25 L1728.80,884.25 L1731.13,884.25 L1733.46,884.25 L1735.79,884.25 L1738.11,884.25 L1740.44,884.25 L1742.77,884.25 L1745.09,884.25 L1747.42,884.25 L1749.75,884.25 L1752.08,884.25 L1754.40,884.25 L1756.73,884.25 L1759.06,884.25 L1761.39,884.25 L1763.71,884.25 L1766.04,884.25 L1768.37,884.25 L1770.69,884.25 L1773.02,884.25 L1775.35,884.25 L1777.68,884.25 L1780.00,884.25 L1782.33,884.25 L1784.66,884.25 L1786.99,884.25 L1789.31,884.25 L1791.64,884.25 L1793.97,884.25 L1796.29,884.25 L1798.62,884.25 L1800.95,884.25 L1803.28,884.25 L1805.60,884.25 L1807.93,884.25 L1810.26,884.25 L1812.59,884.25 L1814.91,884.25 L1817.24,884.25 L1819.57,884.25 L1821.89,884.25 L1824.22,884.25 L1826.55,884.25 L1828.88,884.25 L1831.20,884.25 L1833.53,884.25 L1835.86,884.25 L1838.19,884.25 L1840.51,884.25 L1842.84,884.25 L1845.17,884.25 L1847.49,884.25 L1849.82,884.25 L1852.15,884.25 L1854.48,884.25 L1856.80,884.25 L1859.13,884.25 L1861.46,884.25 L1863.79,884.25 L1866.11,884.25 L1868.44,884.25 L1870.77,884.25 L1873.09,884.25 L1875.42,884.25 L1877.75,884.25 L1880.08,884.25 L1882.40,884.25 L1884.73,884.25 L1887.06,884.25 L1889.38,884.25 L1891.71,884.25 L1894.04,884.25 L1896.37,884.25 L1898.69,884.25 L1901.02,884.25 L1903.35,884.25 L1905.68,884.25 L1908.00,884.25 L1910.33,884.25 L1912.66,884.25 L1914.98,884.25 L1917.31,884.25 L1919.64,884.25 L1921.97,884.25 L1924.29,884.25 L1926.62,884.25 L1928.95,884.25 L1931.28,884.25 L1933.60,884.25 L1935.93,884.25 L1938.26,884.25 L1940.58,884.25 L1942.91,884.25 L1945.24,884.25 L1947.57,884.25 L1949.89,884.25 L1952.22,884.25 L1954.55,884.25 L1956.88,884.25 L1959.20,884.25 L1961.53,884.25 L1963.86,884.25 L1966.18,884.25 L1968.51,884.25 L1970.84,884.25 L1973.17,884.25 L1975.49,884.25 L1977.82,884.25 L1980.15,884.25 L1982.48,884.25 L1984.80,884.25 L1987.13,884.25 L1989.46,884.25 L1991.78,884.25 L1994.11,884.25 L1996.44,884.25 L1998.77,884.25 L2001.09,884.25 L2003.42,884.25 L2005.75,884.25 L2008.08,884.25 L2010.40,884.25 L2012.73,884.25 L2015.06,884.25 L2017.38,884.25 L2019.71,884.25 L2022.04,884.25 L2024.37,884.25 L2026.69,884.25 L2029.02,884.25 L2031.35,884.25 L2033.67,884.25 L2036.00,884.25 L2038.33,884.25 L2040.66,884.25 L2042.98,884.25 L2045.31,884.25 L2047.64,884.25 L2049.97,884.25 L2052.29,884.25 L2054.62,884.25 L2056.95,884.25 L2059.27,884.25 L2061.60,884.25 L2063.93,884.25 L2066.26,884.25 L2068.58,884.25 L2070.91,884.25 L2073.24,884.25 L2075.57,884.25 L2077.89,884.25 L2080.22,884.25 L2082.55,884.25 L2084.87,884.25 L2087.20,884.25 L2089.53,884.25 L2091.86,884.25 L2094.18,884.25 L2096.51,884.25 L2098.84,884.25 L2101.17,884.25 L2103.49,884.25 L2105.82,884.25 L2108.15,884.25 L2110.47,884.25 L2112.80,884.25 L2115.13,884.25 L2117.46,884.25 L2119.78,884.25 L2122.11,884.25 L2124.44,884.25 L2126.77,884.25 L2129.09,884.25 L2131.42,884.25 L2133.75,884.25 L2136.07,884.25 L2138.40,884.25 L2140.73,884.25 L2143.06,884.25 L2145.38,884.25 L2147.71,884.25 L2150.04,884.25 L2152.37,884.25 L2154.69,884.25 L2157.02,884.25 L2159.35,884.25 L2161.67,884.25 L2164.00,884.25 L2166.33,884.25 L2168.66,884.25 L2170.98,884.25 L2173.31,884.25 L2175.64,884.25 L2177.96,884.25 L2180.29,884.25 L2182.62,884.25 L2184.95,884.25 L2187.27,884.25 L2189.60,884.25 L2191.93,884.25 L2194.26,884.25 L2196.58,884.25 L2198.91,884.25 L2201.24,884.25 L2203.56,884.25 L2205.89,884.25 L2208.22,884.25 L2210.55,884.25 L2212.87,884.25 L2215.20,884.25 L2217.53,884.25 L2219.86,884.25 L2222.18,884.25 L2224.51,884.25 L2226.84,884.25 L2229.16,884.25 L2231.49,884.25 L2233.82,884.25 L2236.15,884.25 L2238.47,884.25 L2240.80,884.25 L2243.13,884.25 L2245.46,884.25 L2247.78,884.25 L2250.11,884.25 L2252.44,884.25 L2254.76,884.25 L2257.09,884.25 L2259.42,884.25 L2261.75,884.25 L2264.07,884.25 L2266.40,884.25 L2268.73,884.25 L2271.06,884.25 L2273.38,884.25 L2275.71,884.25 L2278.04,884.25 L2280.36,884.25 L2282.69,884.25 L2285.02,884.25 L2287.35,884.25 L2289.67,884.25 L2292.00,884.25 L2294.33,884.25 L2296.66,884.25 L2298.98,884.25 L2301.31,884.25 L2303.64,884.25 L2305.96,884.25 L2308.29,884.25 L2310.62,884.25 L2312.95,884.25 L2315.27,884.25 L2317.60,884.25 L2319.93,884.25 L2322.25,884.25 L2324.58,884.25 L2326.91,884.25 L2329.24,884.25 L2331.56,884.25 L2333.89,884.25 L2336.22,884.25 L2338.55,884.25 L2340.87,884.25 L2343.20,884.25 L2345.53,884.25 L2347.85,884.25 L2350.18,884.25 L2352.51,884.25 L2354.84,884.25 L2357.16,884.25 L2359.49,884.25 L2361.82,884.25 L2364.15,884.25 L2366.47,884.25 L2368.80,884.25 L2369.80,884.25"/>
<path stroke="#00ff00" d="M1441.00,739.25 L1441.01,653.37 L1441.02,595.79 L1441.03,557.16 L1441.05,531.25 L1441.06,513.86 L1441.07,502.17 L1441.08,494.32 L1441.09,489.03 L1441.10,485.47 L1441.12,483.05 L1441.13,481.41 L1441.14,480.29 L1441.15,479.51 L1441.16,478.96 L1441.17,478.58 L1441.19,478.29 L1441.20,478.08 L1441.21,477.91 L1441.22,477.77 L1441.23,477.66 L1441.24,477.56 L1441.26,477.47 L1441.27,477.38 L1441.28,477.30 L1441.29,477.22 L1441.30,477.14 L1441.31,477.06 L1441.32,476.99 L1441.34,476.91 L1441.35,476.84 L1441.36,476.76 L1441.37,476.69 L1441.38,476.61 L1441.39,476.54 L1441.41,476.46 L1441.42,476.39 L1441.43,476.31 L1441.44,476.23 L1441.45,476.16 L1441.46,476.08 L1441.48,476.00 L1441.49,475.93 L1441.50,475.85 L1441.51,475.77 L1441.52,475.70 L1441.53,475.62 L1441.55,475.54 L1441.56,475.46 L1441.57,475.38 L1441.58,475.31 L1441.63,474.97 L1441.68,474.63 L1441.69,474.52 L1441.73,474.29 L1441.78,473.95 L1441.81,473.72 L1441.83,473.60 L1441.87,473.25 L1441.92,472.90 L1441.92,472.89 L1441.97,472.53 L1442.02,472.16 L1442.04,472.04 L1442.07,471.78 L1442.12,471.40 L1442.15,471.15 L1442.17,471.01 L1442.22,470.62 L1442.27,470.24 L1442.27,470.23 L1442.32,469.83 L1442.37,469.42 L1442.38,469.30 L1442.42,469.02 L1442.46,468.61 L1442.50,468.36 L1442.51,468.20 L1442.56,467.79 L1442.61,467.40 L1442.61,467.38 L1442.66,466.97 L1442.71,466.56 L1442.72,466.45 L1442.76,466.16 L1442.81,465.75 L1442.84,465.50 L1442.86,465.35 L1442.91,464.94 L1442.95,464.57 L1442.96,464.55 L1443.00,464.15 L1443.05,463.76 L1443.07,463.65 L1443.10,463.37 L1443.15,462.98 L1443.18,462.75 L1443.20,462.59 L1443.25,462.20 L1443.30,461.84 L1443.30,461.81 L1443.35,461.42 L1443.40,461.03 L1443.41,460.93 L1443.45,460.64 L1443.50,460.24 L1443.53,460.01 L1443.55,459.84 L1443.59,459.44 L1443.64,459.07 L1443.64,459.04 L1443.69,458.63 L1443.74,458.21 L1443.75,458.11 L1443.79,457.79 L1443.84,457.36 L1443.87,457.12 L1443.89,456.93 L1443.94,456.49 L1443.98,456.09 L1443.99,456.04 L1444.04,455.58 L1444.09,455.11 L1444.10,455.00 L1444.14,454.63 L1444.18,454.14 L1444.21,453.86 L1444.23,453.64 L1444.28,453.14 L1444.33,452.69 L1444.33,452.63 L1444.38,452.12 L1444.43,451.61 L1444.44,451.50 L1444.48,451.09 L1444.55,450.30 L1444.67,449.12 L1444.78,447.96 L1444.90,446.84 L1445.01,445.76 L1445.13,444.68 L1445.24,443.61 L1445.36,442.55 L1445.47,441.51 L1445.58,440.49 L1445.70,439.50 L1445.81,438.53 L1445.93,437.59 L1446.04,436.69 L1446.16,435.81 L1446.27,434.96 L1446.39,434.12 L1446.50,433.30 L1446.61,432.48 L1446.73,431.66 L1446.84,430.84 L1446.96,430.00 L1447.07,429.19 L1447.19,428.38 L1447.30,427.59 L1447.42,426.79 L1447.53,425.97 L1447.64,425.14 L1447.76,424.28 L1447.87,423.38 L1447.99,422.44 L1448.10,421.47 L1448.22,420.48 L1448.33,419.45 L1448.45,418.40 L1448.56,417.33 L1448.67,416.24 L1448.79,415.14 L1448.90,414.03 L1449.02,412.91 L1449.13,411.78 L1449.25,410.65 L1449.36,409.52 L1449.48,408.40 L1449.59,407.28 L1449.70,406.17 L1449.82,405.08 L1449.93,404.00 L1450.05,402.94 L1450.16,401.90 L1450.28,400.89 L1450.39,399.89 L1450.50,398.91 L1450.62,397.93 L1450.73,396.96 L1450.85,396.00 L1450.96,395.05 L1451.08,394.10 L1451.19,393.16 L1451.31,392.22 L1451.42,391.29 L1451.53,390.36 L1451.65,389.44 L1451.76,388.52 L1451.88,387.60 L1451.99,386.69 L1452.11,385.78 L1452.22,384.87 L1452.34,383.96 L1452.45,383.05 L1452.56,382.14 L1452.68,381.24 L1452.79,380.33 L1452.91,379.43 L1453.02,378.53 L1453.14,377.63 L1453.25,376.74 L1453.37,375.85 L1453.48,374.96 L1453.59,374.07 L1453.71,373.19 L1453.82,372.31 L1453.94,371.43 L1454.05,370.56 L1454.17,369.68 L1454.28,368.81 L1454.40,367.95 L1454.51,367.08 L1454.62,366.22 L1454.74,365.36 L1454.85,364.50 L1454.97,363.65 L1455.08,362.80 L1455.20,361.95 L1455.31,361.10 L1455.43,360.26 L1455.54,359.42 L1455.65,358.58 L1455.77,357.74 L1455.88,356.91 L1456.00,356.08 L1456.11,355.25 L1456.23,354.43 L1456.34,353.60 L1456.45,352.78 L1456.57,351.97 L1456.68,351.15 L1456.80,350.34 L1456.91,349.53 L1457.03,348.72 L1457.14,347.92 L1457.26,347.11 L1457.37,346.31 L1457.48,345.51 L1457.60,344.72 L1457.71,343.93 L1457.83,343.14 L1457.94,342.35 L1458.06,341.56 L1458.17,340.78 L1458.29,340.00 L1458.40,339.22 L1458.51,338.45 L1458.63,337.67 L1458.74,336.90 L1458.86,336.14 L1458.97,335.37 L1459.09,334.61 L1459.20,333.85 L1459.32,333.09 L1459.43,332.33 L1459.54,331.58 L1459.66,330.83 L1459.77,330.08 L1459.89,329.33 L1460.00,328.59 L1460.12,327.84 L1460.23,327.11 L1460.35,326.37 L1460.46,325.63 L1460.57,324.90 L1460.69,324.17 L1460.80,323.44 L1460.92,322.72 L1461.03,322.00 L1461.15,321.27 L1461.26,320.56 L1461.38,319.84 L1461.49,319.13 L1461.60,318.42 L1461.72,317.71 L1461.83,317.00 L1461.95,316.29 L1462.06,315.59 L1462.18,314.89 L1462.29,314.19 L1462.40,313.50 L1462.52,312.81 L1462.63,312.11 L1462.75,311.43 L1462.86,310.74 L1462.98,310.05 L1463.09,309.37 L1463.21,308.69 L1463.32,308.02 L1463.43,307.34 L1463.55,306.67 L1463.66,306.00 L1463.78,305.33 L1463.89,304.66 L1464.01,304.00 L1464.12,303.33 L1464.24,302.67 L1464.35,302.02 L1464.46,301.36 L1464.58,300.71 L1464.69,300.05 L1464.81,299.40 L1464.92,298.76 L1465.04,298.11 L1465.15,297.47 L1465.27,296.83 L1465.38,296.19 L1465.49,295.55 L1465.61,294.92 L1465.72,294.29 L1465.84,293.66 L1465.95,293.03 L1466.07,292.40 L1466.18,291.78 L1466.30,291.16 L1466.41,290.54 L1466.52,289.92 L1466.64,289.30 L1466.75,288.69 L1466.87,288.08 L1466.98,287.47 L1467.10,286.86 L1467.21,286.26 L1467.33,285.65 L1467.44,285.05 L1467.55,284.45 L1467.67,283.86 L1467.78,283.26 L1467.90,282.67 L1468.01,282.08 L1468.13,281.49 L1468.24,280.90 L1468.35,280.32 L1468.47,279.73 L1468.58,279.15 L1468.70,278.57 L1468.81,278.00 L1468.93,277.42 L1469.04,276.85 L1469.16,276.28 L1469.27,275.71 L1469.38,275.14 L1469.50,274.57 L1469.61,274.01 L1469.73,273.45 L1469.84,272.89 L1469.96,272.33 L1470.07,271.78 L1470.19,271.22 L1470.30,270.67 L1470.41,270.12 L1470.53,269.57 L1470.64,269.03 L1470.76,268.48 L1470.87,267.94 L1470.99,267.40 L1471.10,266.86 L1471.22,266.32 L1471.33,265.79 L1471.44,265.26 L1471.56,264.73 L1471.67,264.20 L1471.79,263.67 L1471.90,263.14 L1472.02,262.62 L1472.13,262.10 L1472.25,261.58 L1472.36,261.06 L1472.47,260.54 L1472.59,260.03 L1472.70,259.52 L1472.82,259.01 L1472.93,258.50 L1473.05,257.99 L1473.16,257.48 L1473.28,256.98 L1473.39,256.48 L1473.50,255.98 L1473.62,255.48 L1473.73,254.98 L1473.85,254.49 L1473.96,254.00 L1474.08,253.51 L1474.19,253.02 L1474.30,252.53 L1474.42,252.04 L1474.53,251.56 L1474.65,251.08 L1474.76,250.60 L1474.88,250.12 L1474.99,249.64 L1475.11,249.17 L1475.22,248.69 L1475.33,248.22 L1475.45,247.75 L1475.56,247.28 L1475.68,246.82 L1475.79,246.35 L1476.29,244.36 L1476.78,242.40 L1477.27,240.48 L1477.77,238.58 L1478.26,236.72 L1478.76,234.89 L1479.25,233.08 L1479.75,231.31 L1480.24,229.56 L1480.73,227.84 L1481.23,226.16 L1481.72,224.50 L1482.22,222.86 L1482.71,221.26 L1483.20,219.68 L1483.70,218.13 L1484.19,216.61 L1484.69,215.11 L1485.18,213.64 L1485.68,212.20 L1486.17,210.78 L1486.66,209.39 L1487.16,208.02 L1487.65,206.68 L1488.15,205.36 L1488.64,204.07 L1489.13,202.80 L1489.63,201.55 L1490.12,200.33 L1490.62,199.13 L1491.11,197.96 L1491.60,196.81 L1492.10,195.68 L1492.59,194.57 L1493.09,193.48 L1493.58,192.42 L1494.08,191.38 L1494.57,190.36 L1495.06,189.36 L1495.56,188.38 L1496.05,187.42 L1496.55,186.48 L1497.04,185.57 L1497.53,184.67 L1498.03,183.79 L1498.52,182.93 L1499.02,182.09 L1499.51,181.28 L1500.00,180.47 L1500.50,179.69 L1500.99,178.93 L1501.49,178.19 L1501.98,177.46 L1502.48,176.75 L1502.97,176.06 L1503.46,175.39 L1503.96,174.73 L1504.45,174.09 L1504.95,173.47 L1505.44,172.86 L1505.93,172.27 L1506.43,171.70 L1506.92,171.14 L1507.42,170.60 L1507.91,170.08 L1508.41,169.57 L1508.90,169.08 L1509.39,168.60 L1509.89,168.13 L1510.38,167.69 L1510.88,167.25 L1511.37,166.83 L1511.86,166.43 L1512.36,166.04 L1512.85,165.66 L1513.35,165.30 L1513.84,164.95 L1514.33,164.61 L1514.83,164.29 L1515.32,163.98 L1515.82,163.69 L1516.31,163.41 L1516.81,163.14 L1517.30,162.88 L1517.79,162.63 L1518.29,162.40 L1518.78,162.18 L1519.28,161.97 L1519.77,161.78 L1520.26,161.59 L1520.76,161.42 L1521.25,161.26 L1521.75,161.11 L1522.24,160.97 L1522.73,160.84 L1523.23,160.72 L1523.72,160.62 L1524.22,160.52 L1524.71,160.44 L1525.21,160.36 L1525.70,160.30 L1526.19,160.25 L1526.69,160.20 L1527.18,160.17 L1527.68,160.14 L1528.17,160.13 L1528.66,160.12 L1529.16,160.13 L1529.65,160.14 L1530.15,160.16 L1530.64,160.19 L1531.13,160.23 L1531.63,160.28 L1532.12,160.34 L1532.62,160.41 L1533.11,160.48 L1533.61,160.57 L1534.10,160.66 L1534.59,160.76 L1535.09,160.87 L1535.58,160.98 L1536.08,161.11 L1536.57,161.24 L1537.06,161.38 L1537.56,161.52 L1538.05,161.68 L1538.55,161.84 L1539.04,162.01 L1539.54,162.18 L1540.03,162.36 L1540.52,162.55 L1541.02,162.75 L1541.51,162.95 L1542.01,163.16 L1542.50,163.38 L1542.99,163.60 L1543.49,163.83 L1543.98,164.07 L1544.48,164.31 L1544.97,164.56 L1545.46,164.81 L1545.96,165.07 L1546.45,165.34 L1546.95,165.61 L1547.44,165.89 L1547.94,166.17 L1548.43,166.46 L1548.92,166.75 L1549.42,167.05 L1549.91,167.35 L1550.41,167.66 L1550.90,167.98 L1551.39,168.30 L1551.89,168.62 L1552.38,168.95 L1552.88,169.29 L1553.37,169.63 L1553.86,169.97 L1554.36,170.32 L1554.85,170.67 L1555.35,171.03 L1555.84,171.39 L1556.34,171.76 L1556.83,172.13 L1557.32,172.51 L1557.82,172.89 L1558.31,173.27 L1558.81,173.66 L1559.30,174.05 L1559.79,174.44 L1560.29,174.84 L1560.78,175.24 L1561.28,175.65 L1561.77,176.06 L1562.27,176.47 L1562.76,176.89 L1563.25,177.31 L1563.75,177.74 L1564.24,178.16 L1564.74,178.59 L1565.23,179.03 L1565.72,179.46 L1566.22,179.90 L1566.71,180.35 L1567.21,180.79 L1567.70,181.24 L1568.19,181.69 L1568.69,182.15 L1569.18,182.61 L1569.68,183.07 L1570.17,183.53 L1570.67,184.00 L1571.16,184.46 L1571.65,184.94 L1572.15,185.41 L1572.64,185.88 L1573.14,186.36 L1573.63,186.84 L1574.12,187.33 L1574.62,187.81 L1575.11,188.30 L1575.61,188.79 L1576.10,189.28 L1576.59,189.77 L1577.09,190.27 L1577.58,190.76 L1578.08,191.26 L1578.57,191.77 L1579.07,192.27 L1579.56,192.77 L1580.05,193.28 L1580.55,193.79 L1581.04,194.30 L1581.54,194.81 L1582.03,195.32 L1582.52,195.84 L1583.02,196.36 L1583.51,196.87 L1584.01,197.39 L1584.50,197.91 L1585.00,198.44 L1585.49,198.96 L1585.98,199.49 L1586.48,200.01 L1586.97,200.54 L1587.47,201.07 L1587.96,201.60 L1588.45,202.13 L1588.95,202.66 L1589.44,203.19 L1589.94,203.73 L1590.43,204.26 L1590.92,204.80 L1591.42,205.34 L1591.91,205.88 L1592.41,206.42 L1592.90,206.95 L1593.40,207.50 L1593.89,208.04 L1594.38,208.58 L1594.88,209.12 L1595.37,209.67 L1595.87,210.21 L1596.36,210.76 L1596.85,211.30 L1597.35,211.85 L1597.84,212.39 L1598.34,212.94 L1598.83,213.49 L1599.32,214.04 L1599.82,214.59 L1600.31,215.14 L1600.81,215.69 L1601.30,216.24 L1601.80,216.79 L1602.29,217.34 L1602.78,217.89 L1603.28,218.44 L1603.77,218.99 L1604.27,219.54 L1604.76,220.10 L1605.25,220.65 L1605.75,221.20 L1606.24,221.75 L1606.74,222.31 L1607.23,222.86 L1607.72,223.41 L1608.22,223.96 L1608.71,224.52 L1609.21,225.07 L1609.70,225.62 L1610.20,226.18 L1610.69,226.73 L1611.18,227.28 L1611.68,227.84 L1612.17,228.39 L1612.67,228.94 L1613.16,229.49 L1613.65,230.05 L1614.15,230.60 L1614.64,231.15 L1615.14,231.70 L1615.63,232.25 L1616.13,232.81 L1616.62,233.36 L1617.11,233.91 L1617.61,234.46 L1618.10,235.01 L1618.60,235.56 L1619.09,236.11 L1619.58,236.66 L1620.08,237.21 L1620.57,237.76 L1621.07,238.31 L1621.56,238.85 L1622.05,239.40 L1622.55,239.95 L1623.04,240.49 L1623.54,241.04 L1624.03,241.59 L1624.53,242.13 L1625.02,242.68 L1625.51,243.22 L1626.01,243.76 L1626.50,244.31 L1627.00,244.85 L1627.49,245.39 L1627.98,245.93 L1628.48,246.47 L1628.97,247.01 L1629.47,247.55 L1629.96,248.09 L1630.45,248.63 L1630.95,249.17 L1631.44,249.71 L1631.94,250.24 L1632.43,250.78 L1632.93,251.31 L1633.42,251.85 L1633.91,252.38 L1634.41,252.91 L1634.90,253.45 L1635.40,253.98 L1635.89,254.51 L1636.38,255.04 L1636.88,255.57 L1637.37,256.09 L1637.87,256.62 L1638.36,257.15 L1638.86,257.67 L1639.35,258.20 L1639.84,258.72 L1640.34,259.25 L1640.83,259.77 L1641.33,260.29 L1641.82,260.81 L1642.31,261.33 L1642.81,261.85 L1643.30,262.37 L1643.80,262.89 L1644.29,263.40 L1644.78,263.92 L1645.28,264.43 L1645.77,264.95 L1646.27,265.46 L1646.76,265.97 L1647.26,266.48 L1647.75,266.99 L1648.24,267.50 L1648.74,268.01 L1649.23,268.52 L1649.73,269.02 L1650.22,269.53 L1650.71,270.03 L1651.21,270.54 L1651.70,271.04 L1652.20,271.54 L1652.69,272.04 L1653.18,272.54 L1653.68,273.04 L1654.17,273.54 L1654.67,274.03 L1655.16,274.53 L1655.66,275.02 L1656.15,275.52 L1656.64,276.01 L1657.14,276.50 L1657.63,276.99 L1658.13,277.48 L1658.62,277.97 L1659.11,278.45 L1659.61,278.94 L1660.10,279.42 L1660.60,279.91 L1661.09,280.39 L1661.59,280.87 L1662.08,281.35 L1662.57,281.83 L1663.07,282.31 L1663.56,282.79 L1664.06,283.26 L1664.55,283.74 L1665.04,284.21 L1665.54,284.68 L1666.03,285.16 L1666.53,285.63 L1667.02,286.10 L1667.51,286.56 L1668.01,287.03 L1668.50,287.50 L1669.00,287.96 L1669.49,288.43 L1669.99,288.89 L1670.48,289.35 L1670.97,289.81 L1671.47,290.27 L1671.96,290.73 L1672.46,291.19 L1672.95,291.64 L1675.28,293.77 L1677.60,295.88 L1679.93,297.96 L1682.26,300.01 L1684.59,302.04 L1686.91,304.05 L1689.24,306.02 L1691.57,307.97 L1693.90,309.90 L1696.22,311.80 L1698.55,313.67 L1700.88,315.52 L1703.20,317.34 L1705.53,319.13 L1707.86,320.90 L1710.19,322.65 L1712.51,324.36 L1714.84,326.06 L1717.17,327.73 L1719.50,329.37 L1721.82,330.99 L1724.15,332.58 L1726.48,334.15 L1728.80,335.70 L1731.13,337.22 L1733.46,338.72 L1735.79,340.19 L1738.11,341.64 L1740.44,343.07 L1742.77,344.48 L1745.09,345.86 L1747.42,347.22 L1749.75,348.56 L1752.08,349.87 L1754.40,351.17 L1756.73,352.44 L1759.06,353.69 L1761.39,354.93 L1763.71,356.14 L1766.04,357.33 L1768.37,358.50 L1770.69,359.65 L1773.02,360.78 L1775.35,361.89 L1777.68,362.99 L1780.00,364.06 L1782.33,365.11 L1784.66,366.15 L1786.99,367.17 L1789.31,368.17 L1791.64,369.16 L1793.97,370.12 L1796.29,371.07 L1798.62,372.01 L1800.95,372.92 L1803.28,373.83 L1805.60,374.71 L1807.93,375.58 L1810.26,376.43 L1812.59,377.27 L1814.91,378.09 L1817.24,378.90 L1819.57,379.70 L1821.89,380.48 L1824.22,381.24 L1826.55,381.99 L1828.88,382.73 L1831.20,383.45 L1833.53,384.17 L1835.86,384.86 L1838.19,385.55 L1840.51,386.22 L1842.84,386.88 L1845.17,387.53 L1847.49,388.17 L1849.82,388.79 L1852.15,389.41 L1854.48,390.01 L1856.80,390.60 L1859.13,391.18 L1861.46,391.75 L1863.79,392.31 L1866.11,392.86 L1868.44,393.39 L1870.77,393.92 L1873.09,394.44 L1875.42,394.95 L1877.75,395.45 L1880.08,395.94 L1882.40,396.42 L1884.73,396.89 L1887.06,397.35 L1889.38,397.80 L1891.71,398.25 L1894.04,398.69 L1896.37,399.11 L1898.69,399.53 L1901.02,399.95 L1903.35,400.35 L1905.68,400.75 L1908.00,401.14 L1910.33,401.52 L1912.66,401.89 L1914.98,402.26 L1917.31,402.62 L1919.64,402.98 L1921.97,403.32 L1924.29,403.66 L1926.62,404.00 L1928.95,404.32 L1931.28,404.65 L1933.60,404.96 L1935.93,405.27 L1938.26,405.57 L1940.58,405.87 L1942.91,406.16 L1945.24,406.45 L1947.57,406.73 L1949.89,407.00 L1952.22,407.27 L1954.55,407.54 L1956.88,407.80 L1959.20,408.05 L1961.53,408.30 L1963.86,408.54 L1966.18,408.78 L1968.51,409.02 L1970.84,409.25 L1973.17,409.48 L1975.49,409.70 L1977.82,409.92 L1980.15,410.13 L1982.48,410.34 L1984.80,410.55 L1987.13,410.75 L1989.46,410.94 L1991.78,411.14 L1994.11,411.33 L1996.44,411.51 L1998.77,411.70 L2001.09,411.87 L2003.42,412.05 L2005.75,412.22 L2008.08,412.39 L2010.40,412.56 L2012.73,412.72 L2015.06,412.88 L2017.38,413.03 L2019.71,413.19 L2022.04,413.34 L2024.37,413.48 L2026.69,413.63 L2029.02,413.77 L2031.35,413.91 L2033.67,414.04 L2036.00,414.18 L2038.33,414.31 L2040.66,414.44 L2042.98,414.56 L2045.31,414.68 L2047.64,414.80 L2049.97,414.92 L2052.29,415.04 L2054.62,415.15 L2056.95,415.26 L2059.27,415.37 L2061.60,415.48 L2063.93,415.59 L2066.26,415.69 L2068.58,415.79 L2070.91,415.89 L2073.24,415.99 L2075.57,416.08 L2077.89,416.17 L2080.22,416.27 L2082.55,416.36 L2084.87,416.44 L2087.20,416.53 L2089.53,416.61 L2091.86,416.70 L2094.18,416.78 L2096.51,416.86 L2098.84,416.94 L2101.17,417.01 L2103.49,417.09 L2105.82,417.16 L2108.15,417.23 L2110.47,417.30 L2112.80,417.37 L2115.13,417.44 L2117.46,417.51 L2119.78,417.57 L2122.11,417.64 L2124.44,417.70 L2126.77,417.76 L2129.09,417.82 L2131.42,417.88 L2133.75,417.94 L2136.07,418.00 L2138.40,418.05 L2140.73,418.11 L2143.06,418.16 L2145.38,418.21 L2147.71,418.26 L2150.04,418.31 L2152.37,418.36 L2154.69,418.41 L2157.02,418.46 L2159.35,418.51 L2161.67,418.55 L2164.00,418.60 L2166.33,418.64 L2168.66,418.68 L2170.98,418.73 L2173.31,418.77 L2175.64,418.81 L2177.96,418.85 L2180.29,418.89 L2182.62,418.92 L2184.95,418.96 L2187.27,419.00 L2189.60,419.03 L2191.93,419.07 L2194.26,419.10 L2196.58,419.14 L2198.91,419.17 L2201.24,419.20 L2203.56,419.24 L2205.89,419.27 L2208.22,419.30 L2210.55,419.33 L2212.87,419.36 L2215.20,419.39 L2217.53,419.41 L2219.86,419.44 L2222.18,419.47 L2224.51,419.50 L2226.84,419.52 L2229.16,419.55 L2231.49,419.57 L2233.82,419.60 L2236.15,419.62 L2238.47,419.64 L2240.80,419.67 L2243.13,419.69 L2245.46,419.71 L2247.78,419.74 L2250.11,419.76 L2252.44,419.78 L2254.76,419.80 L2257.09,419.82 L2259.42,419.84 L2261.75,419.86 L2264.07,419.88 L2266.40,419.89 L2268.73,419.91 L2271.06,419.93 L2273.38,419.95 L2275.71,419.97 L2278.04,419.98 L2280.36,420.00 L2282.69,420.02 L2285.02,420.03 L2287.35,420.05 L2289.67,420.06 L2292.00,420.08 L2294.33,420.09 L2296.66,420.11 L2298.98,420.12 L2301.31,420.13 L2303.64,420.15 L2305.96,420.16 L2308.29,420.17 L2310.62,420.19 L2312.95,420.20 L2315.27,420.21 L2317.60,420.22 L2319.93,420.24 L2322.25,420.25 L2324.58,420.26 L2326.91,420.27 L2329.24,420.28 L2331.56,420.29 L2333.89,420.30 L2336.22,420.31 L2338.55,420.32 L2340.87,420.33 L2343.20,420.34 L2345.53,420.35 L2347.85,420.36 L2350.18,420.37 L2352.51,420.38 L2354.84,420.39 L2357.16,420.39 L2359.49,420.40 L2361.82,420.41 L2364.15,420.42 L2366.47,420.43 L2368.80,420.43 L2369.80,420.43"/>
</g>
<text x="1427.00" y="906.25" font-size="62.5" text-anchor="end">0</text>
<text x="1427.00" y="761.25" font-size="62.5" text-anchor="end">20</text>
<text x="1427.00" y="616.25" font-size="62.5" text-anchor="end">40</text>
<text x="1427.00" y="471.25" font-size="62.5" text-anchor="end">60</text>
<text x="1427.00" y="326.25" font-size="62.5" text-anchor="end">80</text>
<text x="1427.00" y="181.25" font-size="62.5" text-anchor="end">100</text>
<text x="1441.00" y="990.60" font-size="62.5" text-anchor="middle">0</text>
<text x="1672.95" y="990.60" font-size="62.5" text-anchor="middle">20</text>
<text x="1904.90" y="990.60" font-size="62.5" text-anchor="middle">40</text>
<text x="2136.85" y="990.60" font-size="62.5" text-anchor="middle">60</text>
<text x="2368.80" y="990.60" font-size="62.5" text-anchor="middle">80</text>
<text x="1904.90" y="76" font-size="62.5" text-anchor="middle">(b)</text>
<text x="1903.90" y="1063.5" font-size="73.0" text-anchor="middle">time</text>
<text transform="translate(1293.00,522.75) rotate(-90)" x="0" y="0" font-size="73.0" text-anchor="middle">densities</text>
</g>
<rect x="780" y="358" width="332" height="339" fill="#fff"/><rect x="1997" y="467" width="333" height="338" fill="#fff"/>
<g filter="url(#bin)">
<rect x="778" y="358" width="4" height="341" fill="#000"/><rect x="780" y="356" width="334" height="4" fill="#000"/><rect x="1110" y="356" width="4" height="342" fill="#000"/><rect x="778" y="696" width="335" height="3" fill="#000"/>
<path d="M811.00,407.40H968.00" stroke="#ff0000" stroke-width="11.50"/>
<text x="983.00" y="429.40" font-size="62.5">G(t)</text>
<path d="M811.00,487.60H968.00" stroke="#0000ff" stroke-width="11.50"/>
<text x="983.00" y="509.60" font-size="62.5">J(t)</text>
<path d="M811.00,567.80H968.00" stroke="#ff00ff" stroke-width="11.50"/>
<text x="983.00" y="589.80" font-size="62.5">C(t)</text>
<path d="M811.00,648.00H968.00" stroke="#00ff00" stroke-width="11.50"/>
<text x="983.00" y="670.00" font-size="62.5">P(t)</text>
<rect x="1995" y="466" width="4" height="341" fill="#000"/><rect x="1996" y="465" width="335" height="3" fill="#000"/><rect x="2328" y="465" width="3" height="342" fill="#000"/><rect x="1995" y="804" width="335" height="3" fill="#000"/>
<path d="M2028.00,515.90H2185.00" stroke="#ff0000" stroke-width="11.50"/>
<text x="2200.00" y="537.90" font-size="62.5">G(t)</text>
<path d="M2028.00,596.10H2185.00" stroke="#0000ff" stroke-width="11.50"/>
<text x="2200.00" y="618.10" font-size="62.5">J(t)</text>
<path d="M2028.00,676.30H2185.00" stroke="#ff00ff" stroke-width="11.50"/>
<text x="2200.00" y="698.30" font-size="62.5">C(t)</text>
<path d="M2028.00,756.50H2185.00" stroke="#00ff00" stroke-width="11.50"/>
<text x="2200.00" y="778.50" font-size="62.5">P(t)</text>
</g>
</svg>
</body></html>
